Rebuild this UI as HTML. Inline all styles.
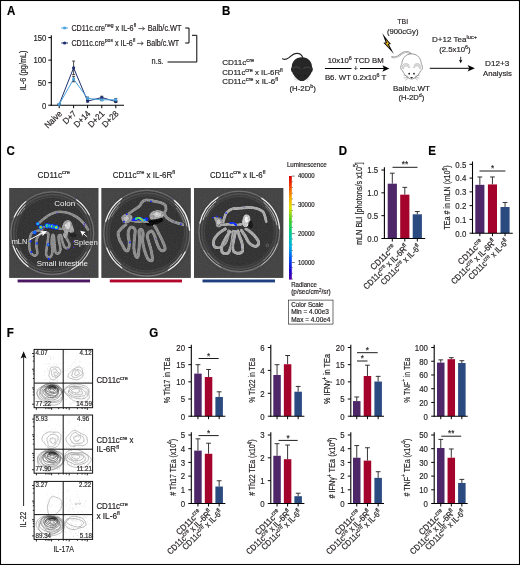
<!DOCTYPE html>
<html><head><meta charset="utf-8"><title>Figure</title>
<style>html,body{margin:0;padding:0;background:#fff}svg{display:block}text{font-family:"Liberation Sans",sans-serif}</style></head><body>
<svg width="520" height="565" viewBox="0 0 520 565">
<defs>
<filter id="b03" x="-20%" y="-20%" width="140%" height="140%"><feGaussianBlur stdDeviation="0.3"/></filter>
<filter id="b05" x="-20%" y="-20%" width="140%" height="140%"><feGaussianBlur stdDeviation="0.5"/></filter>
<filter id="b08" x="-20%" y="-20%" width="140%" height="140%"><feGaussianBlur stdDeviation="0.8"/></filter>
<filter id="b12" x="-30%" y="-30%" width="160%" height="160%"><feGaussianBlur stdDeviation="1.2"/></filter>
<linearGradient id="cbar" x1="0" y1="0" x2="0" y2="1"><stop offset="0" stop-color="#d40000"/><stop offset="0.08" stop-color="#f03000"/><stop offset="0.2" stop-color="#f5a000"/><stop offset="0.3" stop-color="#e0e000"/><stop offset="0.42" stop-color="#50d020"/><stop offset="0.55" stop-color="#00c890"/><stop offset="0.68" stop-color="#00b0e0"/><stop offset="0.8" stop-color="#0050f0"/><stop offset="0.92" stop-color="#2000d0"/><stop offset="1" stop-color="#5000a0"/></linearGradient>
<filter id="grain" x="0" y="0" width="100%" height="100%"><feTurbulence type="fractalNoise" baseFrequency="0.85" numOctaves="2" seed="3" result="n"/><feColorMatrix in="n" type="matrix" values="0.33 0.33 0.33 0 0 0.33 0.33 0.33 0 0 0.33 0.33 0.33 0 0 0 0 0 0 1" result="g"/><feComposite in="SourceGraphic" in2="g" operator="arithmetic" k1="0" k2="1" k3="0.045" k4="-0.0225"/></filter>
<filter id="tex" x="-5%" y="-5%" width="110%" height="110%"><feTurbulence type="fractalNoise" baseFrequency="0.55" numOctaves="2" seed="8" result="n"/><feColorMatrix in="n" type="matrix" values="0.33 0.33 0.33 0 0 0.33 0.33 0.33 0 0 0.33 0.33 0.33 0 0 0 0 0 0 1" result="g"/><feGaussianBlur in="SourceGraphic" stdDeviation="0.3" result="s"/><feComposite in="s" in2="g" operator="arithmetic" k1="1.0" k2="0.5" k3="0" k4="0" result="m"/><feComposite in="m" in2="s" operator="in"/></filter>
<filter id="tex2" x="-10%" y="-10%" width="120%" height="120%"><feTurbulence type="fractalNoise" baseFrequency="0.45" numOctaves="3" seed="21" result="n"/><feColorMatrix in="n" type="matrix" values="0.33 0.33 0.33 0 0 0.33 0.33 0.33 0 0 0.33 0.33 0.33 0 0 0 0 0 0 1" result="g"/><feGaussianBlur in="SourceGraphic" stdDeviation="0.45" result="s"/><feComposite in="s" in2="g" operator="arithmetic" k1="1.7" k2="0.15" k3="0" k4="0" result="m"/><feComposite in="m" in2="s" operator="in"/></filter>
</defs>
<rect x="0" y="0" width="520" height="565" fill="#fff"/>
<g opacity="0.999">
<text x="0" y="0" font-size="12" text-anchor="start" font-weight="bold" fill="#000" stroke="#000" stroke-width="0.18" transform="translate(7.0,15.2) scale(0.96,1)" >A</text>
<text x="0" y="0" font-size="12" text-anchor="start" font-weight="bold" fill="#000" stroke="#000" stroke-width="0.18" transform="translate(222.1,15.1) scale(0.96,1)" >B</text>
<text x="0" y="0" font-size="12" text-anchor="start" font-weight="bold" fill="#000" stroke="#000" stroke-width="0.18" transform="translate(6.6,154.6) scale(0.96,1)" >C</text>
<text x="0" y="0" font-size="12" text-anchor="start" font-weight="bold" fill="#000" stroke="#000" stroke-width="0.18" transform="translate(338.8,154.5) scale(0.96,1)" >D</text>
<text x="0" y="0" font-size="12" text-anchor="start" font-weight="bold" fill="#000" stroke="#000" stroke-width="0.18" transform="translate(428.3,154.5) scale(0.96,1)" >E</text>
<text x="0" y="0" font-size="12" text-anchor="start" font-weight="bold" fill="#000" stroke="#000" stroke-width="0.18" transform="translate(6.7,336.9) scale(0.96,1)" >F</text>
<text x="0" y="0" font-size="12" text-anchor="start" font-weight="bold" fill="#000" stroke="#000" stroke-width="0.18" transform="translate(149.3,337.1) scale(0.96,1)" >G</text>
<line x1="51.3" y1="35.2" x2="51.3" y2="105.7" stroke="#000" stroke-width="1.1" />
<line x1="50.8" y1="105.2" x2="124" y2="105.2" stroke="#000" stroke-width="1.1" />
<line x1="48.3" y1="105.2" x2="51.3" y2="105.2" stroke="#000" stroke-width="1" />
<text x="0" y="0" font-size="9.4" text-anchor="end" font-weight="normal" fill="#231f20" stroke="#231f20" stroke-width="0.18" transform="translate(46.3,108.5) scale(0.82,1)" >0</text>
<line x1="48.3" y1="82.675" x2="51.3" y2="82.675" stroke="#000" stroke-width="1" />
<text x="0" y="0" font-size="9.4" text-anchor="end" font-weight="normal" fill="#231f20" stroke="#231f20" stroke-width="0.18" transform="translate(46.3,85.975) scale(0.82,1)" >50</text>
<line x1="48.3" y1="60.15" x2="51.3" y2="60.15" stroke="#000" stroke-width="1" />
<text x="0" y="0" font-size="9.4" text-anchor="end" font-weight="normal" fill="#231f20" stroke="#231f20" stroke-width="0.18" transform="translate(46.3,63.449999999999996) scale(0.82,1)" >100</text>
<line x1="48.3" y1="37.625" x2="51.3" y2="37.625" stroke="#000" stroke-width="1" />
<text x="0" y="0" font-size="9.4" text-anchor="end" font-weight="normal" fill="#231f20" stroke="#231f20" stroke-width="0.18" transform="translate(46.3,40.925) scale(0.82,1)" >150</text>
<line x1="59.2" y1="105.2" x2="59.2" y2="108.2" stroke="#000" stroke-width="1" />
<line x1="73.6" y1="105.2" x2="73.6" y2="108.2" stroke="#000" stroke-width="1" />
<line x1="87.6" y1="105.2" x2="87.6" y2="108.2" stroke="#000" stroke-width="1" />
<line x1="101.8" y1="105.2" x2="101.8" y2="108.2" stroke="#000" stroke-width="1" />
<line x1="115.8" y1="105.2" x2="115.8" y2="108.2" stroke="#000" stroke-width="1" />
<text x="0" y="0" font-size="8.7" text-anchor="end" font-weight="normal" fill="#231f20" stroke="#231f20" stroke-width="0.18" transform="translate(62.6,114.2) rotate(-45) scale(0.93,1)" >Naive</text>
<text x="0" y="0" font-size="8.7" text-anchor="end" font-weight="normal" fill="#231f20" stroke="#231f20" stroke-width="0.18" transform="translate(77.0,114.2) rotate(-45) scale(0.93,1)" >D+7</text>
<text x="0" y="0" font-size="8.7" text-anchor="end" font-weight="normal" fill="#231f20" stroke="#231f20" stroke-width="0.18" transform="translate(91.0,114.2) rotate(-45) scale(0.93,1)" >D+14</text>
<text x="0" y="0" font-size="8.7" text-anchor="end" font-weight="normal" fill="#231f20" stroke="#231f20" stroke-width="0.18" transform="translate(105.2,114.2) rotate(-45) scale(0.93,1)" >D+21</text>
<text x="0" y="0" font-size="8.7" text-anchor="end" font-weight="normal" fill="#231f20" stroke="#231f20" stroke-width="0.18" transform="translate(119.2,114.2) rotate(-45) scale(0.93,1)" >D+28</text>
<text x="0" y="0" font-size="9.5" text-anchor="middle" font-weight="normal" fill="#231f20" stroke="#231f20" stroke-width="0.18" textLength="39.8" lengthAdjust="spacingAndGlyphs" transform="translate(25.9,70.4) rotate(-90)" >IL-6 (pg/mL)</text>
<polyline points="59.2,104.3 73.6,67.8 87.6,101.1 101.8,97.5 115.8,101.6" fill="none" stroke="#1d2f6f" stroke-width="1"/>
<line x1="59.2" y1="103.8485" x2="59.2" y2="104.74950000000001" stroke="#222" stroke-width="0.8" />
<line x1="57.7" y1="103.8485" x2="60.7" y2="103.8485" stroke="#222" stroke-width="0.8" />
<line x1="57.7" y1="104.74950000000001" x2="60.7" y2="104.74950000000001" stroke="#222" stroke-width="0.8" />
<circle cx="59.2" cy="104.3" r="1.6" fill="#1d2f6f"/>
<line x1="73.6" y1="61.05100000000001" x2="73.6" y2="74.566" stroke="#222" stroke-width="0.8" />
<line x1="72.1" y1="61.05100000000001" x2="75.1" y2="61.05100000000001" stroke="#222" stroke-width="0.8" />
<line x1="72.1" y1="74.566" x2="75.1" y2="74.566" stroke="#222" stroke-width="0.8" />
<circle cx="73.6" cy="67.8" r="1.6" fill="#1d2f6f"/>
<line x1="87.6" y1="100.2445" x2="87.6" y2="102.0465" stroke="#222" stroke-width="0.8" />
<line x1="86.1" y1="100.2445" x2="89.1" y2="100.2445" stroke="#222" stroke-width="0.8" />
<line x1="86.1" y1="102.0465" x2="89.1" y2="102.0465" stroke="#222" stroke-width="0.8" />
<circle cx="87.6" cy="101.1" r="1.6" fill="#1d2f6f"/>
<line x1="101.8" y1="96.19" x2="101.8" y2="98.893" stroke="#222" stroke-width="0.8" />
<line x1="100.3" y1="96.19" x2="103.3" y2="96.19" stroke="#222" stroke-width="0.8" />
<line x1="100.3" y1="98.893" x2="103.3" y2="98.893" stroke="#222" stroke-width="0.8" />
<circle cx="101.8" cy="97.5" r="1.6" fill="#1d2f6f"/>
<line x1="115.8" y1="100.69500000000001" x2="115.8" y2="102.497" stroke="#222" stroke-width="0.8" />
<line x1="114.3" y1="100.69500000000001" x2="117.3" y2="100.69500000000001" stroke="#222" stroke-width="0.8" />
<line x1="114.3" y1="102.497" x2="117.3" y2="102.497" stroke="#222" stroke-width="0.8" />
<circle cx="115.8" cy="101.6" r="1.6" fill="#1d2f6f"/>
<polyline points="59.2,104.3 73.6,79.1 87.6,98.4 101.8,99.8 115.8,99.8" fill="none" stroke="#4aa3df" stroke-width="1"/>
<line x1="59.2" y1="103.8485" x2="59.2" y2="104.74950000000001" stroke="#222" stroke-width="0.8" />
<line x1="57.7" y1="103.8485" x2="60.7" y2="103.8485" stroke="#222" stroke-width="0.8" />
<line x1="57.7" y1="104.74950000000001" x2="60.7" y2="104.74950000000001" stroke="#222" stroke-width="0.8" />
<rect x="57.80" y="102.90" width="2.80" height="2.80" fill="#4aa3df" />
<line x1="73.6" y1="76.368" x2="73.6" y2="81.774" stroke="#222" stroke-width="0.8" />
<line x1="72.1" y1="76.368" x2="75.1" y2="76.368" stroke="#222" stroke-width="0.8" />
<line x1="72.1" y1="81.774" x2="75.1" y2="81.774" stroke="#222" stroke-width="0.8" />
<rect x="72.20" y="77.67" width="2.80" height="2.80" fill="#4aa3df" />
<line x1="87.6" y1="97.091" x2="87.6" y2="99.794" stroke="#222" stroke-width="0.8" />
<line x1="86.1" y1="97.091" x2="89.1" y2="97.091" stroke="#222" stroke-width="0.8" />
<line x1="86.1" y1="99.794" x2="89.1" y2="99.794" stroke="#222" stroke-width="0.8" />
<rect x="86.20" y="97.04" width="2.80" height="2.80" fill="#4aa3df" />
<line x1="101.8" y1="98.893" x2="101.8" y2="100.695" stroke="#222" stroke-width="0.8" />
<line x1="100.3" y1="98.893" x2="103.3" y2="98.893" stroke="#222" stroke-width="0.8" />
<line x1="100.3" y1="100.695" x2="103.3" y2="100.695" stroke="#222" stroke-width="0.8" />
<rect x="100.40" y="98.39" width="2.80" height="2.80" fill="#4aa3df" />
<line x1="115.8" y1="98.4425" x2="115.8" y2="101.1455" stroke="#222" stroke-width="0.8" />
<line x1="114.3" y1="98.4425" x2="117.3" y2="98.4425" stroke="#222" stroke-width="0.8" />
<line x1="114.3" y1="101.1455" x2="117.3" y2="101.1455" stroke="#222" stroke-width="0.8" />
<rect x="114.40" y="98.39" width="2.80" height="2.80" fill="#4aa3df" />
<line x1="61.3" y1="28" x2="68" y2="28" stroke="#4aa3df" stroke-width="1" />
<rect x="63.30" y="26.70" width="2.60" height="2.60" fill="#4aa3df" />
<line x1="61.3" y1="43" x2="68" y2="43" stroke="#1d2f6f" stroke-width="1" />
<circle cx="64.6" cy="43" r="1.6" fill="#1d2f6f"/>
<text x="71.4" y="30.6" font-size="8.2" text-anchor="start" font-weight="normal" fill="#231f20" stroke="#231f20" stroke-width="0.18" textLength="64.8" lengthAdjust="spacingAndGlyphs" >CD11c.cre<tspan dy="-3.12" font-size="5.74">neg</tspan><tspan dy="3.12" font-size="8.2">&#8203;</tspan> x IL-6<tspan dy="-3.12" font-size="5.74">fl</tspan><tspan dy="3.12" font-size="8.2">&#8203;</tspan></text>
<text x="147.7" y="30.6" font-size="8.2" text-anchor="start" font-weight="normal" fill="#231f20" stroke="#231f20" stroke-width="0.18" textLength="33.8" lengthAdjust="spacingAndGlyphs" >Balb/c.WT</text>
<path d="M138.4 28.6 H144.3 M142.3 26.9 L144.6 28.6 L142.3 30.3" fill="none" stroke="#231f20" stroke-width="0.7"/>
<text x="71.4" y="45.6" font-size="8.2" text-anchor="start" font-weight="normal" fill="#231f20" stroke="#231f20" stroke-width="0.18" textLength="64.0" lengthAdjust="spacingAndGlyphs" >CD11c.cre<tspan dy="-3.12" font-size="5.74">pos</tspan><tspan dy="3.12" font-size="8.2">&#8203;</tspan> x IL-6<tspan dy="-3.12" font-size="5.74">fl</tspan><tspan dy="3.12" font-size="8.2">&#8203;</tspan></text>
<text x="146.5" y="45.6" font-size="8.2" text-anchor="start" font-weight="normal" fill="#231f20" stroke="#231f20" stroke-width="0.18" textLength="32.7" lengthAdjust="spacingAndGlyphs" >Balb/c.WT</text>
<path d="M137.1 43.4 H143.0 M141.0 41.7 L143.3 43.4 L141.0 45.1" fill="none" stroke="#231f20" stroke-width="0.7"/>
<path d="M185.2 28 H189 V43 H185.2" fill="none" stroke="#000" stroke-width="1"/>
<path d="M192 35.3 H196.8 V62 H167.5" fill="none" stroke="#000" stroke-width="1"/>
<text x="151.6" y="64.2" font-size="8.2" text-anchor="start" font-weight="normal" fill="#231f20" stroke="#231f20" stroke-width="0.18" textLength="11.8" lengthAdjust="spacingAndGlyphs" >n.s.</text>
<text x="222.2" y="64.9" font-size="8.0" text-anchor="start" font-weight="normal" fill="#231f20" stroke="#231f20" stroke-width="0.18" textLength="32" lengthAdjust="spacingAndGlyphs" >CD11c<tspan dy="-3.04" font-size="5.60">cre</tspan><tspan dy="3.04" font-size="8.0">&#8203;</tspan></text>
<text x="222.2" y="74.6" font-size="8.0" text-anchor="start" font-weight="normal" fill="#231f20" stroke="#231f20" stroke-width="0.18" textLength="60.5" lengthAdjust="spacingAndGlyphs" >CD11c<tspan dy="-3.04" font-size="5.60">cre</tspan><tspan dy="3.04" font-size="8.0">&#8203;</tspan> x IL-6R<tspan dy="-3.04" font-size="5.60">fl</tspan><tspan dy="3.04" font-size="8.0">&#8203;</tspan></text>
<text x="222.2" y="84.0" font-size="8.0" text-anchor="start" font-weight="normal" fill="#231f20" stroke="#231f20" stroke-width="0.18" textLength="55.8" lengthAdjust="spacingAndGlyphs" >CD11c<tspan dy="-3.04" font-size="5.60">cre</tspan><tspan dy="3.04" font-size="8.0">&#8203;</tspan> x IL-6<tspan dy="-3.04" font-size="5.60">fl</tspan><tspan dy="3.04" font-size="8.0">&#8203;</tspan></text>
<g transform="translate(301.9,68.5)">
<path d="M0.9,-10.8 C0.2,-13 -2,-15.2 -4.8,-15.2 C-8.5,-15.2 -10.5,-13.2 -12.6,-11.1 C-14.5,-9.3 -17,-8.6 -19.4,-9.7" fill="none" stroke="#232323" stroke-width="1.15" stroke-linecap="round"/>
<path d="M0,-11.2 C6.6,-11.2 10.1,-6.5 10.1,-1.6 C11.3,-0.6 11.3,2.6 9.6,3.7 C8.5,7.2 4,12.6 0,12.6 C-4,12.6 -8.5,7.2 -9.6,3.7 C-11.3,2.6 -11.3,-0.6 -10.1,-1.6 C-10.1,-6.5 -6.6,-11.2 0,-11.2 Z" fill="#262626"/>
<path d="M-9.3,0.6 C-7.5,-2.2 -3.2,-2.0 -1.3,0.6 M9.3,0.6 C7.5,-2.2 3.2,-2.0 1.3,0.6" fill="none" stroke="#505050" stroke-width="0.8"/>
<path d="M-4.2,6.6 C-3.6,7.6 -2.6,7.8 -1.8,7.2 M4.2,6.6 C3.6,7.6 2.6,7.8 1.8,7.2" fill="none" stroke="#111" stroke-width="0.7"/>
<path d="M-5.0,10.0 L-8.4,9.1 M-5.0,10.6 L-7.9,11.5 M-4.4,11.4 L-6.2,13.3 M5.0,10.0 L8.4,9.1 M5.0,10.6 L7.9,11.5 M4.4,11.4 L6.2,13.3" stroke="#b0b0b0" stroke-width="0.4"/>
</g>
<text x="302.7" y="91.3" font-size="8.0" text-anchor="middle" font-weight="normal" fill="#231f20" stroke="#231f20" stroke-width="0.18" textLength="26.5" lengthAdjust="spacingAndGlyphs" >(H-2D<tspan dy="-3.04" font-size="5.60">b</tspan><tspan dy="3.04" font-size="8.0">&#8203;</tspan>)</text>
<line x1="324.9" y1="68.5" x2="351.5" y2="68.5" stroke="#000" stroke-width="1" />
<line x1="360" y1="68.5" x2="384" y2="68.5" stroke="#000" stroke-width="1" />
<path d="M389.4 68.5 L382.3 65.3 L384 68.5 L382.3 71.7 Z" fill="#000"/>
<text x="355.7" y="70.8" font-size="7" text-anchor="middle" font-weight="normal" fill="#231f20" stroke="#231f20" stroke-width="0.18" >+</text>
<text x="327.7" y="62.8" font-size="8.0" text-anchor="start" font-weight="normal" fill="#231f20" stroke="#231f20" stroke-width="0.18" textLength="56" lengthAdjust="spacingAndGlyphs" >10x10<tspan dy="-3.04" font-size="5.60">6</tspan><tspan dy="3.04" font-size="8.0">&#8203;</tspan> TCD BM</text>
<text x="324.9" y="79.8" font-size="8.0" text-anchor="start" font-weight="normal" fill="#231f20" stroke="#231f20" stroke-width="0.18" textLength="61.5" lengthAdjust="spacingAndGlyphs" >B6. WT 0.2x10<tspan dy="-3.04" font-size="5.60">6</tspan><tspan dy="3.04" font-size="8.0">&#8203;</tspan> T</text>
<path d="M382.3,33.2 L388.7,41.4 L391.0,43.9 L388.9,44.5 L393.9,54.1 L386.5,45.9 L383.3,42.7 L385.7,42.4 Z" fill="#0c0c0c"/>
<path d="M385.9,39.2 L388.3,42.6 L389.4,43.7 L387.6,44.1 L389.6,48.2 L386.9,45.0 L385.2,43.2 L387.0,42.9 Z" fill="#e8b21e"/>
<text x="402.7" y="24.3" font-size="8.0" text-anchor="middle" font-weight="normal" fill="#231f20" stroke="#231f20" stroke-width="0.18" textLength="10.8" lengthAdjust="spacingAndGlyphs" >TBI</text>
<text x="402.7" y="33.8" font-size="8.0" text-anchor="middle" font-weight="normal" fill="#231f20" stroke="#231f20" stroke-width="0.18" textLength="31.5" lengthAdjust="spacingAndGlyphs" >(900cGy)</text>
<g transform="translate(411.6,66.5)">
<path d="M-0.2,-11.4 C-2.5,-15.6 -7.5,-15.6 -11.2,-11.8 C-13.8,-9.2 -16.5,-8.6 -19.4,-9.6" fill="none" stroke="#8c8c8c" stroke-width="1.9" stroke-linecap="round"/>
<path d="M-0.4,-11.6 C-2.6,-15.4 -7.4,-15.4 -11.0,-11.8 C-13.6,-9.2 -16.4,-8.6 -19.0,-9.5" fill="none" stroke="#f4f4f4" stroke-width="0.8" stroke-linecap="round"/>
<path d="M0,-12.6 C6.8,-12.6 9.6,-7 9.7,-2.4 C11.4,-1 11.3,3.6 8.8,4.6 C7.4,8.4 3.2,12.5 0,12.5 C-3.2,12.5 -7.4,8.4 -8.8,4.6 C-11.3,3.6 -11.4,-1 -9.7,-2.4 C-9.6,-7 -6.8,-12.6 0,-12.6 Z" fill="#fff" stroke="#7c7c7c" stroke-width="0.75"/>
<path d="M-9.2,2.4 C-9.2,-2.6 -3.4,-3.0 -1.6,1.2 M9.2,2.4 C9.2,-2.6 3.4,-3.0 1.6,1.2 M-8.2,2.6 C-7.8,-1.4 -3.8,-1.6 -2.4,1.6 M8.2,2.6 C7.8,-1.4 3.8,-1.6 2.4,1.6 M-9.6,0 C-8.4,-3.4 -4.2,-3.8 -2.2,-1.2 M9.6,0 C8.4,-3.4 4.2,-3.8 2.2,-1.2" fill="none" stroke="#8a8a8a" stroke-width="0.5"/>
<circle cx="-2.4" cy="7.2" r="0.85" fill="#111"/><circle cx="2.4" cy="7.2" r="0.85" fill="#111"/>
<path d="M-1.6,10.4 L1.6,10.4 L0,12.2 Z" fill="#333"/>
<path d="M-3.4,9.8 L-8.2,8.6 M-3.4,10.6 L-8,11.6 M-3,11.4 L-6.4,13.8 M3.4,9.8 L8.2,8.6 M3.4,10.6 L8,11.6 M3,11.4 L6.4,13.8" stroke="#666" stroke-width="0.4"/>
</g>
<text x="411.4" y="90.9" font-size="8.0" text-anchor="middle" font-weight="normal" fill="#231f20" stroke="#231f20" stroke-width="0.18" textLength="36.8" lengthAdjust="spacingAndGlyphs" >Balb/c.WT</text>
<text x="411.4" y="100.3" font-size="8.0" text-anchor="middle" font-weight="normal" fill="#231f20" stroke="#231f20" stroke-width="0.18" textLength="26" lengthAdjust="spacingAndGlyphs" >(H-2D<tspan dy="-3.04" font-size="5.60">d</tspan><tspan dy="3.04" font-size="8.0">&#8203;</tspan>)</text>
<line x1="429.8" y1="68.3" x2="469.5" y2="68.3" stroke="#000" stroke-width="1" />
<path d="M474.9 68.3 L467.6 65 L469.3 68.3 L467.6 71.6 Z" fill="#000"/>
<text x="432" y="42.4" font-size="8.0" text-anchor="start" font-weight="normal" fill="#231f20" stroke="#231f20" stroke-width="0.18" textLength="45" lengthAdjust="spacingAndGlyphs" >D+12 Tea<tspan dy="-3.04" font-size="5.60">luc+</tspan><tspan dy="3.04" font-size="8.0">&#8203;</tspan></text>
<text x="439.2" y="52.2" font-size="8.0" text-anchor="start" font-weight="normal" fill="#231f20" stroke="#231f20" stroke-width="0.18" textLength="31.5" lengthAdjust="spacingAndGlyphs" >(2.5x10<tspan dy="-3.04" font-size="5.60">6</tspan><tspan dy="3.04" font-size="8.0">&#8203;</tspan>)</text>
<line x1="460.7" y1="56.8" x2="460.7" y2="61" stroke="#000" stroke-width="0.8" />
<path d="M460.7 63.3 L458.9 59.8 L460.7 60.6 L462.5 59.8 Z" fill="#000"/>
<text x="497.1" y="66.1" font-size="8.0" text-anchor="middle" font-weight="normal" fill="#231f20" stroke="#231f20" stroke-width="0.18" textLength="24.2" lengthAdjust="spacingAndGlyphs" >D12+3</text>
<text x="497.5" y="76" font-size="8.0" text-anchor="middle" font-weight="normal" fill="#231f20" stroke="#231f20" stroke-width="0.18" textLength="28.8" lengthAdjust="spacingAndGlyphs" >Analysis</text>
<line x1="392.3" y1="183.7" x2="392.3" y2="173.19666666666666" stroke="#231f20" stroke-width="0.9" />
<line x1="389.90000000000003" y1="173.19666666666666" x2="394.7" y2="173.19666666666666" stroke="#231f20" stroke-width="0.9" />
<rect x="387.70" y="183.70" width="9.20" height="54.80" fill="#4d2768" />
<line x1="404.8" y1="194.66" x2="404.8" y2="187.35333333333332" stroke="#231f20" stroke-width="0.9" />
<line x1="402.40000000000003" y1="187.35333333333332" x2="407.2" y2="187.35333333333332" stroke="#231f20" stroke-width="0.9" />
<rect x="400.20" y="194.66" width="9.20" height="43.84" fill="#a4042b" />
<line x1="417.3" y1="214.29666666666668" x2="417.3" y2="211.55666666666667" stroke="#231f20" stroke-width="0.9" />
<line x1="414.90000000000003" y1="211.55666666666667" x2="419.7" y2="211.55666666666667" stroke="#231f20" stroke-width="0.9" />
<rect x="412.70" y="214.30" width="9.20" height="24.20" fill="#2b4a7f" />
<line x1="384.4" y1="167.2" x2="384.4" y2="239.0" stroke="#000" stroke-width="1.1" />
<line x1="383.9" y1="238.5" x2="425.2" y2="238.5" stroke="#000" stroke-width="1.1" />
<line x1="381.4" y1="238.5" x2="384.4" y2="238.5" stroke="#000" stroke-width="1" />
<text x="0" y="0" font-size="9.6" text-anchor="end" font-weight="normal" fill="#231f20" stroke="#231f20" stroke-width="0.18" transform="translate(378.2,241.8) scale(0.82,1)" >0.0</text>
<line x1="381.4" y1="215.66666666666666" x2="384.4" y2="215.66666666666666" stroke="#000" stroke-width="1" />
<text x="0" y="0" font-size="9.6" text-anchor="end" font-weight="normal" fill="#231f20" stroke="#231f20" stroke-width="0.18" transform="translate(378.2,218.96666666666667) scale(0.82,1)" >0.5</text>
<line x1="381.4" y1="192.83333333333334" x2="384.4" y2="192.83333333333334" stroke="#000" stroke-width="1" />
<text x="0" y="0" font-size="9.6" text-anchor="end" font-weight="normal" fill="#231f20" stroke="#231f20" stroke-width="0.18" transform="translate(378.2,196.13333333333335) scale(0.82,1)" >1.0</text>
<line x1="381.4" y1="170.0" x2="384.4" y2="170.0" stroke="#000" stroke-width="1" />
<text x="0" y="0" font-size="9.6" text-anchor="end" font-weight="normal" fill="#231f20" stroke="#231f20" stroke-width="0.18" transform="translate(378.2,173.3) scale(0.82,1)" >1.5</text>
<line x1="392.3" y1="238.5" x2="392.3" y2="241.5" stroke="#000" stroke-width="1" />
<line x1="404.8" y1="238.5" x2="404.8" y2="241.5" stroke="#000" stroke-width="1" />
<line x1="417.3" y1="238.5" x2="417.3" y2="241.5" stroke="#000" stroke-width="1" />
<text x="0" y="0" font-size="9.5" text-anchor="middle" font-weight="normal" fill="#231f20" stroke="#231f20" stroke-width="0.18" textLength="83" lengthAdjust="spacingAndGlyphs" transform="translate(362,203.6) rotate(-90)" >mLN BLI [photons/s x10<tspan dy="-3.61" font-size="6.65">5</tspan><tspan dy="3.61" font-size="9.5">&#8203;</tspan>]</text>
<line x1="392.5" y1="167.3" x2="417.5" y2="167.3" stroke="#000" stroke-width="0.9" />
<text x="0" y="0" font-size="9" text-anchor="middle" font-weight="normal" fill="#231f20" stroke="#231f20" stroke-width="0.18" transform="translate(405.0,167.4) scale(0.9,1)" >**</text>
<text x="0" y="0" font-size="8.6" text-anchor="end" font-weight="normal" fill="#231f20" stroke="#231f20" stroke-width="0.18" textLength="31.8" lengthAdjust="spacingAndGlyphs" transform="translate(396.3,248.1) rotate(-45)" >CD11c<tspan dy="-3.27" font-size="6.02">cre</tspan><tspan dy="3.27" font-size="8.6">&#8203;</tspan></text>
<text x="0" y="0" font-size="8.6" text-anchor="end" font-weight="normal" fill="#231f20" stroke="#231f20" stroke-width="0.18" textLength="59.4" lengthAdjust="spacingAndGlyphs" transform="translate(408.8,248.1) rotate(-45)" >CD11c<tspan dy="-3.27" font-size="6.02">cre</tspan><tspan dy="3.27" font-size="8.6">&#8203;</tspan> x IL-6R<tspan dy="-3.27" font-size="6.02">fl</tspan><tspan dy="3.27" font-size="8.6">&#8203;</tspan></text>
<text x="0" y="0" font-size="8.6" text-anchor="end" font-weight="normal" fill="#231f20" stroke="#231f20" stroke-width="0.18" textLength="52.8" lengthAdjust="spacingAndGlyphs" transform="translate(421.3,248.1) rotate(-45)" >CD11c<tspan dy="-3.27" font-size="6.02">cre</tspan><tspan dy="3.27" font-size="8.6">&#8203;</tspan> x IL-6<tspan dy="-3.27" font-size="6.02">fl</tspan><tspan dy="3.27" font-size="8.6">&#8203;</tspan></text>
<line x1="479.85" y1="184.8322" x2="479.85" y2="176.9776" stroke="#231f20" stroke-width="0.9" />
<line x1="477.45000000000005" y1="176.9776" x2="482.25" y2="176.9776" stroke="#231f20" stroke-width="0.9" />
<rect x="475.30" y="184.83" width="9.10" height="48.37" fill="#4d2768" />
<line x1="492.45000000000005" y1="184.4188" x2="492.45000000000005" y2="176.9776" stroke="#231f20" stroke-width="0.9" />
<line x1="490.05000000000007" y1="176.9776" x2="494.85" y2="176.9776" stroke="#231f20" stroke-width="0.9" />
<rect x="487.90" y="184.42" width="9.10" height="48.78" fill="#a4042b" />
<line x1="505.05" y1="207.018" x2="505.05" y2="202.4706" stroke="#231f20" stroke-width="0.9" />
<line x1="502.65000000000003" y1="202.4706" x2="507.45" y2="202.4706" stroke="#231f20" stroke-width="0.9" />
<rect x="500.50" y="207.02" width="9.10" height="26.18" fill="#2b4a7f" />
<line x1="472.5" y1="161.5" x2="472.5" y2="233.7" stroke="#000" stroke-width="1.1" />
<line x1="472.0" y1="233.2" x2="512.8" y2="233.2" stroke="#000" stroke-width="1.1" />
<line x1="469.5" y1="233.2" x2="472.5" y2="233.2" stroke="#000" stroke-width="1" />
<text x="0" y="0" font-size="9.6" text-anchor="end" font-weight="normal" fill="#231f20" stroke="#231f20" stroke-width="0.18" transform="translate(466.3,236.5) scale(0.82,1)" >0.0</text>
<line x1="469.5" y1="219.42" x2="472.5" y2="219.42" stroke="#000" stroke-width="1" />
<text x="0" y="0" font-size="9.6" text-anchor="end" font-weight="normal" fill="#231f20" stroke="#231f20" stroke-width="0.18" transform="translate(466.3,222.72) scale(0.82,1)" >0.1</text>
<line x1="469.5" y1="205.64" x2="472.5" y2="205.64" stroke="#000" stroke-width="1" />
<text x="0" y="0" font-size="9.6" text-anchor="end" font-weight="normal" fill="#231f20" stroke="#231f20" stroke-width="0.18" transform="translate(466.3,208.94) scale(0.82,1)" >0.2</text>
<line x1="469.5" y1="191.86" x2="472.5" y2="191.86" stroke="#000" stroke-width="1" />
<text x="0" y="0" font-size="9.6" text-anchor="end" font-weight="normal" fill="#231f20" stroke="#231f20" stroke-width="0.18" transform="translate(466.3,195.16000000000003) scale(0.82,1)" >0.3</text>
<line x1="469.5" y1="178.08" x2="472.5" y2="178.08" stroke="#000" stroke-width="1" />
<text x="0" y="0" font-size="9.6" text-anchor="end" font-weight="normal" fill="#231f20" stroke="#231f20" stroke-width="0.18" transform="translate(466.3,181.38000000000002) scale(0.82,1)" >0.4</text>
<line x1="469.5" y1="164.3" x2="472.5" y2="164.3" stroke="#000" stroke-width="1" />
<text x="0" y="0" font-size="9.6" text-anchor="end" font-weight="normal" fill="#231f20" stroke="#231f20" stroke-width="0.18" transform="translate(466.3,167.60000000000002) scale(0.82,1)" >0.5</text>
<line x1="479.85" y1="233.2" x2="479.85" y2="236.2" stroke="#000" stroke-width="1" />
<line x1="492.45000000000005" y1="233.2" x2="492.45000000000005" y2="236.2" stroke="#000" stroke-width="1" />
<line x1="505.05" y1="233.2" x2="505.05" y2="236.2" stroke="#000" stroke-width="1" />
<text x="0" y="0" font-size="9.5" text-anchor="middle" font-weight="normal" fill="#231f20" stroke="#231f20" stroke-width="0.18" textLength="64" lengthAdjust="spacingAndGlyphs" transform="translate(450.2,197.5) rotate(-90)" >TEa # in mLN (x10<tspan dy="-3.61" font-size="6.65">6</tspan><tspan dy="3.61" font-size="9.5">&#8203;</tspan>)</text>
<line x1="479.5" y1="171" x2="505.4" y2="171" stroke="#000" stroke-width="0.9" />
<text x="0" y="0" font-size="9" text-anchor="middle" font-weight="normal" fill="#231f20" stroke="#231f20" stroke-width="0.18" transform="translate(492.45,171.1) scale(0.9,1)" >*</text>
<text x="0" y="0" font-size="8.6" text-anchor="end" font-weight="normal" fill="#231f20" stroke="#231f20" stroke-width="0.18" textLength="31.8" lengthAdjust="spacingAndGlyphs" transform="translate(483.85,242.79999999999998) rotate(-45)" >CD11c<tspan dy="-3.27" font-size="6.02">cre</tspan><tspan dy="3.27" font-size="8.6">&#8203;</tspan></text>
<text x="0" y="0" font-size="8.6" text-anchor="end" font-weight="normal" fill="#231f20" stroke="#231f20" stroke-width="0.18" textLength="59.4" lengthAdjust="spacingAndGlyphs" transform="translate(496.45000000000005,242.79999999999998) rotate(-45)" >CD11c<tspan dy="-3.27" font-size="6.02">cre</tspan><tspan dy="3.27" font-size="8.6">&#8203;</tspan> x IL-6R<tspan dy="-3.27" font-size="6.02">fl</tspan><tspan dy="3.27" font-size="8.6">&#8203;</tspan></text>
<text x="0" y="0" font-size="8.6" text-anchor="end" font-weight="normal" fill="#231f20" stroke="#231f20" stroke-width="0.18" textLength="52.8" lengthAdjust="spacingAndGlyphs" transform="translate(509.05,242.79999999999998) rotate(-45)" >CD11c<tspan dy="-3.27" font-size="6.02">cre</tspan><tspan dy="3.27" font-size="8.6">&#8203;</tspan> x IL-6<tspan dy="-3.27" font-size="6.02">fl</tspan><tspan dy="3.27" font-size="8.6">&#8203;</tspan></text>
<line x1="197.95" y1="373.606" x2="197.95" y2="364.675" stroke="#231f20" stroke-width="0.9" />
<line x1="195.54999999999998" y1="364.675" x2="200.35" y2="364.675" stroke="#231f20" stroke-width="0.9" />
<rect x="194.20" y="373.61" width="7.50" height="42.59" fill="#4d2768" />
<line x1="208.54999999999998" y1="377.041" x2="208.54999999999998" y2="369.484" stroke="#231f20" stroke-width="0.9" />
<line x1="206.14999999999998" y1="369.484" x2="210.95" y2="369.484" stroke="#231f20" stroke-width="0.9" />
<rect x="204.80" y="377.04" width="7.50" height="39.16" fill="#a4042b" />
<line x1="219.14999999999998" y1="396.964" x2="219.14999999999998" y2="391.81149999999997" stroke="#231f20" stroke-width="0.9" />
<line x1="216.74999999999997" y1="391.81149999999997" x2="221.54999999999998" y2="391.81149999999997" stroke="#231f20" stroke-width="0.9" />
<rect x="215.40" y="396.96" width="7.50" height="19.24" fill="#2b4a7f" />
<line x1="191.3" y1="344.7" x2="191.3" y2="416.7" stroke="#000" stroke-width="1.1" />
<line x1="190.8" y1="416.2" x2="225.4" y2="416.2" stroke="#000" stroke-width="1.1" />
<line x1="188.3" y1="416.2" x2="191.3" y2="416.2" stroke="#000" stroke-width="1" />
<text x="0" y="0" font-size="9.6" text-anchor="end" font-weight="normal" fill="#231f20" stroke="#231f20" stroke-width="0.18" transform="translate(185.10000000000002,419.5) scale(0.82,1)" >0</text>
<line x1="188.3" y1="399.025" x2="191.3" y2="399.025" stroke="#000" stroke-width="1" />
<text x="0" y="0" font-size="9.6" text-anchor="end" font-weight="normal" fill="#231f20" stroke="#231f20" stroke-width="0.18" transform="translate(185.10000000000002,402.325) scale(0.82,1)" >5</text>
<line x1="188.3" y1="381.85" x2="191.3" y2="381.85" stroke="#000" stroke-width="1" />
<text x="0" y="0" font-size="9.6" text-anchor="end" font-weight="normal" fill="#231f20" stroke="#231f20" stroke-width="0.18" transform="translate(185.10000000000002,385.15000000000003) scale(0.82,1)" >10</text>
<line x1="188.3" y1="364.675" x2="191.3" y2="364.675" stroke="#000" stroke-width="1" />
<text x="0" y="0" font-size="9.6" text-anchor="end" font-weight="normal" fill="#231f20" stroke="#231f20" stroke-width="0.18" transform="translate(185.10000000000002,367.975) scale(0.82,1)" >15</text>
<line x1="188.3" y1="347.5" x2="191.3" y2="347.5" stroke="#000" stroke-width="1" />
<text x="0" y="0" font-size="9.6" text-anchor="end" font-weight="normal" fill="#231f20" stroke="#231f20" stroke-width="0.18" transform="translate(185.10000000000002,350.8) scale(0.82,1)" >20</text>
<line x1="197.95" y1="416.2" x2="197.95" y2="419.2" stroke="#000" stroke-width="1" />
<line x1="208.54999999999998" y1="416.2" x2="208.54999999999998" y2="419.2" stroke="#000" stroke-width="1" />
<line x1="219.14999999999998" y1="416.2" x2="219.14999999999998" y2="419.2" stroke="#000" stroke-width="1" />
<text x="0" y="0" font-size="9.5" text-anchor="middle" font-weight="normal" fill="#231f20" stroke="#231f20" stroke-width="0.18" textLength="45.6" lengthAdjust="spacingAndGlyphs" transform="translate(170.3,380.5) rotate(-90)" >% Th17 in TEa</text>
<line x1="198.5" y1="358.5" x2="218.7" y2="358.5" stroke="#000" stroke-width="0.9" />
<text x="0" y="0" font-size="9" text-anchor="middle" font-weight="normal" fill="#231f20" stroke="#231f20" stroke-width="0.18" transform="translate(208.6,358.6) scale(0.9,1)" >*</text>
<line x1="277.05" y1="374.98" x2="277.05" y2="364.675" stroke="#231f20" stroke-width="0.9" />
<line x1="274.65000000000003" y1="364.675" x2="279.45" y2="364.675" stroke="#231f20" stroke-width="0.9" />
<rect x="273.30" y="374.98" width="7.50" height="41.22" fill="#4d2768" />
<line x1="287.6" y1="364.217" x2="287.6" y2="355.515" stroke="#231f20" stroke-width="0.9" />
<line x1="285.20000000000005" y1="355.515" x2="290.0" y2="355.515" stroke="#231f20" stroke-width="0.9" />
<rect x="283.85" y="364.22" width="7.50" height="51.98" fill="#a4042b" />
<line x1="298.15000000000003" y1="391.697" x2="298.15000000000003" y2="386.43" stroke="#231f20" stroke-width="0.9" />
<line x1="295.75000000000006" y1="386.43" x2="300.55" y2="386.43" stroke="#231f20" stroke-width="0.9" />
<rect x="294.40" y="391.70" width="7.50" height="24.50" fill="#2b4a7f" />
<line x1="270.8" y1="344.7" x2="270.8" y2="416.7" stroke="#000" stroke-width="1.1" />
<line x1="270.3" y1="416.2" x2="304.4" y2="416.2" stroke="#000" stroke-width="1.1" />
<line x1="267.8" y1="416.2" x2="270.8" y2="416.2" stroke="#000" stroke-width="1" />
<text x="0" y="0" font-size="9.6" text-anchor="end" font-weight="normal" fill="#231f20" stroke="#231f20" stroke-width="0.18" transform="translate(264.6,419.5) scale(0.82,1)" >0</text>
<line x1="267.8" y1="393.3" x2="270.8" y2="393.3" stroke="#000" stroke-width="1" />
<text x="0" y="0" font-size="9.6" text-anchor="end" font-weight="normal" fill="#231f20" stroke="#231f20" stroke-width="0.18" transform="translate(264.6,396.6) scale(0.82,1)" >2</text>
<line x1="267.8" y1="370.4" x2="270.8" y2="370.4" stroke="#000" stroke-width="1" />
<text x="0" y="0" font-size="9.6" text-anchor="end" font-weight="normal" fill="#231f20" stroke="#231f20" stroke-width="0.18" transform="translate(264.6,373.7) scale(0.82,1)" >4</text>
<line x1="267.8" y1="347.5" x2="270.8" y2="347.5" stroke="#000" stroke-width="1" />
<text x="0" y="0" font-size="9.6" text-anchor="end" font-weight="normal" fill="#231f20" stroke="#231f20" stroke-width="0.18" transform="translate(264.6,350.8) scale(0.82,1)" >6</text>
<line x1="277.05" y1="416.2" x2="277.05" y2="419.2" stroke="#000" stroke-width="1" />
<line x1="287.6" y1="416.2" x2="287.6" y2="419.2" stroke="#000" stroke-width="1" />
<line x1="298.15000000000003" y1="416.2" x2="298.15000000000003" y2="419.2" stroke="#000" stroke-width="1" />
<text x="0" y="0" font-size="9.5" text-anchor="middle" font-weight="normal" fill="#231f20" stroke="#231f20" stroke-width="0.18" textLength="44.7" lengthAdjust="spacingAndGlyphs" transform="translate(255.1,380.4) rotate(-90)" >% Th22 in TEa</text>
<line x1="356.75" y1="401.086" x2="356.75" y2="396.964" stroke="#231f20" stroke-width="0.9" />
<line x1="354.35" y1="396.964" x2="359.15" y2="396.964" stroke="#231f20" stroke-width="0.9" />
<rect x="353.00" y="401.09" width="7.50" height="15.11" fill="#4d2768" />
<line x1="367.45" y1="376.0105" x2="367.45" y2="365.19025" stroke="#231f20" stroke-width="0.9" />
<line x1="365.05" y1="365.19025" x2="369.84999999999997" y2="365.19025" stroke="#231f20" stroke-width="0.9" />
<rect x="363.70" y="376.01" width="7.50" height="40.19" fill="#a4042b" />
<line x1="378.15" y1="381.5065" x2="378.15" y2="376.354" stroke="#231f20" stroke-width="0.9" />
<line x1="375.75" y1="376.354" x2="380.54999999999995" y2="376.354" stroke="#231f20" stroke-width="0.9" />
<rect x="374.40" y="381.51" width="7.50" height="34.69" fill="#2b4a7f" />
<line x1="350.8" y1="344.7" x2="350.8" y2="416.7" stroke="#000" stroke-width="1.1" />
<line x1="350.3" y1="416.2" x2="384" y2="416.2" stroke="#000" stroke-width="1.1" />
<line x1="347.8" y1="416.2" x2="350.8" y2="416.2" stroke="#000" stroke-width="1" />
<text x="0" y="0" font-size="9.6" text-anchor="end" font-weight="normal" fill="#231f20" stroke="#231f20" stroke-width="0.18" transform="translate(344.6,419.5) scale(0.82,1)" >0</text>
<line x1="347.8" y1="399.025" x2="350.8" y2="399.025" stroke="#000" stroke-width="1" />
<text x="0" y="0" font-size="9.6" text-anchor="end" font-weight="normal" fill="#231f20" stroke="#231f20" stroke-width="0.18" transform="translate(344.6,402.325) scale(0.82,1)" >5</text>
<line x1="347.8" y1="381.85" x2="350.8" y2="381.85" stroke="#000" stroke-width="1" />
<text x="0" y="0" font-size="9.6" text-anchor="end" font-weight="normal" fill="#231f20" stroke="#231f20" stroke-width="0.18" transform="translate(344.6,385.15000000000003) scale(0.82,1)" >10</text>
<line x1="347.8" y1="364.675" x2="350.8" y2="364.675" stroke="#000" stroke-width="1" />
<text x="0" y="0" font-size="9.6" text-anchor="end" font-weight="normal" fill="#231f20" stroke="#231f20" stroke-width="0.18" transform="translate(344.6,367.975) scale(0.82,1)" >15</text>
<line x1="347.8" y1="347.5" x2="350.8" y2="347.5" stroke="#000" stroke-width="1" />
<text x="0" y="0" font-size="9.6" text-anchor="end" font-weight="normal" fill="#231f20" stroke="#231f20" stroke-width="0.18" transform="translate(344.6,350.8) scale(0.82,1)" >20</text>
<line x1="356.75" y1="416.2" x2="356.75" y2="419.2" stroke="#000" stroke-width="1" />
<line x1="367.45" y1="416.2" x2="367.45" y2="419.2" stroke="#000" stroke-width="1" />
<line x1="378.15" y1="416.2" x2="378.15" y2="419.2" stroke="#000" stroke-width="1" />
<text x="0" y="0" font-size="9.5" text-anchor="middle" font-weight="normal" fill="#231f20" stroke="#231f20" stroke-width="0.18" textLength="50" lengthAdjust="spacingAndGlyphs" transform="translate(330.4,379.0) rotate(-90)" >% IFNγ<tspan dy="-3.61" font-size="6.65">+</tspan><tspan dy="3.61" font-size="9.5">&#8203;</tspan> in TEa</text>
<line x1="357" y1="352.7" x2="377.7" y2="352.7" stroke="#000" stroke-width="0.9" />
<text x="0" y="0" font-size="9" text-anchor="middle" font-weight="normal" fill="#231f20" stroke="#231f20" stroke-width="0.18" transform="translate(367.35,352.8) scale(0.9,1)" >*</text>
<line x1="357" y1="361" x2="367.5" y2="361" stroke="#000" stroke-width="0.9" />
<text x="0" y="0" font-size="9" text-anchor="middle" font-weight="normal" fill="#231f20" stroke="#231f20" stroke-width="0.18" transform="translate(362.25,361.1) scale(0.9,1)" >*</text>
<line x1="440.75" y1="362.61400000000003" x2="440.75" y2="359.866" stroke="#231f20" stroke-width="0.9" />
<line x1="438.35" y1="359.866" x2="443.15" y2="359.866" stroke="#231f20" stroke-width="0.9" />
<rect x="437.00" y="362.61" width="7.50" height="53.59" fill="#4d2768" />
<line x1="451.3" y1="359.179" x2="451.3" y2="357.6676" stroke="#231f20" stroke-width="0.9" />
<line x1="448.90000000000003" y1="357.6676" x2="453.7" y2="357.6676" stroke="#231f20" stroke-width="0.9" />
<rect x="447.55" y="359.18" width="7.50" height="57.02" fill="#a4042b" />
<line x1="461.85" y1="363.0262" x2="461.85" y2="360.6904" stroke="#231f20" stroke-width="0.9" />
<line x1="459.45000000000005" y1="360.6904" x2="464.25" y2="360.6904" stroke="#231f20" stroke-width="0.9" />
<rect x="458.10" y="363.03" width="7.50" height="53.17" fill="#2b4a7f" />
<line x1="434.2" y1="344.7" x2="434.2" y2="416.7" stroke="#000" stroke-width="1.1" />
<line x1="433.7" y1="416.2" x2="467.7" y2="416.2" stroke="#000" stroke-width="1.1" />
<line x1="431.2" y1="416.2" x2="434.2" y2="416.2" stroke="#000" stroke-width="1" />
<text x="0" y="0" font-size="9.6" text-anchor="end" font-weight="normal" fill="#231f20" stroke="#231f20" stroke-width="0.18" transform="translate(428.0,419.5) scale(0.82,1)" >0</text>
<line x1="431.2" y1="402.46" x2="434.2" y2="402.46" stroke="#000" stroke-width="1" />
<text x="0" y="0" font-size="9.6" text-anchor="end" font-weight="normal" fill="#231f20" stroke="#231f20" stroke-width="0.18" transform="translate(428.0,405.76) scale(0.82,1)" >20</text>
<line x1="431.2" y1="388.71999999999997" x2="434.2" y2="388.71999999999997" stroke="#000" stroke-width="1" />
<text x="0" y="0" font-size="9.6" text-anchor="end" font-weight="normal" fill="#231f20" stroke="#231f20" stroke-width="0.18" transform="translate(428.0,392.02) scale(0.82,1)" >40</text>
<line x1="431.2" y1="374.98" x2="434.2" y2="374.98" stroke="#000" stroke-width="1" />
<text x="0" y="0" font-size="9.6" text-anchor="end" font-weight="normal" fill="#231f20" stroke="#231f20" stroke-width="0.18" transform="translate(428.0,378.28000000000003) scale(0.82,1)" >60</text>
<line x1="431.2" y1="361.24" x2="434.2" y2="361.24" stroke="#000" stroke-width="1" />
<text x="0" y="0" font-size="9.6" text-anchor="end" font-weight="normal" fill="#231f20" stroke="#231f20" stroke-width="0.18" transform="translate(428.0,364.54) scale(0.82,1)" >80</text>
<line x1="431.2" y1="347.5" x2="434.2" y2="347.5" stroke="#000" stroke-width="1" />
<text x="0" y="0" font-size="9.6" text-anchor="end" font-weight="normal" fill="#231f20" stroke="#231f20" stroke-width="0.18" transform="translate(428.0,350.8) scale(0.82,1)" >100</text>
<line x1="440.75" y1="416.2" x2="440.75" y2="419.2" stroke="#000" stroke-width="1" />
<line x1="451.3" y1="416.2" x2="451.3" y2="419.2" stroke="#000" stroke-width="1" />
<line x1="461.85" y1="416.2" x2="461.85" y2="419.2" stroke="#000" stroke-width="1" />
<text x="0" y="0" font-size="9.5" text-anchor="middle" font-weight="normal" fill="#231f20" stroke="#231f20" stroke-width="0.18" textLength="45" lengthAdjust="spacingAndGlyphs" transform="translate(409.6,380.2) rotate(-90)" >% TNF<tspan dy="-3.61" font-size="6.65">+</tspan><tspan dy="3.61" font-size="9.5">&#8203;</tspan> in TEa</text>
<line x1="197.95" y1="450.618" x2="197.95" y2="438.836" stroke="#231f20" stroke-width="0.9" />
<line x1="195.54999999999998" y1="438.836" x2="200.35" y2="438.836" stroke="#231f20" stroke-width="0.9" />
<rect x="194.20" y="450.62" width="7.50" height="52.88" fill="#4d2768" />
<line x1="208.54999999999998" y1="453.769" x2="208.54999999999998" y2="443.22" stroke="#231f20" stroke-width="0.9" />
<line x1="206.14999999999998" y1="443.22" x2="210.95" y2="443.22" stroke="#231f20" stroke-width="0.9" />
<rect x="204.80" y="453.77" width="7.50" height="49.73" fill="#a4042b" />
<line x1="219.14999999999998" y1="486.512" x2="219.14999999999998" y2="480.758" stroke="#231f20" stroke-width="0.9" />
<line x1="216.74999999999997" y1="480.758" x2="221.54999999999998" y2="480.758" stroke="#231f20" stroke-width="0.9" />
<rect x="215.40" y="486.51" width="7.50" height="16.99" fill="#2b4a7f" />
<line x1="191.3" y1="432.2" x2="191.3" y2="504.0" stroke="#000" stroke-width="1.1" />
<line x1="190.8" y1="503.5" x2="225.4" y2="503.5" stroke="#000" stroke-width="1.1" />
<line x1="188.3" y1="503.5" x2="191.3" y2="503.5" stroke="#000" stroke-width="1" />
<text x="0" y="0" font-size="9.6" text-anchor="end" font-weight="normal" fill="#231f20" stroke="#231f20" stroke-width="0.18" transform="translate(185.10000000000002,506.8) scale(0.82,1)" >0</text>
<line x1="188.3" y1="489.8" x2="191.3" y2="489.8" stroke="#000" stroke-width="1" />
<text x="0" y="0" font-size="9.6" text-anchor="end" font-weight="normal" fill="#231f20" stroke="#231f20" stroke-width="0.18" transform="translate(185.10000000000002,493.1) scale(0.82,1)" >1</text>
<line x1="188.3" y1="476.1" x2="191.3" y2="476.1" stroke="#000" stroke-width="1" />
<text x="0" y="0" font-size="9.6" text-anchor="end" font-weight="normal" fill="#231f20" stroke="#231f20" stroke-width="0.18" transform="translate(185.10000000000002,479.40000000000003) scale(0.82,1)" >2</text>
<line x1="188.3" y1="462.4" x2="191.3" y2="462.4" stroke="#000" stroke-width="1" />
<text x="0" y="0" font-size="9.6" text-anchor="end" font-weight="normal" fill="#231f20" stroke="#231f20" stroke-width="0.18" transform="translate(185.10000000000002,465.7) scale(0.82,1)" >3</text>
<line x1="188.3" y1="448.7" x2="191.3" y2="448.7" stroke="#000" stroke-width="1" />
<text x="0" y="0" font-size="9.6" text-anchor="end" font-weight="normal" fill="#231f20" stroke="#231f20" stroke-width="0.18" transform="translate(185.10000000000002,452.0) scale(0.82,1)" >4</text>
<line x1="188.3" y1="435.0" x2="191.3" y2="435.0" stroke="#000" stroke-width="1" />
<text x="0" y="0" font-size="9.6" text-anchor="end" font-weight="normal" fill="#231f20" stroke="#231f20" stroke-width="0.18" transform="translate(185.10000000000002,438.3) scale(0.82,1)" >5</text>
<line x1="197.95" y1="503.5" x2="197.95" y2="506.5" stroke="#000" stroke-width="1" />
<line x1="208.54999999999998" y1="503.5" x2="208.54999999999998" y2="506.5" stroke="#000" stroke-width="1" />
<line x1="219.14999999999998" y1="503.5" x2="219.14999999999998" y2="506.5" stroke="#000" stroke-width="1" />
<text x="0" y="0" font-size="9.5" text-anchor="middle" font-weight="normal" fill="#231f20" stroke="#231f20" stroke-width="0.18" textLength="57" lengthAdjust="spacingAndGlyphs" transform="translate(175.6,467.3) rotate(-90)" ># Th17 TEa (x10<tspan dy="-3.61" font-size="6.65">4</tspan><tspan dy="3.61" font-size="9.5">&#8203;</tspan>)</text>
<line x1="198.5" y1="435.6" x2="218.7" y2="435.6" stroke="#000" stroke-width="0.9" />
<text x="0" y="0" font-size="9" text-anchor="middle" font-weight="normal" fill="#231f20" stroke="#231f20" stroke-width="0.18" transform="translate(208.6,435.70000000000005) scale(0.9,1)" >*</text>
<text x="0" y="0" font-size="8.6" text-anchor="end" font-weight="normal" fill="#231f20" stroke="#231f20" stroke-width="0.18" textLength="31.8" lengthAdjust="spacingAndGlyphs" transform="translate(201.95,513.1) rotate(-45)" >CD11c<tspan dy="-3.27" font-size="6.02">cre</tspan><tspan dy="3.27" font-size="8.6">&#8203;</tspan></text>
<text x="0" y="0" font-size="8.6" text-anchor="end" font-weight="normal" fill="#231f20" stroke="#231f20" stroke-width="0.18" textLength="59.4" lengthAdjust="spacingAndGlyphs" transform="translate(212.54999999999998,513.1) rotate(-45)" >CD11c<tspan dy="-3.27" font-size="6.02">cre</tspan><tspan dy="3.27" font-size="8.6">&#8203;</tspan> x IL-6R<tspan dy="-3.27" font-size="6.02">fl</tspan><tspan dy="3.27" font-size="8.6">&#8203;</tspan></text>
<text x="0" y="0" font-size="8.6" text-anchor="end" font-weight="normal" fill="#231f20" stroke="#231f20" stroke-width="0.18" textLength="52.8" lengthAdjust="spacingAndGlyphs" transform="translate(223.14999999999998,513.1) rotate(-45)" >CD11c<tspan dy="-3.27" font-size="6.02">cre</tspan><tspan dy="3.27" font-size="8.6">&#8203;</tspan> x IL-6<tspan dy="-3.27" font-size="6.02">fl</tspan><tspan dy="3.27" font-size="8.6">&#8203;</tspan></text>
<line x1="277.05" y1="455.7783333333333" x2="277.05" y2="443.6766666666667" stroke="#231f20" stroke-width="0.9" />
<line x1="274.65000000000003" y1="443.6766666666667" x2="279.45" y2="443.6766666666667" stroke="#231f20" stroke-width="0.9" />
<rect x="273.30" y="455.78" width="7.50" height="47.72" fill="#4d2768" />
<line x1="287.6" y1="459.2033333333333" x2="287.6" y2="445.0466666666667" stroke="#231f20" stroke-width="0.9" />
<line x1="285.20000000000005" y1="445.0466666666667" x2="290.0" y2="445.0466666666667" stroke="#231f20" stroke-width="0.9" />
<rect x="283.85" y="459.20" width="7.50" height="44.30" fill="#a4042b" />
<line x1="298.15000000000003" y1="496.1933333333333" x2="298.15000000000003" y2="493.225" stroke="#231f20" stroke-width="0.9" />
<line x1="295.75000000000006" y1="493.225" x2="300.55" y2="493.225" stroke="#231f20" stroke-width="0.9" />
<rect x="294.40" y="496.19" width="7.50" height="7.31" fill="#2b4a7f" />
<line x1="270.8" y1="432.2" x2="270.8" y2="504.0" stroke="#000" stroke-width="1.1" />
<line x1="270.3" y1="503.5" x2="304.4" y2="503.5" stroke="#000" stroke-width="1.1" />
<line x1="267.8" y1="503.5" x2="270.8" y2="503.5" stroke="#000" stroke-width="1" />
<text x="0" y="0" font-size="9.6" text-anchor="end" font-weight="normal" fill="#231f20" stroke="#231f20" stroke-width="0.18" transform="translate(264.6,506.8) scale(0.82,1)" >0</text>
<line x1="267.8" y1="480.6666666666667" x2="270.8" y2="480.6666666666667" stroke="#000" stroke-width="1" />
<text x="0" y="0" font-size="9.6" text-anchor="end" font-weight="normal" fill="#231f20" stroke="#231f20" stroke-width="0.18" transform="translate(264.6,483.9666666666667) scale(0.82,1)" >1</text>
<line x1="267.8" y1="457.8333333333333" x2="270.8" y2="457.8333333333333" stroke="#000" stroke-width="1" />
<text x="0" y="0" font-size="9.6" text-anchor="end" font-weight="normal" fill="#231f20" stroke="#231f20" stroke-width="0.18" transform="translate(264.6,461.1333333333333) scale(0.82,1)" >2</text>
<line x1="267.8" y1="435.0" x2="270.8" y2="435.0" stroke="#000" stroke-width="1" />
<text x="0" y="0" font-size="9.6" text-anchor="end" font-weight="normal" fill="#231f20" stroke="#231f20" stroke-width="0.18" transform="translate(264.6,438.3) scale(0.82,1)" >3</text>
<line x1="277.05" y1="503.5" x2="277.05" y2="506.5" stroke="#000" stroke-width="1" />
<line x1="287.6" y1="503.5" x2="287.6" y2="506.5" stroke="#000" stroke-width="1" />
<line x1="298.15000000000003" y1="503.5" x2="298.15000000000003" y2="506.5" stroke="#000" stroke-width="1" />
<text x="0" y="0" font-size="9.5" text-anchor="middle" font-weight="normal" fill="#231f20" stroke="#231f20" stroke-width="0.18" textLength="56.4" lengthAdjust="spacingAndGlyphs" transform="translate(255.2,467.6) rotate(-90)" ># Th22 TEa (x10<tspan dy="-3.61" font-size="6.65">4</tspan><tspan dy="3.61" font-size="9.5">&#8203;</tspan>)</text>
<line x1="278.5" y1="440.4" x2="297.7" y2="440.4" stroke="#000" stroke-width="0.9" />
<text x="0" y="0" font-size="9" text-anchor="middle" font-weight="normal" fill="#231f20" stroke="#231f20" stroke-width="0.18" transform="translate(288.1,440.5) scale(0.9,1)" >*</text>
<text x="0" y="0" font-size="8.6" text-anchor="end" font-weight="normal" fill="#231f20" stroke="#231f20" stroke-width="0.18" textLength="31.8" lengthAdjust="spacingAndGlyphs" transform="translate(281.05,513.1) rotate(-45)" >CD11c<tspan dy="-3.27" font-size="6.02">cre</tspan><tspan dy="3.27" font-size="8.6">&#8203;</tspan></text>
<text x="0" y="0" font-size="8.6" text-anchor="end" font-weight="normal" fill="#231f20" stroke="#231f20" stroke-width="0.18" textLength="59.4" lengthAdjust="spacingAndGlyphs" transform="translate(291.6,513.1) rotate(-45)" >CD11c<tspan dy="-3.27" font-size="6.02">cre</tspan><tspan dy="3.27" font-size="8.6">&#8203;</tspan> x IL-6R<tspan dy="-3.27" font-size="6.02">fl</tspan><tspan dy="3.27" font-size="8.6">&#8203;</tspan></text>
<text x="0" y="0" font-size="8.6" text-anchor="end" font-weight="normal" fill="#231f20" stroke="#231f20" stroke-width="0.18" textLength="52.8" lengthAdjust="spacingAndGlyphs" transform="translate(302.15000000000003,513.1) rotate(-45)" >CD11c<tspan dy="-3.27" font-size="6.02">cre</tspan><tspan dy="3.27" font-size="8.6">&#8203;</tspan> x IL-6<tspan dy="-3.27" font-size="6.02">fl</tspan><tspan dy="3.27" font-size="8.6">&#8203;</tspan></text>
<line x1="356.75" y1="457.742" x2="356.75" y2="445.549" stroke="#231f20" stroke-width="0.9" />
<line x1="354.35" y1="445.549" x2="359.15" y2="445.549" stroke="#231f20" stroke-width="0.9" />
<rect x="353.00" y="457.74" width="7.50" height="45.76" fill="#4d2768" />
<line x1="367.45" y1="460.619" x2="367.45" y2="447.741" stroke="#231f20" stroke-width="0.9" />
<line x1="365.05" y1="447.741" x2="369.84999999999997" y2="447.741" stroke="#231f20" stroke-width="0.9" />
<rect x="363.70" y="460.62" width="7.50" height="42.88" fill="#a4042b" />
<line x1="378.15" y1="477.881" x2="378.15" y2="471.716" stroke="#231f20" stroke-width="0.9" />
<line x1="375.75" y1="471.716" x2="380.54999999999995" y2="471.716" stroke="#231f20" stroke-width="0.9" />
<rect x="374.40" y="477.88" width="7.50" height="25.62" fill="#2b4a7f" />
<line x1="350.8" y1="432.2" x2="350.8" y2="504.0" stroke="#000" stroke-width="1.1" />
<line x1="350.3" y1="503.5" x2="384" y2="503.5" stroke="#000" stroke-width="1.1" />
<line x1="347.8" y1="503.5" x2="350.8" y2="503.5" stroke="#000" stroke-width="1" />
<text x="0" y="0" font-size="9.6" text-anchor="end" font-weight="normal" fill="#231f20" stroke="#231f20" stroke-width="0.18" transform="translate(344.6,506.8) scale(0.82,1)" >0</text>
<line x1="347.8" y1="489.8" x2="350.8" y2="489.8" stroke="#000" stroke-width="1" />
<text x="0" y="0" font-size="9.6" text-anchor="end" font-weight="normal" fill="#231f20" stroke="#231f20" stroke-width="0.18" transform="translate(344.6,493.1) scale(0.82,1)" >1</text>
<line x1="347.8" y1="476.1" x2="350.8" y2="476.1" stroke="#000" stroke-width="1" />
<text x="0" y="0" font-size="9.6" text-anchor="end" font-weight="normal" fill="#231f20" stroke="#231f20" stroke-width="0.18" transform="translate(344.6,479.40000000000003) scale(0.82,1)" >2</text>
<line x1="347.8" y1="462.4" x2="350.8" y2="462.4" stroke="#000" stroke-width="1" />
<text x="0" y="0" font-size="9.6" text-anchor="end" font-weight="normal" fill="#231f20" stroke="#231f20" stroke-width="0.18" transform="translate(344.6,465.7) scale(0.82,1)" >3</text>
<line x1="347.8" y1="448.7" x2="350.8" y2="448.7" stroke="#000" stroke-width="1" />
<text x="0" y="0" font-size="9.6" text-anchor="end" font-weight="normal" fill="#231f20" stroke="#231f20" stroke-width="0.18" transform="translate(344.6,452.0) scale(0.82,1)" >4</text>
<line x1="347.8" y1="435.0" x2="350.8" y2="435.0" stroke="#000" stroke-width="1" />
<text x="0" y="0" font-size="9.6" text-anchor="end" font-weight="normal" fill="#231f20" stroke="#231f20" stroke-width="0.18" transform="translate(344.6,438.3) scale(0.82,1)" >5</text>
<line x1="356.75" y1="503.5" x2="356.75" y2="506.5" stroke="#000" stroke-width="1" />
<line x1="367.45" y1="503.5" x2="367.45" y2="506.5" stroke="#000" stroke-width="1" />
<line x1="378.15" y1="503.5" x2="378.15" y2="506.5" stroke="#000" stroke-width="1" />
<text x="0" y="0" font-size="9.5" text-anchor="middle" font-weight="normal" fill="#231f20" stroke="#231f20" stroke-width="0.18" textLength="61" lengthAdjust="spacingAndGlyphs" transform="translate(335.2,468) rotate(-90)" ># IFNγ<tspan dy="-3.61" font-size="6.65">+</tspan><tspan dy="3.61" font-size="9.5">&#8203;</tspan> TEa (x10<tspan dy="-3.61" font-size="6.65">4</tspan><tspan dy="3.61" font-size="9.5">&#8203;</tspan>)</text>
<text x="0" y="0" font-size="8.6" text-anchor="end" font-weight="normal" fill="#231f20" stroke="#231f20" stroke-width="0.18" textLength="31.8" lengthAdjust="spacingAndGlyphs" transform="translate(360.75,513.1) rotate(-45)" >CD11c<tspan dy="-3.27" font-size="6.02">cre</tspan><tspan dy="3.27" font-size="8.6">&#8203;</tspan></text>
<text x="0" y="0" font-size="8.6" text-anchor="end" font-weight="normal" fill="#231f20" stroke="#231f20" stroke-width="0.18" textLength="59.4" lengthAdjust="spacingAndGlyphs" transform="translate(371.45,513.1) rotate(-45)" >CD11c<tspan dy="-3.27" font-size="6.02">cre</tspan><tspan dy="3.27" font-size="8.6">&#8203;</tspan> x IL-6R<tspan dy="-3.27" font-size="6.02">fl</tspan><tspan dy="3.27" font-size="8.6">&#8203;</tspan></text>
<text x="0" y="0" font-size="8.6" text-anchor="end" font-weight="normal" fill="#231f20" stroke="#231f20" stroke-width="0.18" textLength="52.8" lengthAdjust="spacingAndGlyphs" transform="translate(382.15,513.1) rotate(-45)" >CD11c<tspan dy="-3.27" font-size="6.02">cre</tspan><tspan dy="3.27" font-size="8.6">&#8203;</tspan> x IL-6<tspan dy="-3.27" font-size="6.02">fl</tspan><tspan dy="3.27" font-size="8.6">&#8203;</tspan></text>
<line x1="440.75" y1="448.015" x2="440.75" y2="439.384" stroke="#231f20" stroke-width="0.9" />
<line x1="438.35" y1="439.384" x2="443.15" y2="439.384" stroke="#231f20" stroke-width="0.9" />
<rect x="437.00" y="448.01" width="7.50" height="55.49" fill="#4d2768" />
<line x1="451.3" y1="457.742" x2="451.3" y2="448.974" stroke="#231f20" stroke-width="0.9" />
<line x1="448.90000000000003" y1="448.974" x2="453.7" y2="448.974" stroke="#231f20" stroke-width="0.9" />
<rect x="447.55" y="457.74" width="7.50" height="45.76" fill="#a4042b" />
<line x1="461.85" y1="482.95" x2="461.85" y2="479.388" stroke="#231f20" stroke-width="0.9" />
<line x1="459.45000000000005" y1="479.388" x2="464.25" y2="479.388" stroke="#231f20" stroke-width="0.9" />
<rect x="458.10" y="482.95" width="7.50" height="20.55" fill="#2b4a7f" />
<line x1="434.2" y1="432.2" x2="434.2" y2="504.0" stroke="#000" stroke-width="1.1" />
<line x1="433.7" y1="503.5" x2="467.7" y2="503.5" stroke="#000" stroke-width="1.1" />
<line x1="431.2" y1="503.5" x2="434.2" y2="503.5" stroke="#000" stroke-width="1" />
<text x="0" y="0" font-size="9.6" text-anchor="end" font-weight="normal" fill="#231f20" stroke="#231f20" stroke-width="0.18" transform="translate(428.0,506.8) scale(0.82,1)" >0</text>
<line x1="431.2" y1="489.8" x2="434.2" y2="489.8" stroke="#000" stroke-width="1" />
<text x="0" y="0" font-size="9.6" text-anchor="end" font-weight="normal" fill="#231f20" stroke="#231f20" stroke-width="0.18" transform="translate(428.0,493.1) scale(0.82,1)" >10</text>
<line x1="431.2" y1="476.1" x2="434.2" y2="476.1" stroke="#000" stroke-width="1" />
<text x="0" y="0" font-size="9.6" text-anchor="end" font-weight="normal" fill="#231f20" stroke="#231f20" stroke-width="0.18" transform="translate(428.0,479.40000000000003) scale(0.82,1)" >20</text>
<line x1="431.2" y1="462.4" x2="434.2" y2="462.4" stroke="#000" stroke-width="1" />
<text x="0" y="0" font-size="9.6" text-anchor="end" font-weight="normal" fill="#231f20" stroke="#231f20" stroke-width="0.18" transform="translate(428.0,465.7) scale(0.82,1)" >30</text>
<line x1="431.2" y1="448.7" x2="434.2" y2="448.7" stroke="#000" stroke-width="1" />
<text x="0" y="0" font-size="9.6" text-anchor="end" font-weight="normal" fill="#231f20" stroke="#231f20" stroke-width="0.18" transform="translate(428.0,452.0) scale(0.82,1)" >40</text>
<line x1="431.2" y1="435.0" x2="434.2" y2="435.0" stroke="#000" stroke-width="1" />
<text x="0" y="0" font-size="9.6" text-anchor="end" font-weight="normal" fill="#231f20" stroke="#231f20" stroke-width="0.18" transform="translate(428.0,438.3) scale(0.82,1)" >50</text>
<line x1="440.75" y1="503.5" x2="440.75" y2="506.5" stroke="#000" stroke-width="1" />
<line x1="451.3" y1="503.5" x2="451.3" y2="506.5" stroke="#000" stroke-width="1" />
<line x1="461.85" y1="503.5" x2="461.85" y2="506.5" stroke="#000" stroke-width="1" />
<text x="0" y="0" font-size="9.5" text-anchor="middle" font-weight="normal" fill="#231f20" stroke="#231f20" stroke-width="0.18" textLength="57.7" lengthAdjust="spacingAndGlyphs" transform="translate(409.8,467.6) rotate(-90)" ># TNF<tspan dy="-3.61" font-size="6.65">+</tspan><tspan dy="3.61" font-size="9.5">&#8203;</tspan> TEa (x10<tspan dy="-3.61" font-size="6.65">4</tspan><tspan dy="3.61" font-size="9.5">&#8203;</tspan>)</text>
<line x1="441.3" y1="436.2" x2="461.2" y2="436.2" stroke="#000" stroke-width="0.9" />
<text x="0" y="0" font-size="9" text-anchor="middle" font-weight="normal" fill="#231f20" stroke="#231f20" stroke-width="0.18" transform="translate(451.25,436.3) scale(0.9,1)" >**</text>
<text x="0" y="0" font-size="8.6" text-anchor="end" font-weight="normal" fill="#231f20" stroke="#231f20" stroke-width="0.18" textLength="31.8" lengthAdjust="spacingAndGlyphs" transform="translate(444.75,513.1) rotate(-45)" >CD11c<tspan dy="-3.27" font-size="6.02">cre</tspan><tspan dy="3.27" font-size="8.6">&#8203;</tspan></text>
<text x="0" y="0" font-size="8.6" text-anchor="end" font-weight="normal" fill="#231f20" stroke="#231f20" stroke-width="0.18" textLength="59.4" lengthAdjust="spacingAndGlyphs" transform="translate(455.3,513.1) rotate(-45)" >CD11c<tspan dy="-3.27" font-size="6.02">cre</tspan><tspan dy="3.27" font-size="8.6">&#8203;</tspan> x IL-6R<tspan dy="-3.27" font-size="6.02">fl</tspan><tspan dy="3.27" font-size="8.6">&#8203;</tspan></text>
<text x="0" y="0" font-size="8.6" text-anchor="end" font-weight="normal" fill="#231f20" stroke="#231f20" stroke-width="0.18" textLength="52.8" lengthAdjust="spacingAndGlyphs" transform="translate(465.85,513.1) rotate(-45)" >CD11c<tspan dy="-3.27" font-size="6.02">cre</tspan><tspan dy="3.27" font-size="8.6">&#8203;</tspan> x IL-6<tspan dy="-3.27" font-size="6.02">fl</tspan><tspan dy="3.27" font-size="8.6">&#8203;</tspan></text>
<clipPath id="clip9"><rect x="9.1" y="188" width="89.6" height="89.9"/></clipPath>
<g clip-path="url(#clip9)"><g filter="url(#grain)">
<rect x="9.10" y="188.00" width="89.60" height="89.90" fill="#464646" />
<circle cx="52.3" cy="233.2" r="42.1" fill="#3e3e3e" filter="url(#b08)"/>
<circle cx="52.3" cy="233.2" r="40.0" fill="none" stroke="#5c5c5c" stroke-width="2.6" filter="url(#b08)" opacity="0.8"/>
<circle cx="52.3" cy="233.2" r="36.6" fill="#353535" filter="url(#b08)"/>
<circle cx="52.3" cy="233.2" r="41.6" fill="none" stroke="#6a6a6a" stroke-width="0.8" filter="url(#b03)"/>
<circle cx="52.3" cy="233.2" r="40.0" fill="none" stroke="#303030" stroke-width="0.8" filter="url(#b03)"/>
<circle cx="52.3" cy="233.2" r="38.6" fill="none" stroke="#5a5a5a" stroke-width="0.6" filter="url(#b03)"/>
<circle cx="52.3" cy="233.2" r="36.1" fill="none" stroke="#525252" stroke-width="0.6" filter="url(#b03)"/>
<path d="M14.3,217.1 A41.300000000000004,41.300000000000004 0 0 1 25.8,201.6" fill="none" stroke="#ffffff" stroke-width="1.224" opacity="0.92" stroke-linecap="round" filter="url(#b03)"/>
<path d="M17.4,215.4 A39.2,39.2 0 0 1 25.1,205.0" fill="none" stroke="#ffffff" stroke-width="0.864" opacity="0.8280000000000001" stroke-linecap="round" filter="url(#b03)"/>
<path d="M20.4,214.0 A37.2,37.2 0 0 1 24.7,208.3" fill="none" stroke="#e8e8e8" stroke-width="0.576" opacity="0.6900000000000001" stroke-linecap="round" filter="url(#b03)"/>
<path d="M76.6,199.8 A41.300000000000004,41.300000000000004 0 0 1 89.4,215.1" fill="none" stroke="#ffffff" stroke-width="1.08" opacity="0.874" stroke-linecap="round" filter="url(#b03)"/>
<path d="M77.5,203.2 A39.2,39.2 0 0 1 86.2,213.6" fill="none" stroke="#f4f4f4" stroke-width="0.72" opacity="0.7360000000000001" stroke-linecap="round" filter="url(#b03)"/>
<path d="M28.1,266.5 A41.1,41.1 0 0 1 13.2,245.9" fill="none" stroke="#ffffff" stroke-width="1.296" opacity="0.92" stroke-linecap="round" filter="url(#b03)"/>
<path d="M27.2,263.1 A39.0,39.0 0 0 1 16.4,248.4" fill="none" stroke="#ffffff" stroke-width="0.9359999999999999" opacity="0.8280000000000001" stroke-linecap="round" filter="url(#b03)"/>
<path d="M26.6,259.8 A37.0,37.0 0 0 1 19.9,251.1" fill="none" stroke="#e4e4e4" stroke-width="0.576" opacity="0.6900000000000001" stroke-linecap="round" filter="url(#b03)"/>
<path d="M89.8,249.9 A41.1,41.1 0 0 1 71.6,269.5" fill="none" stroke="#fafafa" stroke-width="1.008" opacity="0.8280000000000001" stroke-linecap="round" filter="url(#b03)"/>
<path d="M86.4,252.1 A39.0,39.0 0 0 1 74.1,265.5" fill="none" stroke="#e8e8e8" stroke-width="0.648" opacity="0.644" stroke-linecap="round" filter="url(#b03)"/>
<path d="M71.6,269.5 A41.1,41.1 0 0 1 28.1,266.5" fill="none" stroke="#b0b0b0" stroke-width="0.504" opacity="0.644" stroke-linecap="round" filter="url(#b03)"/>
<path d="M13.0,246.0 A41.300000000000004,41.300000000000004 0 0 1 14.3,217.1" fill="none" stroke="#a0a0a0" stroke-width="0.504" opacity="0.644" stroke-linecap="round" filter="url(#b03)"/>
<path d="M89.4,215.1 A41.300000000000004,41.300000000000004 0 0 1 90.0,250.0" fill="none" stroke="#a0a0a0" stroke-width="0.504" opacity="0.644" stroke-linecap="round" filter="url(#b03)"/>
<path d="M25.8,201.6 A41.300000000000004,41.300000000000004 0 0 1 76.6,199.8" fill="none" stroke="#909090" stroke-width="0.504" opacity="0.644" stroke-linecap="round" filter="url(#b03)"/>
<path d="M39.2,222.8 C40.1,222.0 42.4,219.8 44.2,218.5 C46.0,217.1 48.1,215.5 50.3,214.4 C52.4,213.3 54.5,212.4 57.0,212.0 C59.5,211.6 62.4,211.8 65.1,212.3 C67.8,212.8 70.7,213.7 73.1,215.0 C75.6,216.2 77.9,217.8 79.9,219.5 C81.9,221.2 83.9,223.5 85.3,225.2 C86.6,226.8 87.5,228.8 87.9,229.5" fill="none" stroke="#2a2a2a" stroke-width="3.50" stroke-linecap="round" stroke-linejoin="round" opacity="0.35" filter="url(#b03)"/>
<path d="M39.2,222.8 C40.1,222.0 42.4,219.8 44.2,218.5 C46.0,217.1 48.1,215.5 50.3,214.4 C52.4,213.3 54.5,212.4 57.0,212.0 C59.5,211.6 62.4,211.8 65.1,212.3 C67.8,212.8 70.7,213.7 73.1,215.0 C75.6,216.2 77.9,217.8 79.9,219.5 C81.9,221.2 83.9,223.5 85.3,225.2 C86.6,226.8 87.5,228.8 87.9,229.5" fill="none" stroke="#8e8e8e" stroke-width="3.10" stroke-linecap="round" stroke-linejoin="round" filter="url(#tex)"/>
<path d="M42.2,229.9 C41.2,230.1 37.9,230.6 36.1,231.2 C34.3,231.9 32.5,231.9 31.4,233.5 C30.3,235.2 29.7,238.6 29.4,241.3 C29.1,244.1 29.1,247.7 29.8,250.1 C30.5,252.4 32.6,254.9 33.8,255.5 C35.1,256.0 36.9,255.1 37.3,253.5 C37.7,251.8 36.4,247.8 36.3,245.4 C36.2,242.9 36.2,240.6 36.8,238.6 C37.5,236.7 38.8,234.9 40.2,233.9 C41.5,232.9 44.1,232.8 44.9,232.6" fill="none" stroke="#2a2a2a" stroke-width="3.40" stroke-linecap="round" stroke-linejoin="round" opacity="0.35" filter="url(#b03)"/>
<path d="M42.2,229.9 C41.2,230.1 37.9,230.6 36.1,231.2 C34.3,231.9 32.5,231.9 31.4,233.5 C30.3,235.2 29.7,238.6 29.4,241.3 C29.1,244.1 29.1,247.7 29.8,250.1 C30.5,252.4 32.6,254.9 33.8,255.5 C35.1,256.0 36.9,255.1 37.3,253.5 C37.7,251.8 36.4,247.8 36.3,245.4 C36.2,242.9 36.2,240.6 36.8,238.6 C37.5,236.7 38.8,234.9 40.2,233.9 C41.5,232.9 44.1,232.8 44.9,232.6" fill="none" stroke="#8e8e8e" stroke-width="2.99" stroke-linecap="round" stroke-linejoin="round" filter="url(#tex)"/>
<path d="M44.9,232.6 C45.5,232.8 48.0,231.9 48.4,234.1 C48.7,236.2 47.4,242.0 47.0,245.4 C46.7,248.8 45.8,252.5 46.2,254.5 C46.6,256.5 48.4,257.9 49.5,257.5 C50.5,257.1 52.1,254.6 52.4,252.1 C52.8,249.6 51.6,245.5 51.6,242.7 C51.6,239.9 52.0,236.5 52.4,235.4 C52.8,234.3 53.5,234.6 53.9,236.2 C54.3,237.9 54.3,242.7 54.6,245.4 C54.9,248.0 55.0,250.8 55.6,252.1 C56.3,253.5 57.5,253.9 58.3,253.5 C59.1,253.0 60.4,251.4 60.5,249.4 C60.6,247.4 59.5,243.6 59.1,241.3 C58.8,239.1 58.3,236.9 58.6,236.0 C58.9,235.0 60.4,234.5 61.0,235.4 C61.7,236.3 61.8,239.5 62.4,241.3 C62.9,243.2 63.5,245.6 64.4,246.7 C65.3,247.8 66.9,248.5 67.8,248.1 C68.6,247.6 69.6,245.6 69.4,244.0 C69.2,242.5 67.5,240.4 66.7,238.6 C65.9,236.9 64.9,234.6 64.5,233.8" fill="none" stroke="#2a2a2a" stroke-width="3.40" stroke-linecap="round" stroke-linejoin="round" opacity="0.35" filter="url(#b03)"/>
<path d="M44.9,232.6 C45.5,232.8 48.0,231.9 48.4,234.1 C48.7,236.2 47.4,242.0 47.0,245.4 C46.7,248.8 45.8,252.5 46.2,254.5 C46.6,256.5 48.4,257.9 49.5,257.5 C50.5,257.1 52.1,254.6 52.4,252.1 C52.8,249.6 51.6,245.5 51.6,242.7 C51.6,239.9 52.0,236.5 52.4,235.4 C52.8,234.3 53.5,234.6 53.9,236.2 C54.3,237.9 54.3,242.7 54.6,245.4 C54.9,248.0 55.0,250.8 55.6,252.1 C56.3,253.5 57.5,253.9 58.3,253.5 C59.1,253.0 60.4,251.4 60.5,249.4 C60.6,247.4 59.5,243.6 59.1,241.3 C58.8,239.1 58.3,236.9 58.6,236.0 C58.9,235.0 60.4,234.5 61.0,235.4 C61.7,236.3 61.8,239.5 62.4,241.3 C62.9,243.2 63.5,245.6 64.4,246.7 C65.3,247.8 66.9,248.5 67.8,248.1 C68.6,247.6 69.6,245.6 69.4,244.0 C69.2,242.5 67.5,240.4 66.7,238.6 C65.9,236.9 64.9,234.6 64.5,233.8" fill="none" stroke="#8e8e8e" stroke-width="2.99" stroke-linecap="round" stroke-linejoin="round" filter="url(#tex)"/>
<path d="M40.8,227.9 C42.0,227.7 45.3,226.6 47.6,226.5 C49.8,226.4 52.1,226.8 54.3,227.2 C56.5,227.6 59.9,228.7 61.0,229.0" fill="none" stroke="#2a2a2a" stroke-width="3.20" stroke-linecap="round" stroke-linejoin="round" opacity="0.35" filter="url(#b03)"/>
<path d="M40.8,227.9 C42.0,227.7 45.3,226.6 47.6,226.5 C49.8,226.4 52.1,226.8 54.3,227.2 C56.5,227.6 59.9,228.7 61.0,229.0" fill="none" stroke="#8e8e8e" stroke-width="2.76" stroke-linecap="round" stroke-linejoin="round" filter="url(#tex)"/>
<path d="M62.4,225.2 C62.8,223.9 63.4,222.3 64.4,221.4 C65.4,220.6 67.2,219.9 68.4,220.1 C69.6,220.2 70.7,221.2 71.5,222.2 C72.3,223.3 72.7,225.0 73.1,226.5 C73.6,228.0 74.5,230.1 74.2,231.2 C74.0,232.4 72.5,233.4 71.5,233.5 C70.6,233.6 69.1,231.4 68.4,231.9 C67.8,232.4 68.1,235.5 67.5,236.6 C66.9,237.8 65.5,238.9 64.8,238.6 C64.1,238.4 63.2,236.5 63.0,235.3 C62.9,234.0 64.2,232.3 64.0,231.2 C63.8,230.2 62.1,230.2 61.8,229.2 C61.6,228.2 62.0,226.5 62.4,225.2 Z" fill="#a4a4a4" filter="url(#tex2)" opacity="1"/>
<path d="M65.3,223.8 C65.9,222.8 67.5,221.4 68.4,221.4 C69.3,221.4 70.4,222.8 70.7,223.8 C71.0,224.9 70.7,227.0 70.2,227.9 C69.7,228.8 68.6,229.3 67.8,229.2 C67.0,229.2 65.7,228.5 65.3,227.6 C64.9,226.7 64.8,224.9 65.3,223.8 Z" fill="#d6d6d6" filter="url(#tex2)" opacity="1"/>
<path d="M69.4,233.9 C69.8,233.2 72.0,232.4 73.1,232.6 C74.3,232.7 76.2,234.1 76.5,234.9 C76.8,235.7 75.7,236.9 74.8,237.3 C73.8,237.7 71.6,237.6 70.7,237.0 C69.8,236.5 69.0,234.7 69.4,233.9 Z" fill="#242424" filter="url(#b05)" opacity="0.8"/>
<circle cx="37.7" cy="223.8" r="1.90" fill="#1428f0" filter="url(#b03)"/>
<circle cx="37.7" cy="223.8" r="1.37" fill="#18c0f0" filter="url(#b03)"/>
<circle cx="40.8" cy="227.3" r="2.40" fill="#1428f0" filter="url(#b03)"/>
<circle cx="40.8" cy="227.3" r="1.73" fill="#18c0f0" filter="url(#b03)"/>
<circle cx="40.8" cy="227.3" r="1.20" fill="#40e860" filter="url(#b03)"/>
<circle cx="40.8" cy="227.3" r="0.79" fill="#e0e020" filter="url(#b03)"/>
<circle cx="40.8" cy="227.3" r="0.43" fill="#f06010" filter="url(#b03)"/>
<circle cx="47.3" cy="225.8" r="2.70" fill="#1428f0" filter="url(#b03)"/>
<circle cx="47.3" cy="225.8" r="1.94" fill="#18c0f0" filter="url(#b03)"/>
<circle cx="47.3" cy="225.8" r="1.35" fill="#40e860" filter="url(#b03)"/>
<circle cx="49.8" cy="226.0" r="2.30" fill="#1428f0" filter="url(#b03)"/>
<circle cx="49.8" cy="226.0" r="1.66" fill="#18c0f0" filter="url(#b03)"/>
<circle cx="52.3" cy="226.3" r="2.60" fill="#1428f0" filter="url(#b03)"/>
<circle cx="52.3" cy="226.3" r="1.87" fill="#18c0f0" filter="url(#b03)"/>
<circle cx="52.3" cy="226.3" r="1.30" fill="#40e860" filter="url(#b03)"/>
<circle cx="52.3" cy="226.3" r="0.86" fill="#e0e020" filter="url(#b03)"/>
<circle cx="54.4" cy="226.9" r="2.30" fill="#1428f0" filter="url(#b03)"/>
<circle cx="54.4" cy="226.9" r="1.66" fill="#18c0f0" filter="url(#b03)"/>
<circle cx="54.4" cy="226.9" r="1.15" fill="#40e860" filter="url(#b03)"/>
<circle cx="56.2" cy="227.3" r="2.60" fill="#1428f0" filter="url(#b03)"/>
<circle cx="56.2" cy="227.3" r="1.87" fill="#18c0f0" filter="url(#b03)"/>
<circle cx="56.2" cy="227.3" r="1.30" fill="#40e860" filter="url(#b03)"/>
<circle cx="56.2" cy="227.3" r="0.86" fill="#e0e020" filter="url(#b03)"/>
<circle cx="56.2" cy="227.3" r="0.47" fill="#f06010" filter="url(#b03)"/>
<circle cx="34.6" cy="232.5" r="2.00" fill="#1428f0" filter="url(#b03)"/>
<circle cx="34.6" cy="232.5" r="1.44" fill="#18c0f0" filter="url(#b03)"/>
<circle cx="34.8" cy="232.6" r="1.15" fill="#1030ff" filter="url(#b03)"/>
<circle cx="30.7" cy="241.3" r="1.15" fill="#1030ff" filter="url(#b03)"/>
<circle cx="36.8" cy="243.4" r="1.15" fill="#1030ff" filter="url(#b03)"/>
<circle cx="31.4" cy="252.1" r="1.15" fill="#1030ff" filter="url(#b03)"/>
<circle cx="48.9" cy="258.8" r="1.15" fill="#1030ff" filter="url(#b03)"/>
<circle cx="48.2" cy="244.7" r="1.4" fill="#1030ff" filter="url(#b03)"/>
<circle cx="48.2" cy="244.7" r="0.75" fill="#20c8f0" filter="url(#b03)"/>
<circle cx="34.8" cy="232.6" r="0.5" fill="#20a0ff" filter="url(#b03)"/>
<circle cx="36.8" cy="243.4" r="0.5" fill="#20a0ff" filter="url(#b03)"/>
<circle cx="67.8" cy="248.7" r="0.7" fill="#5a28d8" filter="url(#b03)"/>
<circle cx="73.8" cy="247.4" r="0.7" fill="#5a28d8" filter="url(#b03)"/>
<circle cx="73.8" cy="241.3" r="0.7" fill="#5a28d8" filter="url(#b03)"/>
<circle cx="84.6" cy="223.8" r="0.7" fill="#5a28d8" filter="url(#b03)"/>
<circle cx="84.2" cy="225.5" r="0.7" fill="#5a28d8" filter="url(#b03)"/>
<circle cx="57.0" cy="213.3" r="0.7" fill="#5a28d8" filter="url(#b03)"/>
<circle cx="39.9" cy="271.6" r="0.5" fill="#3a2aa0" filter="url(#b03)"/>
<circle cx="73.2" cy="272.2" r="0.5" fill="#3a2aa0" filter="url(#b03)"/>
<circle cx="93.6" cy="266.4" r="0.5" fill="#3a2aa0" filter="url(#b03)"/>
<circle cx="76.2" cy="197.6" r="0.5" fill="#3a2aa0" filter="url(#b03)"/>
<text x="64.7" y="206.4" font-size="8" text-anchor="middle" font-weight="normal" fill="#f0f0f0" stroke="#f0f0f0" stroke-width="0" textLength="21" lengthAdjust="spacingAndGlyphs" >Colon</text>
<text x="19.5" y="244.0" font-size="8" text-anchor="middle" font-weight="normal" fill="#f0f0f0" stroke="#f0f0f0" stroke-width="0" textLength="15.6" lengthAdjust="spacingAndGlyphs" >mLN</text>
<text x="85.8" y="245.0" font-size="8" text-anchor="middle" font-weight="normal" fill="#f0f0f0" stroke="#f0f0f0" stroke-width="0" textLength="24" lengthAdjust="spacingAndGlyphs" >Spleen</text>
<text x="62.3" y="265.5" font-size="8" text-anchor="middle" font-weight="normal" fill="#f0f0f0" stroke="#f0f0f0" stroke-width="0" textLength="51.3" lengthAdjust="spacingAndGlyphs" >Small intestine</text>
<line x1="29.5" y1="239.8" x2="43" y2="232.6" stroke="#fff" stroke-width="1.0" />
<path d="M46.9,231.0 L40.0,231.2 L42.4,233.0 L42.6,236.2 Z" fill="#fff"/>
<line x1="87.2" y1="236.8" x2="83" y2="233.2" stroke="#fff" stroke-width="0.9" />
<path d="M80.2,230.8 L85.8,232 L83.4,233.4 L82.6,236 Z" fill="#fff"/>
</g></g>
<clipPath id="clip101"><rect x="101.2" y="188" width="89.7" height="89.9"/></clipPath>
<g clip-path="url(#clip101)"><g filter="url(#grain)">
<rect x="101.20" y="188.00" width="89.70" height="89.90" fill="#464646" />
<circle cx="146.8" cy="233.3" r="43.7" fill="#3e3e3e" filter="url(#b08)"/>
<circle cx="146.8" cy="233.3" r="41.6" fill="none" stroke="#5c5c5c" stroke-width="2.6" filter="url(#b08)" opacity="0.8"/>
<circle cx="146.8" cy="233.3" r="38.2" fill="#353535" filter="url(#b08)"/>
<circle cx="146.8" cy="233.3" r="43.2" fill="none" stroke="#6a6a6a" stroke-width="0.8" filter="url(#b03)"/>
<circle cx="146.8" cy="233.3" r="41.6" fill="none" stroke="#303030" stroke-width="0.8" filter="url(#b03)"/>
<circle cx="146.8" cy="233.3" r="40.2" fill="none" stroke="#5a5a5a" stroke-width="0.6" filter="url(#b03)"/>
<circle cx="146.8" cy="233.3" r="37.7" fill="none" stroke="#525252" stroke-width="0.6" filter="url(#b03)"/>
<path d="M105.6,221.5 A42.900000000000006,42.900000000000006 0 0 1 121.6,198.6" fill="none" stroke="#ffffff" stroke-width="1.224" opacity="0.92" stroke-linecap="round" filter="url(#b03)"/>
<path d="M108.4,219.3 A40.900000000000006,40.900000000000006 0 0 1 120.0,202.4" fill="none" stroke="#ffffff" stroke-width="0.864" opacity="0.8280000000000001" stroke-linecap="round" filter="url(#b03)"/>
<path d="M111.5,216.9 A38.900000000000006,38.900000000000006 0 0 1 118.4,206.8" fill="none" stroke="#e8e8e8" stroke-width="0.576" opacity="0.6900000000000001" stroke-linecap="round" filter="url(#b03)"/>
<path d="M174.4,200.4 A42.900000000000006,42.900000000000006 0 0 1 189.6,230.3" fill="none" stroke="#ffffff" stroke-width="1.296" opacity="0.92" stroke-linecap="round" filter="url(#b03)"/>
<path d="M175.2,203.9 A40.900000000000006,40.900000000000006 0 0 1 187.1,226.2" fill="none" stroke="#f8f8f8" stroke-width="0.864" opacity="0.782" stroke-linecap="round" filter="url(#b03)"/>
<path d="M176.6,208.3 A38.900000000000006,38.900000000000006 0 0 1 184.2,222.6" fill="none" stroke="#e0e0e0" stroke-width="0.576" opacity="0.644" stroke-linecap="round" filter="url(#b03)"/>
<path d="M121.7,267.8 A42.7,42.7 0 0 1 106.7,247.9" fill="none" stroke="#ffffff" stroke-width="1.296" opacity="0.92" stroke-linecap="round" filter="url(#b03)"/>
<path d="M120.6,264.5 A40.7,40.7 0 0 1 110.2,251.1" fill="none" stroke="#ffffff" stroke-width="0.864" opacity="0.8280000000000001" stroke-linecap="round" filter="url(#b03)"/>
<path d="M185.2,252.0 A42.7,42.7 0 0 1 168.2,270.3" fill="none" stroke="#ffffff" stroke-width="1.224" opacity="0.92" stroke-linecap="round" filter="url(#b03)"/>
<path d="M181.7,254.3 A40.7,40.7 0 0 1 170.1,266.6" fill="none" stroke="#f0f0f0" stroke-width="0.792" opacity="0.7360000000000001" stroke-linecap="round" filter="url(#b03)"/>
<path d="M168.2,270.3 A42.7,42.7 0 0 1 121.7,267.8" fill="none" stroke="#b4b4b4" stroke-width="0.576" opacity="0.7360000000000001" stroke-linecap="round" filter="url(#b03)"/>
<path d="M106.5,248.0 A42.900000000000006,42.900000000000006 0 0 1 105.6,221.5" fill="none" stroke="#a0a0a0" stroke-width="0.504" opacity="0.644" stroke-linecap="round" filter="url(#b03)"/>
<path d="M189.6,230.3 A42.900000000000006,42.900000000000006 0 0 1 185.4,252.1" fill="none" stroke="#a0a0a0" stroke-width="0.504" opacity="0.644" stroke-linecap="round" filter="url(#b03)"/>
<path d="M121.6,198.6 A42.900000000000006,42.900000000000006 0 0 1 174.4,200.4" fill="none" stroke="#909090" stroke-width="0.504" opacity="0.644" stroke-linecap="round" filter="url(#b03)"/>
<path d="M127.2,215.1 C128.3,214.2 131.7,211.5 133.8,210.0 C135.8,208.5 138.0,207.6 139.4,206.2 C140.8,204.9 141.1,203.0 142.2,201.9 C143.4,200.8 144.5,200.0 146.4,199.8 C148.3,199.7 151.2,200.5 153.5,201.0 C155.8,201.4 158.2,201.8 160.1,202.5 C162.1,203.2 164.3,203.9 165.2,205.1 C166.2,206.3 166.1,208.1 166.0,209.4 C165.9,210.8 164.3,211.9 164.5,213.2 C164.6,214.6 165.4,216.2 166.7,217.5 C168.1,218.9 170.5,220.4 172.4,221.3 C174.3,222.3 176.3,222.7 178.0,223.2 C179.8,223.7 182.0,224.3 182.8,224.5" fill="none" stroke="#2a2a2a" stroke-width="3.70" stroke-linecap="round" stroke-linejoin="round" opacity="0.35" filter="url(#b03)"/>
<path d="M127.2,215.1 C128.3,214.2 131.7,211.5 133.8,210.0 C135.8,208.5 138.0,207.6 139.4,206.2 C140.8,204.9 141.1,203.0 142.2,201.9 C143.4,200.8 144.5,200.0 146.4,199.8 C148.3,199.7 151.2,200.5 153.5,201.0 C155.8,201.4 158.2,201.8 160.1,202.5 C162.1,203.2 164.3,203.9 165.2,205.1 C166.2,206.3 166.1,208.1 166.0,209.4 C165.9,210.8 164.3,211.9 164.5,213.2 C164.6,214.6 165.4,216.2 166.7,217.5 C168.1,218.9 170.5,220.4 172.4,221.3 C174.3,222.3 176.3,222.7 178.0,223.2 C179.8,223.7 182.0,224.3 182.8,224.5" fill="none" stroke="#8e8e8e" stroke-width="3.33" stroke-linecap="round" stroke-linejoin="round" filter="url(#tex)"/>
<path d="M121.1,217.5 C121.3,216.1 123.0,214.8 124.3,214.2 C125.6,213.5 127.7,213.4 129.0,213.8 C130.4,214.2 132.0,215.3 132.4,216.4 C132.9,217.6 132.6,219.6 131.9,220.8 C131.1,221.9 129.5,222.9 128.1,223.2 C126.7,223.5 124.5,223.6 123.4,222.6 C122.2,221.7 121.0,219.0 121.1,217.5 Z" fill="#9a9a9a" filter="url(#tex2)" opacity="1"/>
<path d="M123.4,217.9 C123.8,217.1 125.8,216.0 126.8,216.0 C127.8,216.1 129.4,217.5 129.4,218.3 C129.5,219.1 128.0,220.5 127.2,220.9 C126.3,221.3 125.0,221.3 124.3,220.8 C123.7,220.2 123.0,218.7 123.4,217.9 Z" fill="#bcbcbc" filter="url(#tex2)" opacity="1"/>
<path d="M149.4,215.1 C149.8,213.8 151.1,212.2 152.6,211.3 C154.1,210.5 156.5,209.9 158.3,210.0 C160.0,210.1 162.4,210.9 163.3,211.9 C164.3,212.9 164.4,214.9 163.9,216.0 C163.4,217.2 161.9,218.2 160.1,218.9 C158.4,219.5 155.2,219.8 153.5,219.8 C151.9,219.8 150.8,219.7 150.1,218.9 C149.5,218.1 149.0,216.4 149.4,215.1 Z" fill="#a4a4a4" filter="url(#tex2)" opacity="1"/>
<path d="M152.6,213.8 C152.8,212.8 155.5,212.0 156.9,211.9 C158.3,211.8 160.5,212.5 161.1,213.2 C161.7,213.9 161.6,215.3 160.7,216.0 C159.8,216.8 157.2,217.9 155.8,217.5 C154.5,217.2 152.4,214.7 152.6,213.8 Z" fill="#cccccc" filter="url(#tex2)" opacity="1"/>
<path d="M145.6,222.6 C146.3,221.8 148.8,220.8 150.7,220.2 C152.7,219.6 155.4,219.2 157.3,218.9 C159.2,218.5 161.1,217.6 162.0,217.9 C163.0,218.2 163.6,219.8 163.0,220.8 C162.3,221.7 160.1,222.8 158.3,223.6 C156.4,224.4 153.5,225.1 151.7,225.5 C149.8,225.8 147.9,225.9 146.9,225.5 C145.9,225.0 145.0,223.5 145.6,222.6 Z" fill="#101010" filter="url(#b05)" opacity="1"/>
<path d="M125.8,224.8 C125.5,225.1 124.8,225.3 123.5,226.5 C122.3,227.8 119.1,230.2 118.3,232.3 C117.6,234.4 118.6,237.1 119.3,239.2 C119.9,241.3 121.4,243.2 122.4,245.0 C123.4,246.8 124.3,249.3 125.3,250.2 C126.2,251.0 127.5,251.4 128.1,250.2 C128.8,248.9 129.3,245.3 129.3,242.7 C129.3,240.1 128.1,236.9 128.1,234.6 C128.1,232.3 128.6,230.1 129.3,228.8 C130.0,227.6 131.2,226.9 132.2,227.1 C133.1,227.3 134.7,228.2 135.1,230.0 C135.5,231.8 134.7,235.0 134.5,238.1 C134.3,241.1 133.7,245.5 133.9,248.4 C134.1,251.4 135.0,254.6 135.6,255.9 C136.3,257.3 137.4,258.0 138.0,256.5 C138.5,255.1 138.8,250.4 139.1,247.3 C139.4,244.2 139.7,240.8 139.7,238.1 C139.7,235.4 138.8,232.6 139.1,231.1 C139.4,229.7 140.7,229.0 141.4,229.4 C142.1,229.8 142.9,231.6 143.1,233.5 C143.3,235.3 142.4,237.7 142.6,240.4 C142.8,243.1 143.4,246.5 144.3,249.6 C145.2,252.7 146.7,257.0 147.8,258.8 C148.8,260.7 149.9,260.5 150.6,260.6 C151.4,260.7 152.3,261.0 152.4,259.4 C152.5,257.8 151.8,253.5 151.2,250.8 C150.6,248.0 149.6,245.2 148.9,242.7 C148.2,240.2 147.2,237.5 147.2,235.8 C147.2,234.0 148.1,233.1 148.9,232.3 C149.7,231.5 150.9,230.8 151.8,231.1 C152.7,231.5 153.3,232.9 154.1,234.6 C154.9,236.3 155.5,239.2 156.4,241.5 C157.3,243.8 158.2,246.9 159.3,248.4 C160.3,250.0 161.8,250.8 162.7,250.8 C163.7,250.8 165.1,250.0 165.1,248.4 C165.1,246.9 163.7,243.8 162.7,241.5 C161.8,239.2 160.3,236.7 159.3,234.6 C158.2,232.5 157.2,230.3 156.4,228.8 C155.6,227.4 155.0,226.4 154.7,226.0" fill="none" stroke="#2a2a2a" stroke-width="3.80" stroke-linecap="round" stroke-linejoin="round" opacity="0.35" filter="url(#b03)"/>
<path d="M125.8,224.8 C125.5,225.1 124.8,225.3 123.5,226.5 C122.3,227.8 119.1,230.2 118.3,232.3 C117.6,234.4 118.6,237.1 119.3,239.2 C119.9,241.3 121.4,243.2 122.4,245.0 C123.4,246.8 124.3,249.3 125.3,250.2 C126.2,251.0 127.5,251.4 128.1,250.2 C128.8,248.9 129.3,245.3 129.3,242.7 C129.3,240.1 128.1,236.9 128.1,234.6 C128.1,232.3 128.6,230.1 129.3,228.8 C130.0,227.6 131.2,226.9 132.2,227.1 C133.1,227.3 134.7,228.2 135.1,230.0 C135.5,231.8 134.7,235.0 134.5,238.1 C134.3,241.1 133.7,245.5 133.9,248.4 C134.1,251.4 135.0,254.6 135.6,255.9 C136.3,257.3 137.4,258.0 138.0,256.5 C138.5,255.1 138.8,250.4 139.1,247.3 C139.4,244.2 139.7,240.8 139.7,238.1 C139.7,235.4 138.8,232.6 139.1,231.1 C139.4,229.7 140.7,229.0 141.4,229.4 C142.1,229.8 142.9,231.6 143.1,233.5 C143.3,235.3 142.4,237.7 142.6,240.4 C142.8,243.1 143.4,246.5 144.3,249.6 C145.2,252.7 146.7,257.0 147.8,258.8 C148.8,260.7 149.9,260.5 150.6,260.6 C151.4,260.7 152.3,261.0 152.4,259.4 C152.5,257.8 151.8,253.5 151.2,250.8 C150.6,248.0 149.6,245.2 148.9,242.7 C148.2,240.2 147.2,237.5 147.2,235.8 C147.2,234.0 148.1,233.1 148.9,232.3 C149.7,231.5 150.9,230.8 151.8,231.1 C152.7,231.5 153.3,232.9 154.1,234.6 C154.9,236.3 155.5,239.2 156.4,241.5 C157.3,243.8 158.2,246.9 159.3,248.4 C160.3,250.0 161.8,250.8 162.7,250.8 C163.7,250.8 165.1,250.0 165.1,248.4 C165.1,246.9 163.7,243.8 162.7,241.5 C161.8,239.2 160.3,236.7 159.3,234.6 C158.2,232.5 157.2,230.3 156.4,228.8 C155.6,227.4 155.0,226.4 154.7,226.0" fill="none" stroke="#8e8e8e" stroke-width="3.45" stroke-linecap="round" stroke-linejoin="round" filter="url(#tex)"/>
<path d="M132.4,220.8 C133.3,220.9 135.7,221.6 137.5,221.7 C139.3,221.8 141.5,221.2 143.2,221.3 C144.8,221.5 146.8,222.4 147.5,222.6" fill="none" stroke="#2a2a2a" stroke-width="3.40" stroke-linecap="round" stroke-linejoin="round" opacity="0.35" filter="url(#b03)"/>
<path d="M132.4,220.8 C133.3,220.9 135.7,221.6 137.5,221.7 C139.3,221.8 141.5,221.2 143.2,221.3 C144.8,221.5 146.8,222.4 147.5,222.6" fill="none" stroke="#8e8e8e" stroke-width="2.99" stroke-linecap="round" stroke-linejoin="round" filter="url(#tex)"/>
<path d="M133.5,220.2 C133.9,219.9 135.2,219.2 136.0,218.8 C136.8,218.4 137.7,217.7 138.5,217.7 C139.2,217.7 139.9,218.2 140.6,218.6 C141.3,219.0 141.8,219.9 142.5,220.2 C143.1,220.4 143.9,220.3 144.6,220.2 C145.3,220.0 146.2,219.4 146.5,219.2" fill="none" stroke="#1428f0" stroke-width="3.6" stroke-linecap="round" filter="url(#b03)"/>
<path d="M136.0,218.8 C136.4,218.6 137.7,217.7 138.5,217.7 C139.2,217.7 139.9,218.2 140.6,218.6 C141.3,219.0 141.8,219.9 142.5,220.2 C143.1,220.4 144.3,220.2 144.6,220.2" fill="none" stroke="#18d0e0" stroke-width="2.2" stroke-linecap="round" filter="url(#b03)"/>
<path d="M136.0,218.8 C136.4,218.6 137.7,217.7 138.5,217.7 C139.2,217.7 139.9,218.2 140.6,218.6 C141.3,219.0 142.2,219.9 142.5,220.2" fill="none" stroke="#58e838" stroke-width="1.3" stroke-linecap="round" filter="url(#b03)"/>
<path d="M139.1,218.0 C139.4,218.2 140.4,218.6 140.9,218.9 C141.5,219.3 142.2,219.9 142.5,220.2" fill="none" stroke="#e0e020" stroke-width="1.0" stroke-linecap="round" filter="url(#b03)"/>
<path d="M141.8,219.7 C142.0,219.8 142.6,220.2 142.8,220.3" fill="none" stroke="#f08010" stroke-width="0.8" stroke-linecap="round" filter="url(#b03)"/>
<circle cx="126.8" cy="214.2" r="0.9" fill="#1428f0" filter="url(#b03)"/>
<circle cx="124.0" cy="221.7" r="0.9" fill="#1428f0" filter="url(#b03)"/>
<circle cx="150.9" cy="201.5" r="0.9" fill="#1428f0" filter="url(#b03)"/>
<circle cx="180.9" cy="224.1" r="0.9" fill="#1428f0" filter="url(#b03)"/>
<circle cx="130.0" cy="242.4" r="0.9" fill="#1428f0" filter="url(#b03)"/>
<circle cx="172.0" cy="198.1" r="0.5" fill="#4a2ad0" filter="url(#b03)"/>
<circle cx="174.3" cy="221.7" r="0.5" fill="#4a2ad0" filter="url(#b03)"/>
<circle cx="155.8" cy="239.0" r="0.5" fill="#4a2ad0" filter="url(#b03)"/>
<circle cx="124.9" cy="242.8" r="0.5" fill="#4a2ad0" filter="url(#b03)"/>
</g></g>
<clipPath id="clip194"><rect x="194.0" y="188" width="89.6" height="89.9"/></clipPath>
<g clip-path="url(#clip194)"><g filter="url(#grain)">
<rect x="194.00" y="188.00" width="89.60" height="89.90" fill="#464646" />
<circle cx="239.3" cy="231.6" r="41.1" fill="#3e3e3e" filter="url(#b08)"/>
<circle cx="239.3" cy="231.6" r="39.0" fill="none" stroke="#5c5c5c" stroke-width="2.6" filter="url(#b08)" opacity="0.8"/>
<circle cx="239.3" cy="231.6" r="35.6" fill="#353535" filter="url(#b08)"/>
<circle cx="239.3" cy="231.6" r="40.6" fill="none" stroke="#6a6a6a" stroke-width="0.8" filter="url(#b03)"/>
<circle cx="239.3" cy="231.6" r="39.0" fill="none" stroke="#303030" stroke-width="0.8" filter="url(#b03)"/>
<circle cx="239.3" cy="231.6" r="37.6" fill="none" stroke="#5a5a5a" stroke-width="0.6" filter="url(#b03)"/>
<circle cx="239.3" cy="231.6" r="35.1" fill="none" stroke="#525252" stroke-width="0.6" filter="url(#b03)"/>
<path d="M199.9,223.2 A40.300000000000004,40.300000000000004 0 0 1 217.9,197.4" fill="none" stroke="#ffffff" stroke-width="1.224" opacity="0.92" stroke-linecap="round" filter="url(#b03)"/>
<path d="M202.9,219.8 A38.300000000000004,38.300000000000004 0 0 1 215.7,201.4" fill="none" stroke="#ffffff" stroke-width="0.864" opacity="0.8280000000000001" stroke-linecap="round" filter="url(#b03)"/>
<path d="M205.9,216.7 A36.6,36.6 0 0 1 213.9,205.3" fill="none" stroke="#e8e8e8" stroke-width="0.576" opacity="0.644" stroke-linecap="round" filter="url(#b03)"/>
<path d="M261.8,198.2 A40.300000000000004,40.300000000000004 0 0 1 279.5,228.8" fill="none" stroke="#ffffff" stroke-width="1.224" opacity="0.92" stroke-linecap="round" filter="url(#b03)"/>
<path d="M263.9,202.3 A38.300000000000004,38.300000000000004 0 0 1 277.0,224.9" fill="none" stroke="#f8f8f8" stroke-width="0.864" opacity="0.782" stroke-linecap="round" filter="url(#b03)"/>
<path d="M265.6,206.2 A36.6,36.6 0 0 1 274.1,220.3" fill="none" stroke="#e0e0e0" stroke-width="0.576" opacity="0.644" stroke-linecap="round" filter="url(#b03)"/>
<path d="M220.5,267.0 A40.1,40.1 0 0 1 203.9,250.4" fill="none" stroke="#f0f0f0" stroke-width="0.864" opacity="0.782" stroke-linecap="round" filter="url(#b03)"/>
<path d="M219.1,263.9 A38.1,38.1 0 0 1 207.7,252.9" fill="none" stroke="#e0e0e0" stroke-width="0.576" opacity="0.644" stroke-linecap="round" filter="url(#b03)"/>
<path d="M277.4,244.0 A40.1,40.1 0 0 1 261.7,264.8" fill="none" stroke="#f4f4f4" stroke-width="0.864" opacity="0.782" stroke-linecap="round" filter="url(#b03)"/>
<path d="M274.1,247.1 A38.1,38.1 0 0 1 263.8,260.8" fill="none" stroke="#e0e0e0" stroke-width="0.576" opacity="0.644" stroke-linecap="round" filter="url(#b03)"/>
<path d="M261.7,264.8 A40.1,40.1 0 0 1 220.5,267.0" fill="none" stroke="#b8b8b8" stroke-width="0.576" opacity="0.7360000000000001" stroke-linecap="round" filter="url(#b03)"/>
<path d="M203.7,250.5 A40.300000000000004,40.300000000000004 0 0 1 199.9,223.2" fill="none" stroke="#a4a4a4" stroke-width="0.504" opacity="0.644" stroke-linecap="round" filter="url(#b03)"/>
<path d="M279.5,228.8 A40.300000000000004,40.300000000000004 0 0 1 277.6,244.1" fill="none" stroke="#b0b0b0" stroke-width="0.576" opacity="0.7360000000000001" stroke-linecap="round" filter="url(#b03)"/>
<path d="M217.9,197.4 A40.300000000000004,40.300000000000004 0 0 1 261.8,198.2" fill="none" stroke="#989898" stroke-width="0.504" opacity="0.644" stroke-linecap="round" filter="url(#b03)"/>
<path d="M222.5,224.2 C222.8,223.1 223.8,219.4 224.5,217.5 C225.2,215.6 225.3,214.2 226.5,212.8 C227.8,211.4 229.7,209.6 231.9,208.9 C234.2,208.1 237.1,208.6 240.0,208.3 C242.9,208.1 246.5,207.3 249.4,207.4 C252.3,207.5 255.2,208.1 257.5,208.7 C259.7,209.4 261.6,210.3 262.9,211.6 C264.1,212.8 264.3,214.5 264.9,216.2 C265.5,217.8 266.0,220.6 266.2,221.5" fill="none" stroke="#2a2a2a" stroke-width="3.50" stroke-linecap="round" stroke-linejoin="round" opacity="0.35" filter="url(#b03)"/>
<path d="M222.5,224.2 C222.8,223.1 223.8,219.4 224.5,217.5 C225.2,215.6 225.3,214.2 226.5,212.8 C227.8,211.4 229.7,209.6 231.9,208.9 C234.2,208.1 237.1,208.6 240.0,208.3 C242.9,208.1 246.5,207.3 249.4,207.4 C252.3,207.5 255.2,208.1 257.5,208.7 C259.7,209.4 261.6,210.3 262.9,211.6 C264.1,212.8 264.3,214.5 264.9,216.2 C265.5,217.8 266.0,220.6 266.2,221.5" fill="none" stroke="#aaaaaa" stroke-width="3.10" stroke-linecap="round" stroke-linejoin="round" filter="url(#tex)"/>
<path d="M213.3,217.5 C213.6,216.7 215.9,217.1 217.1,217.2 C218.4,217.3 219.9,217.5 220.9,218.2 C221.8,218.9 222.5,220.3 222.8,221.5 C223.0,222.8 222.8,224.6 222.2,225.6 C221.6,226.6 220.2,227.5 219.1,227.6 C218.1,227.7 216.6,227.1 216.0,226.2 C215.4,225.3 215.9,223.7 215.5,222.2 C215.0,220.7 213.1,218.3 213.3,217.5 Z" fill="#9c9c9c" filter="url(#tex2)" opacity="1"/>
<path d="M216.8,220.2 C217.2,219.4 218.9,219.2 219.5,219.5 C220.2,219.9 220.9,221.3 220.9,222.2 C220.8,223.1 219.8,224.6 219.1,224.9 C218.5,225.2 217.5,224.7 217.1,224.0 C216.7,223.2 216.4,220.9 216.8,220.2 Z" fill="#c4c4c4" filter="url(#tex2)" opacity="1"/>
<path d="M221.2,225.0 C222.5,224.9 226.5,224.2 229.2,224.2 C231.9,224.2 234.9,225.1 237.3,225.0 C239.7,224.9 242.3,223.9 243.4,223.7" fill="none" stroke="#2a2a2a" stroke-width="3.50" stroke-linecap="round" stroke-linejoin="round" opacity="0.35" filter="url(#b03)"/>
<path d="M221.2,225.0 C222.5,224.9 226.5,224.2 229.2,224.2 C231.9,224.2 234.9,225.1 237.3,225.0 C239.7,224.9 242.3,223.9 243.4,223.7" fill="none" stroke="#aaaaaa" stroke-width="3.10" stroke-linecap="round" stroke-linejoin="round" filter="url(#tex)"/>
<path d="M243.0,217.5 C243.5,216.1 244.4,214.9 245.4,214.5 C246.3,214.1 247.9,214.4 248.7,215.1 C249.6,215.8 250.4,217.4 250.5,218.8 C250.6,220.3 250.0,222.2 249.4,223.6 C248.8,224.9 247.9,226.4 247.0,226.9 C246.1,227.5 244.8,227.6 244.0,226.9 C243.2,226.2 242.3,224.5 242.1,222.9 C242.0,221.3 242.4,218.9 243.0,217.5 Z" fill="#c6c6c6" filter="url(#tex2)" opacity="1"/>
<path d="M244.3,218.2 C244.5,217.0 245.7,215.9 246.5,215.9 C247.2,215.9 248.4,217.1 248.6,218.2 C248.8,219.2 248.3,221.4 247.8,222.2 C247.3,223.0 246.0,223.8 245.4,223.1 C244.8,222.5 244.1,219.4 244.3,218.2 Z" fill="#f4f4f4" filter="url(#tex2)" opacity="1"/>
<path d="M249.1,221.5 C249.7,220.9 250.9,220.5 251.6,221.0 C252.2,221.4 252.9,223.1 252.9,224.2 C253.0,225.4 252.4,227.4 251.8,228.0 C251.3,228.6 250.0,228.2 249.4,227.7 C248.8,227.2 248.4,225.9 248.3,224.9 C248.3,223.9 248.6,222.2 249.1,221.5 Z" fill="#181818" filter="url(#b05)" opacity="0.85"/>
<path d="M225.2,228.9 C224.1,229.7 220.4,231.7 218.5,233.6 C216.6,235.6 214.4,238.2 213.7,240.4 C213.1,242.5 213.4,245.2 214.4,246.4 C215.4,247.7 218.0,248.3 219.8,247.8 C221.6,247.2 223.8,245.0 225.2,243.1 C226.5,241.2 227.3,238.4 227.9,236.3 C228.5,234.3 228.6,231.9 228.7,231.0" fill="none" stroke="#2a2a2a" stroke-width="3.80" stroke-linecap="round" stroke-linejoin="round" opacity="0.35" filter="url(#b03)"/>
<path d="M225.2,228.9 C224.1,229.7 220.4,231.7 218.5,233.6 C216.6,235.6 214.4,238.2 213.7,240.4 C213.1,242.5 213.4,245.2 214.4,246.4 C215.4,247.7 218.0,248.3 219.8,247.8 C221.6,247.2 223.8,245.0 225.2,243.1 C226.5,241.2 227.3,238.4 227.9,236.3 C228.5,234.3 228.6,231.9 228.7,231.0" fill="none" stroke="#a8a8a8" stroke-width="3.45" stroke-linecap="round" stroke-linejoin="round" filter="url(#tex)"/>
<path d="M230.0,231.6 C229.2,232.9 226.6,236.6 225.2,239.0 C223.8,241.5 222.3,244.2 221.8,246.4 C221.4,248.7 221.5,251.4 222.5,252.5 C223.5,253.6 226.4,254.3 227.9,253.2 C229.3,252.0 230.5,248.3 231.2,245.8 C232.0,243.2 232.3,240.0 232.6,237.7 C232.9,235.3 233.2,232.6 233.3,231.6" fill="none" stroke="#2a2a2a" stroke-width="3.80" stroke-linecap="round" stroke-linejoin="round" opacity="0.35" filter="url(#b03)"/>
<path d="M230.0,231.6 C229.2,232.9 226.6,236.6 225.2,239.0 C223.8,241.5 222.3,244.2 221.8,246.4 C221.4,248.7 221.5,251.4 222.5,252.5 C223.5,253.6 226.4,254.3 227.9,253.2 C229.3,252.0 230.5,248.3 231.2,245.8 C232.0,243.2 232.3,240.0 232.6,237.7 C232.9,235.3 233.2,232.6 233.3,231.6" fill="none" stroke="#a8a8a8" stroke-width="3.45" stroke-linecap="round" stroke-linejoin="round" filter="url(#tex)"/>
<path d="M235.4,231.6 C235.2,232.9 234.4,236.6 233.9,239.0 C233.5,241.5 232.6,244.3 232.6,246.4 C232.6,248.6 232.8,250.7 233.9,251.8 C235.1,252.9 237.9,253.4 239.3,253.2 C240.8,252.9 242.2,252.2 242.7,250.5 C243.1,248.8 242.6,245.5 242.0,243.1 C241.5,240.6 240.0,237.7 239.3,235.7 C238.6,233.6 238.2,231.7 238.0,231.0" fill="none" stroke="#2a2a2a" stroke-width="3.80" stroke-linecap="round" stroke-linejoin="round" opacity="0.35" filter="url(#b03)"/>
<path d="M235.4,231.6 C235.2,232.9 234.4,236.6 233.9,239.0 C233.5,241.5 232.6,244.3 232.6,246.4 C232.6,248.6 232.8,250.7 233.9,251.8 C235.1,252.9 237.9,253.4 239.3,253.2 C240.8,252.9 242.2,252.2 242.7,250.5 C243.1,248.8 242.6,245.5 242.0,243.1 C241.5,240.6 240.0,237.7 239.3,235.7 C238.6,233.6 238.2,231.7 238.0,231.0" fill="none" stroke="#a8a8a8" stroke-width="3.45" stroke-linecap="round" stroke-linejoin="round" filter="url(#tex)"/>
<path d="M241.3,230.3 C242.0,231.3 244.0,234.2 245.4,236.3 C246.7,238.5 247.7,241.4 249.4,243.1 C251.1,244.8 253.9,246.4 255.5,246.4 C257.0,246.4 258.7,244.5 258.8,243.1 C258.9,241.6 257.5,239.5 256.1,237.7 C254.8,235.9 252.4,233.8 250.8,232.3 C249.1,230.8 246.8,229.5 246.0,228.9" fill="none" stroke="#2a2a2a" stroke-width="3.80" stroke-linecap="round" stroke-linejoin="round" opacity="0.35" filter="url(#b03)"/>
<path d="M241.3,230.3 C242.0,231.3 244.0,234.2 245.4,236.3 C246.7,238.5 247.7,241.4 249.4,243.1 C251.1,244.8 253.9,246.4 255.5,246.4 C257.0,246.4 258.7,244.5 258.8,243.1 C258.9,241.6 257.5,239.5 256.1,237.7 C254.8,235.9 252.4,233.8 250.8,232.3 C249.1,230.8 246.8,229.5 246.0,228.9" fill="none" stroke="#a8a8a8" stroke-width="3.45" stroke-linecap="round" stroke-linejoin="round" filter="url(#tex)"/>
<path d="M230.3,223.1 C230.8,223.1 232.3,222.6 233.3,222.9 C234.3,223.2 235.7,224.7 236.2,225.0" fill="none" stroke="#1030ff" stroke-width="2.0" stroke-linecap="round" filter="url(#b03)"/>
<path d="M231.2,222.9 C231.6,222.9 233.2,222.9 233.5,222.9" fill="none" stroke="#18b8f0" stroke-width="1.0" stroke-linecap="round" filter="url(#b03)"/>
<circle cx="226.1" cy="213.1" r="0.85" fill="#1428f0" filter="url(#b03)"/>
<circle cx="220.9" cy="217.5" r="0.85" fill="#1428f0" filter="url(#b03)"/>
<circle cx="216.8" cy="216.4" r="0.85" fill="#1428f0" filter="url(#b03)"/>
<circle cx="213.1" cy="217.5" r="0.85" fill="#1428f0" filter="url(#b03)"/>
<circle cx="236.9" cy="214.1" r="0.45" fill="#3a30d0" filter="url(#b03)"/>
<circle cx="244.7" cy="207.4" r="0.45" fill="#3a30d0" filter="url(#b03)"/>
<circle cx="209.0" cy="235.3" r="0.45" fill="#3a30d0" filter="url(#b03)"/>
<circle cx="209.7" cy="247.1" r="0.45" fill="#3a30d0" filter="url(#b03)"/>
<circle cx="236.2" cy="239.0" r="0.45" fill="#3a30d0" filter="url(#b03)"/>
<circle cx="240.3" cy="246.4" r="0.45" fill="#3a30d0" filter="url(#b03)"/>
<circle cx="267.3" cy="245.3" r="1.3" fill="none" stroke="#8a8a8a" stroke-width="0.5"/>
</g></g>
<text x="53.8" y="177.6" font-size="8.2" text-anchor="middle" font-weight="normal" fill="#231f20" stroke="#231f20" stroke-width="0.18" textLength="32.5" lengthAdjust="spacingAndGlyphs" >CD11c<tspan dy="-3.12" font-size="5.74">cre</tspan><tspan dy="3.12" font-size="8.2">&#8203;</tspan></text>
<text x="143.9" y="177.6" font-size="8.2" text-anchor="middle" font-weight="normal" fill="#231f20" stroke="#231f20" stroke-width="0.18" textLength="62.5" lengthAdjust="spacingAndGlyphs" >CD11c<tspan dy="-3.12" font-size="5.74">cre</tspan><tspan dy="3.12" font-size="8.2">&#8203;</tspan> x IL-6R<tspan dy="-3.12" font-size="5.74">fl</tspan><tspan dy="3.12" font-size="8.2">&#8203;</tspan></text>
<text x="237.7" y="177.6" font-size="8.2" text-anchor="middle" font-weight="normal" fill="#231f20" stroke="#231f20" stroke-width="0.18" textLength="55.5" lengthAdjust="spacingAndGlyphs" >CD11c<tspan dy="-3.12" font-size="5.74">cre</tspan><tspan dy="3.12" font-size="8.2">&#8203;</tspan> x IL-6<tspan dy="-3.12" font-size="5.74">fl</tspan><tspan dy="3.12" font-size="8.2">&#8203;</tspan></text>
<rect x="17.60" y="279.50" width="72.40" height="2.90" fill="#4b1763" />
<rect x="109.80" y="279.50" width="72.20" height="2.90" fill="#b2062c" />
<rect x="202.50" y="279.50" width="72.50" height="2.90" fill="#1f3f7f" />
<text x="286.9" y="166.9" font-size="6.3" text-anchor="start" font-weight="normal" fill="#231f20" stroke="#231f20" stroke-width="0.18" textLength="39.8" lengthAdjust="spacingAndGlyphs" >Luminescence</text>
<rect x="289.00" y="176.00" width="2.80" height="103.60" fill="url(#cbar)" />
<line x1="291.8" y1="176.1" x2="294.8" y2="176.1" stroke="#333" stroke-width="0.6" />
<text x="297.9" y="178.4" font-size="6.3" text-anchor="start" font-weight="normal" fill="#231f20" stroke="#231f20" stroke-width="0.18" textLength="16.7" lengthAdjust="spacingAndGlyphs" >40000</text>
<line x1="291.8" y1="204.7" x2="294.8" y2="204.7" stroke="#333" stroke-width="0.6" />
<text x="297.9" y="207.0" font-size="6.3" text-anchor="start" font-weight="normal" fill="#231f20" stroke="#231f20" stroke-width="0.18" textLength="16.7" lengthAdjust="spacingAndGlyphs" >30000</text>
<line x1="291.8" y1="233.6" x2="294.8" y2="233.6" stroke="#333" stroke-width="0.6" />
<text x="297.9" y="235.9" font-size="6.3" text-anchor="start" font-weight="normal" fill="#231f20" stroke="#231f20" stroke-width="0.18" textLength="16.7" lengthAdjust="spacingAndGlyphs" >20000</text>
<line x1="291.8" y1="262.5" x2="294.8" y2="262.5" stroke="#333" stroke-width="0.6" />
<text x="297.9" y="264.8" font-size="6.3" text-anchor="start" font-weight="normal" fill="#231f20" stroke="#231f20" stroke-width="0.18" textLength="16.7" lengthAdjust="spacingAndGlyphs" >10000</text>
<line x1="291.8" y1="181.82" x2="293.0" y2="181.82" stroke="#333" stroke-width="0.5" />
<line x1="291.8" y1="187.54" x2="293.0" y2="187.54" stroke="#333" stroke-width="0.5" />
<line x1="291.8" y1="193.26" x2="293.0" y2="193.26" stroke="#333" stroke-width="0.5" />
<line x1="291.8" y1="198.98" x2="293.0" y2="198.98" stroke="#333" stroke-width="0.5" />
<line x1="291.8" y1="210.42" x2="293.0" y2="210.42" stroke="#333" stroke-width="0.5" />
<line x1="291.8" y1="216.14" x2="293.0" y2="216.14" stroke="#333" stroke-width="0.5" />
<line x1="291.8" y1="221.85999999999999" x2="293.0" y2="221.85999999999999" stroke="#333" stroke-width="0.5" />
<line x1="291.8" y1="227.57999999999998" x2="293.0" y2="227.57999999999998" stroke="#333" stroke-width="0.5" />
<line x1="291.8" y1="239.01999999999998" x2="293.0" y2="239.01999999999998" stroke="#333" stroke-width="0.5" />
<line x1="291.8" y1="244.73999999999998" x2="293.0" y2="244.73999999999998" stroke="#333" stroke-width="0.5" />
<line x1="291.8" y1="250.45999999999998" x2="293.0" y2="250.45999999999998" stroke="#333" stroke-width="0.5" />
<line x1="291.8" y1="256.17999999999995" x2="293.0" y2="256.17999999999995" stroke="#333" stroke-width="0.5" />
<line x1="291.8" y1="267.62" x2="293.0" y2="267.62" stroke="#333" stroke-width="0.5" />
<line x1="291.8" y1="273.34" x2="293.0" y2="273.34" stroke="#333" stroke-width="0.5" />
<line x1="291.8" y1="279.06" x2="293.0" y2="279.06" stroke="#333" stroke-width="0.5" />
<text x="291.2" y="286.5" font-size="6.3" text-anchor="start" font-weight="normal" fill="#231f20" stroke="#231f20" stroke-width="0.18" textLength="25.7" lengthAdjust="spacingAndGlyphs" >Radiance</text>
<text x="291.2" y="294.0" font-size="6.3" text-anchor="start" font-weight="normal" fill="#231f20" stroke="#231f20" stroke-width="0.18" textLength="39.5" lengthAdjust="spacingAndGlyphs" >(p/sec/cm<tspan dy="-2.39" font-size="4.41">2</tspan><tspan dy="2.39" font-size="6.3">&#8203;</tspan>/sr)</text>
<rect x="288.4" y="300.1" width="44.6" height="24" fill="#fff" stroke="#333" stroke-width="0.7"/>
<text x="291.2" y="306.9" font-size="6.3" text-anchor="start" font-weight="normal" fill="#231f20" stroke="#231f20" stroke-width="0.18" textLength="32.4" lengthAdjust="spacingAndGlyphs" >Color Scale</text>
<text x="291.2" y="314.4" font-size="6.3" text-anchor="start" font-weight="normal" fill="#231f20" stroke="#231f20" stroke-width="0.18" textLength="37.8" lengthAdjust="spacingAndGlyphs" >Min = 4.00e3</text>
<text x="291.2" y="321.7" font-size="6.3" text-anchor="start" font-weight="normal" fill="#231f20" stroke="#231f20" stroke-width="0.18" textLength="39.2" lengthAdjust="spacingAndGlyphs" >Max = 4.00e4</text>
<clipPath id="fclip0"><rect x="34.1" y="349.4" width="58.49999999999999" height="58.30000000000001"/></clipPath>
<g clip-path="url(#fclip0)">
<path d="M41.2,396.4h0.5M59.0,391.0h0.5M40.4,393.7h0.5M54.8,400.7h0.5M41.3,386.3h0.5M56.6,396.9h0.5M63.3,400.0h0.5M50.2,392.5h0.5M71.6,392.4h0.5M44.7,387.3h0.5M51.8,395.0h0.5M48.2,393.7h0.5M53.2,398.3h0.5M59.8,395.4h0.5M36.7,398.3h0.5M39.6,393.1h0.5M39.2,394.1h0.5M44.8,395.4h0.5M77.4,393.8h0.5M57.7,386.2h0.5M48.7,398.1h0.5M50.3,396.3h0.5M51.8,388.1h0.5M55.5,389.2h0.5M66.0,391.1h0.5M56.5,394.1h0.5M58.6,390.5h0.5M59.0,393.4h0.5M61.1,397.8h0.5M52.1,389.4h0.5M57.1,396.9h0.5M64.1,391.8h0.5M55.4,397.1h0.5M53.3,395.4h0.5M52.5,390.5h0.5M42.9,391.7h0.5M55.7,403.2h0.5M58.8,400.4h0.5M57.2,398.3h0.5M52.5,398.7h0.5M65.2,392.1h0.5M45.4,405.9h0.5M53.0,399.9h0.5M58.0,387.3h0.5M70.5,404.8h0.5M52.4,398.6h0.5M52.0,388.8h0.5M50.1,396.3h0.5M59.9,398.4h0.5M51.5,402.2h0.5M44.9,398.9h0.5M59.9,392.3h0.5M36.7,388.7h0.5M52.9,397.3h0.5M63.4,388.1h0.5M51.0,398.0h0.5M49.7,379.9h0.5M59.0,388.6h0.5M47.7,395.4h0.5M70.9,397.8h0.5M51.9,403.4h0.5M50.3,405.3h0.5M45.5,391.3h0.5M56.8,402.6h0.5M56.2,395.9h0.5M36.4,389.8h0.5M46.1,390.9h0.5M55.7,392.1h0.5M57.3,394.6h0.5M48.3,394.8h0.5M54.4,399.2h0.5M47.2,392.7h0.5M40.1,403.7h0.5M62.6,393.0h0.5M47.2,386.7h0.5M52.4,395.3h0.5M68.5,395.6h0.5M44.8,379.4h0.5M62.3,395.2h0.5M38.1,395.2h0.5M60.0,397.5h0.5M49.6,381.3h0.5M50.0,384.8h0.5M55.8,381.3h0.5M43.7,401.4h0.5M64.2,387.0h0.5M38.7,399.4h0.5M57.8,388.2h0.5M45.4,389.9h0.5M41.5,390.0h0.5M61.0,398.2h0.5M67.5,393.6h0.5M49.9,388.2h0.5M50.0,386.2h0.5M36.8,398.3h0.5M62.5,399.1h0.5M61.7,395.6h0.5M45.3,394.6h0.5M48.0,387.4h0.5M37.5,385.2h0.5M51.0,395.0h0.5M47.2,402.7h0.5M52.4,397.6h0.5M60.7,389.2h0.5M35.2,398.6h0.5M45.5,402.0h0.5M53.7,400.1h0.5M57.1,381.6h0.5" stroke="#777" stroke-width="0.5" fill="none" opacity="0.7"/>
<path d="M82.8,389.1h0.5M71.0,390.5h0.5M83.1,398.4h0.5M85.1,383.1h0.5M72.3,378.8h0.5M76.2,396.7h0.5M70.9,394.6h0.5M78.9,399.1h0.5M70.4,388.1h0.5M70.9,403.6h0.5M85.7,392.4h0.5M78.8,393.8h0.5M78.6,391.8h0.5M74.3,385.6h0.5M71.9,403.0h0.5M81.3,393.5h0.5M75.3,393.5h0.5M79.8,389.2h0.5M78.6,394.5h0.5M71.0,388.4h0.5M69.0,386.7h0.5M84.1,378.9h0.5M74.9,389.4h0.5M72.0,393.7h0.5M86.0,393.6h0.5M75.9,389.4h0.5M76.0,398.6h0.5M73.8,386.2h0.5M66.9,386.5h0.5M65.9,399.7h0.5M79.8,391.7h0.5M88.7,389.2h0.5M83.0,397.9h0.5M64.6,383.8h0.5M69.6,398.5h0.5M87.4,385.7h0.5M85.4,390.8h0.5M73.9,389.8h0.5M74.4,382.2h0.5M69.0,385.7h0.5M80.9,405.6h0.5M63.2,390.7h0.5M69.5,405.0h0.5M81.6,388.7h0.5M84.5,396.3h0.5M64.0,389.9h0.5M75.1,393.2h0.5M78.1,391.1h0.5M78.5,389.6h0.5M69.8,402.2h0.5M79.9,395.7h0.5M64.2,392.1h0.5M83.6,385.4h0.5M85.8,390.8h0.5M80.2,392.3h0.5M78.7,400.3h0.5M73.8,402.5h0.5M70.7,387.5h0.5M82.7,386.7h0.5M74.0,398.5h0.5M86.7,382.5h0.5M81.0,404.4h0.5M86.6,391.7h0.5M72.2,391.3h0.5M67.8,391.5h0.5M75.5,392.2h0.5M86.5,391.7h0.5M65.3,399.4h0.5M68.4,390.4h0.5M75.9,391.0h0.5M69.0,391.6h0.5M75.9,399.8h0.5M83.0,397.7h0.5M83.9,381.3h0.5M70.1,393.9h0.5M81.0,400.9h0.5M80.8,391.7h0.5M77.3,391.8h0.5M79.0,397.1h0.5M74.3,388.2h0.5M70.2,399.7h0.5M87.2,399.1h0.5M83.9,398.1h0.5M77.0,397.1h0.5M68.6,391.9h0.5M71.1,397.5h0.5M72.4,392.5h0.5M80.2,401.2h0.5" stroke="#888" stroke-width="0.5" fill="none" opacity="0.7"/>
<path d="M49.2,364.6h0.5M58.9,363.2h0.5M56.7,367.5h0.5M53.4,357.5h0.5M58.3,368.1h0.5M48.6,388.7h0.5M58.3,400.2h0.5M56.4,369.3h0.5M54.6,385.0h0.5M53.8,375.7h0.5M57.1,364.8h0.5M54.8,368.1h0.5M46.5,379.1h0.5M58.0,372.7h0.5M48.6,356.1h0.5M56.9,371.3h0.5M43.9,371.6h0.5M44.9,371.9h0.5M54.9,374.9h0.5M55.3,373.5h0.5M47.2,369.0h0.5M50.9,370.2h0.5M55.6,377.1h0.5M63.8,351.6h0.5M56.4,370.5h0.5M67.7,379.6h0.5M44.1,375.3h0.5M50.9,380.0h0.5M47.7,371.3h0.5M53.2,371.3h0.5M50.5,357.4h0.5M56.8,380.1h0.5M53.6,364.0h0.5M55.2,376.6h0.5M52.9,372.0h0.5M62.5,363.2h0.5M50.7,356.9h0.5M49.8,366.2h0.5M48.2,366.5h0.5M64.8,370.5h0.5M53.3,389.7h0.5M53.6,358.2h0.5M56.4,364.6h0.5M63.8,362.1h0.5M50.5,359.3h0.5M54.6,364.0h0.5M53.6,369.1h0.5M50.3,379.6h0.5M59.6,372.6h0.5M48.6,363.5h0.5M55.6,391.2h0.5M51.3,365.8h0.5M49.8,363.3h0.5M48.2,370.5h0.5M62.6,372.1h0.5M50.9,359.2h0.5M55.3,371.9h0.5M46.6,363.4h0.5M53.7,380.2h0.5M57.8,373.7h0.5M52.1,374.7h0.5M53.9,389.5h0.5M47.2,369.2h0.5M61.6,370.0h0.5M62.5,371.7h0.5M54.9,369.1h0.5M45.7,364.3h0.5M67.3,377.3h0.5M57.6,379.7h0.5M57.4,380.3h0.5" stroke="#999" stroke-width="0.5" fill="none" opacity="0.7"/>
<path d="M75.1,370.3h0.5M83.9,369.3h0.5M67.7,370.3h0.5M73.2,377.0h0.5M72.0,363.6h0.5M74.7,384.5h0.5M76.7,373.4h0.5M77.1,374.5h0.5M83.5,383.3h0.5M65.5,383.0h0.5M77.0,369.5h0.5M90.6,379.8h0.5M69.8,376.0h0.5M82.2,371.1h0.5M60.7,369.3h0.5M75.7,363.2h0.5M89.8,370.1h0.5M74.2,369.7h0.5M71.5,365.9h0.5M77.7,374.6h0.5M73.4,371.4h0.5M67.3,376.3h0.5M71.8,373.8h0.5M70.7,368.0h0.5M78.5,362.4h0.5M76.5,366.2h0.5M88.2,383.2h0.5M79.1,361.2h0.5M73.5,377.0h0.5M73.4,362.6h0.5M68.7,365.9h0.5M77.1,366.9h0.5M77.1,394.4h0.5M89.4,363.8h0.5M79.4,372.8h0.5M76.0,380.4h0.5M74.7,369.5h0.5M74.4,371.3h0.5M86.0,378.3h0.5M67.6,368.6h0.5M71.4,378.6h0.5M78.6,379.2h0.5M76.6,356.8h0.5M80.2,373.9h0.5M80.6,361.7h0.5M77.6,366.6h0.5M72.2,374.9h0.5M79.5,365.0h0.5M65.0,352.3h0.5M73.0,381.1h0.5M76.6,354.1h0.5M71.0,375.5h0.5M88.7,381.4h0.5M79.6,373.7h0.5M69.6,368.5h0.5M74.7,365.9h0.5M77.4,369.0h0.5M79.4,383.6h0.5M82.2,375.4h0.5M75.3,359.9h0.5M76.2,376.4h0.5M69.9,382.1h0.5M74.7,375.1h0.5M74.7,362.1h0.5M91.5,362.8h0.5M83.4,367.7h0.5M79.0,365.7h0.5M74.1,379.5h0.5" stroke="#999" stroke-width="0.5" fill="none" opacity="0.7"/>
<path d="M63.0,394.1 C63.1,395.5 62.8,396.9 62.3,398.4 C61.8,399.9 61.4,402.0 60.0,403.1 C58.6,404.3 56.0,405.0 53.9,405.2 C51.8,405.3 49.6,404.5 47.7,404.0 C45.7,403.4 43.9,402.9 42.4,401.9 C41.0,401.0 39.9,399.7 39.0,398.4 C38.2,397.1 37.4,395.6 37.2,394.1 C37.0,392.6 37.1,390.8 37.9,389.4 C38.8,388.1 40.7,387.1 42.3,386.2 C43.9,385.2 45.6,384.2 47.5,383.7 C49.4,383.2 52.0,382.7 53.9,383.1 C55.8,383.5 57.7,384.9 59.0,386.0 C60.4,387.2 61.5,388.5 62.1,389.9 C62.8,391.2 63.0,392.7 63.0,394.1 Z" fill="none" stroke="#6a6a6a" stroke-width="0.45" opacity="1"/>
<path d="M62.9,393.5 C63.2,395.0 63.8,396.7 63.1,398.1 C62.5,399.4 60.8,400.9 59.2,401.6 C57.6,402.3 55.2,402.3 53.4,402.4 C51.6,402.5 49.8,402.4 48.2,402.1 C46.6,401.8 45.1,401.1 43.6,400.4 C42.1,399.6 40.4,398.9 39.3,397.7 C38.2,396.6 36.8,394.9 36.8,393.5 C36.8,392.1 38.2,390.5 39.3,389.3 C40.3,388.1 41.7,387.1 43.2,386.3 C44.6,385.4 46.3,384.6 48.0,384.3 C49.7,384.0 51.7,384.3 53.4,384.6 C55.2,384.9 57.0,385.4 58.4,386.2 C59.8,387.0 61.0,388.3 61.8,389.5 C62.5,390.7 62.7,392.1 62.9,393.5 Z" fill="none" stroke="#6a6a6a" stroke-width="0.45" opacity="1"/>
<path d="M62.1,393.0 C62.5,394.2 62.7,395.9 62.1,397.1 C61.5,398.3 59.9,399.4 58.5,400.2 C57.1,400.9 55.2,401.5 53.5,401.7 C51.9,401.8 50.1,401.3 48.5,400.9 C47.0,400.5 45.7,399.9 44.3,399.2 C43.0,398.5 41.2,397.8 40.4,396.8 C39.6,395.8 39.6,394.2 39.6,393.0 C39.7,391.7 40.3,390.5 40.9,389.3 C41.5,388.1 42.2,386.7 43.4,385.9 C44.7,385.0 46.6,384.5 48.3,384.2 C50.0,383.9 52.0,383.9 53.5,384.3 C55.1,384.7 56.7,385.6 57.8,386.5 C58.8,387.4 59.1,388.7 59.8,389.7 C60.5,390.8 61.7,391.8 62.1,393.0 Z" fill="none" stroke="#6a6a6a" stroke-width="0.45" opacity="1"/>
<path d="M62.1,392.4 C61.9,393.6 60.8,394.6 60.0,395.6 C59.2,396.6 58.6,397.7 57.5,398.4 C56.4,399.2 54.8,399.8 53.4,400.0 C52.0,400.2 50.3,399.8 48.9,399.5 C47.5,399.3 46.0,398.9 44.8,398.3 C43.7,397.7 42.7,396.7 41.9,395.7 C41.2,394.8 40.5,393.6 40.2,392.4 C40.0,391.2 39.9,389.7 40.7,388.7 C41.4,387.7 43.4,387.0 44.8,386.5 C46.1,386.0 47.6,385.9 49.0,385.7 C50.5,385.5 51.8,385.2 53.2,385.3 C54.6,385.4 56.1,385.9 57.4,386.4 C58.8,387.0 60.3,387.8 61.1,388.8 C61.9,389.8 62.3,391.3 62.1,392.4 Z" fill="none" stroke="#4c4c4c" stroke-width="0.45" opacity="1"/>
<path d="M61.4,391.9 C61.5,392.9 60.7,394.1 60.0,395.0 C59.3,395.9 58.1,396.7 57.0,397.2 C55.8,397.7 54.4,397.8 53.1,397.9 C51.8,398.0 50.7,398.0 49.4,397.9 C48.1,397.8 46.4,398.0 45.2,397.5 C44.0,397.0 43.0,395.9 42.5,395.0 C41.9,394.1 41.9,392.9 41.9,391.9 C42.0,390.8 42.1,389.7 42.7,388.8 C43.3,387.9 44.5,387.2 45.6,386.6 C46.7,386.0 47.9,385.5 49.2,385.2 C50.5,385.0 52.0,385.0 53.3,385.3 C54.5,385.6 55.4,386.4 56.5,387.0 C57.5,387.6 58.8,388.1 59.6,388.9 C60.4,389.7 61.4,390.8 61.4,391.9 Z" fill="none" stroke="#4c4c4c" stroke-width="0.45" opacity="1"/>
<path d="M58.5,391.3 C58.5,392.1 58.7,393.0 58.3,393.8 C58.0,394.5 57.3,395.4 56.5,396.0 C55.7,396.6 54.4,397.0 53.3,397.3 C52.1,397.5 50.6,397.7 49.5,397.4 C48.4,397.2 47.3,396.5 46.4,395.9 C45.5,395.3 44.6,394.7 44.1,393.9 C43.5,393.1 42.9,392.1 43.0,391.3 C43.1,390.5 44.0,389.6 44.6,388.9 C45.2,388.2 45.9,387.6 46.7,387.0 C47.6,386.4 48.5,385.8 49.6,385.5 C50.7,385.1 52.1,385.1 53.3,385.2 C54.5,385.3 56.1,385.5 57.0,386.1 C57.9,386.7 58.5,387.8 58.8,388.7 C59.0,389.6 58.6,390.5 58.5,391.3 Z" fill="none" stroke="#4c4c4c" stroke-width="0.6" opacity="1"/>
<path d="M57.9,390.7 C57.9,391.4 57.9,392.1 57.6,392.9 C57.4,393.6 57.1,394.6 56.4,395.1 C55.7,395.6 54.3,395.9 53.2,396.0 C52.1,396.0 51.0,395.8 50.0,395.6 C49.0,395.4 48.0,395.1 47.2,394.7 C46.5,394.2 45.9,393.5 45.5,392.9 C45.1,392.2 44.7,391.5 44.7,390.7 C44.6,390.0 44.9,389.2 45.3,388.6 C45.8,387.9 46.6,387.5 47.4,387.0 C48.2,386.5 48.9,385.8 49.9,385.5 C50.9,385.2 52.3,385.1 53.3,385.3 C54.3,385.5 55.2,386.2 55.9,386.8 C56.6,387.4 57.2,388.0 57.5,388.7 C57.8,389.3 57.8,390.0 57.9,390.7 Z" fill="none" stroke="#2c2c2c" stroke-width="0.6" opacity="1"/>
<path d="M58.0,390.2 C58.0,390.8 57.8,391.6 57.3,392.1 C56.8,392.6 56.0,393.0 55.3,393.3 C54.5,393.6 53.7,393.5 52.9,393.7 C52.0,393.8 51.3,394.2 50.4,394.2 C49.6,394.2 48.5,394.0 47.8,393.7 C47.1,393.3 46.5,392.7 46.2,392.1 C45.8,391.5 45.5,390.8 45.6,390.2 C45.7,389.6 46.1,388.9 46.5,388.4 C47.0,387.9 47.5,387.4 48.2,387.0 C48.8,386.6 49.6,386.2 50.4,386.0 C51.2,385.9 52.2,386.2 53.0,386.3 C53.8,386.5 54.5,386.8 55.2,387.1 C56.0,387.4 56.9,387.7 57.4,388.3 C57.8,388.8 58.0,389.5 58.0,390.2 Z" fill="none" stroke="#2c2c2c" stroke-width="0.6" opacity="1"/>
<path d="M57.0,389.6 C57.1,390.1 57.0,390.7 56.6,391.2 C56.2,391.6 55.5,391.9 54.9,392.2 C54.3,392.4 53.6,392.6 52.9,392.7 C52.2,392.7 51.6,392.5 50.9,392.5 C50.3,392.4 49.6,392.3 49.0,392.1 C48.3,391.9 47.4,391.6 47.1,391.2 C46.7,390.8 46.8,390.1 46.8,389.6 C46.9,389.1 47.2,388.6 47.6,388.2 C47.9,387.8 48.4,387.4 48.9,387.1 C49.5,386.8 50.2,386.7 50.9,386.6 C51.5,386.5 52.3,386.3 52.9,386.4 C53.6,386.5 54.3,386.8 54.8,387.1 C55.3,387.4 55.6,387.8 56.0,388.3 C56.4,388.7 56.9,389.1 57.0,389.6 Z" fill="none" stroke="#2c2c2c" stroke-width="0.6" opacity="1"/>
<path d="M56.0,389.1 C55.9,389.4 55.5,389.8 55.2,390.0 C54.8,390.3 54.4,390.5 54.0,390.7 C53.7,390.9 53.3,391.2 52.9,391.4 C52.4,391.5 51.7,391.6 51.2,391.5 C50.6,391.4 50.0,391.3 49.6,391.0 C49.2,390.8 48.7,390.5 48.6,390.1 C48.4,389.8 48.5,389.4 48.5,389.1 C48.5,388.7 48.5,388.4 48.7,388.0 C48.9,387.7 49.3,387.4 49.7,387.2 C50.1,387.0 50.8,387.0 51.3,386.9 C51.8,386.8 52.3,386.8 52.8,386.8 C53.4,386.8 54.0,386.9 54.5,387.1 C54.9,387.3 55.3,387.6 55.6,388.0 C55.9,388.3 56.1,388.7 56.0,389.1 Z" fill="none" stroke="#2c2c2c" stroke-width="0.6" opacity="1"/>
<path d="M54.8,388.5 C54.7,388.7 54.5,388.9 54.3,389.1 C54.1,389.3 54.0,389.5 53.7,389.6 C53.5,389.8 53.1,389.9 52.8,390.0 C52.4,390.0 52.0,390.1 51.6,390.1 C51.2,390.1 50.7,389.9 50.4,389.8 C50.2,389.6 50.1,389.3 50.0,389.1 C49.9,388.9 49.7,388.7 49.7,388.5 C49.7,388.3 49.7,388.0 49.9,387.9 C50.0,387.7 50.3,387.5 50.6,387.4 C50.9,387.2 51.3,387.1 51.6,387.0 C52.0,387.0 52.4,387.0 52.8,387.0 C53.2,387.1 53.5,387.2 53.9,387.3 C54.2,387.4 54.6,387.6 54.8,387.8 C54.9,388.0 54.8,388.3 54.8,388.5 Z" fill="none" stroke="#2c2c2c" stroke-width="0.6" opacity="1"/>
<ellipse cx="52.3" cy="387.70000000000005" rx="3.9" ry="1.7" fill="#1c1c1c" opacity="0.55" filter="url(#b03)"/>
<ellipse cx="52.2" cy="390.5" rx="1.3" ry="0.9" fill="#fff" opacity="0.85"/>
<path d="M88.7,393.8 C88.7,395.0 89.7,396.4 89.2,397.6 C88.8,398.8 87.7,400.3 86.1,401.0 C84.6,401.7 82.0,402.0 79.9,402.0 C77.9,401.9 75.4,401.5 73.7,400.8 C72.1,400.1 71.1,398.6 70.0,397.6 C68.9,396.6 67.9,395.9 66.9,394.8 C65.8,393.8 63.9,392.5 63.7,391.3 C63.5,390.1 64.7,388.7 65.7,387.7 C66.7,386.7 68.2,385.8 69.9,385.1 C71.5,384.5 73.5,383.9 75.4,383.9 C77.3,383.8 79.4,384.4 81.3,384.9 C83.2,385.4 85.4,385.9 86.7,386.8 C88.0,387.7 88.9,389.2 89.2,390.4 C89.5,391.5 88.7,392.6 88.7,393.8 Z" fill="none" stroke="#707070" stroke-width="0.45" opacity="1"/>
<path d="M87.8,393.3 C87.7,394.3 87.7,395.3 87.1,396.2 C86.5,397.1 85.5,398.2 84.1,398.6 C82.8,399.1 80.5,398.8 78.9,398.7 C77.3,398.5 75.7,398.2 74.3,397.8 C73.0,397.4 71.8,396.8 70.6,396.2 C69.4,395.5 68.5,394.9 67.4,394.0 C66.4,393.1 64.5,391.9 64.4,390.9 C64.2,389.9 65.3,388.6 66.4,387.9 C67.6,387.2 69.7,387.0 71.2,386.7 C72.7,386.4 74.0,386.0 75.5,386.0 C76.9,386.0 78.5,386.2 80.0,386.5 C81.5,386.8 83.1,387.2 84.4,387.8 C85.8,388.4 87.4,389.3 87.9,390.2 C88.5,391.1 88.0,392.3 87.8,393.3 Z" fill="none" stroke="#707070" stroke-width="0.45" opacity="1"/>
<path d="M85.8,392.6 C86.1,393.4 86.1,394.4 85.4,395.0 C84.7,395.6 83.0,395.9 81.8,396.2 C80.6,396.5 79.4,396.8 78.2,396.8 C76.9,396.8 75.5,396.7 74.3,396.3 C73.1,396.0 72.0,395.4 71.1,394.9 C70.2,394.3 69.1,393.7 68.7,393.1 C68.3,392.4 68.6,391.6 68.7,390.9 C68.8,390.2 68.9,389.6 69.3,388.9 C69.7,388.1 69.9,387.0 70.8,386.6 C71.8,386.1 73.7,386.1 75.1,386.2 C76.5,386.2 77.9,386.7 79.1,387.2 C80.2,387.6 81.2,388.1 81.9,388.7 C82.7,389.3 83.0,389.9 83.6,390.5 C84.3,391.2 85.5,391.9 85.8,392.6 Z" fill="none" stroke="#707070" stroke-width="0.45" opacity="1"/>
<path d="M82.2,391.8 C82.5,392.3 83.1,393.1 82.8,393.6 C82.5,394.1 81.4,394.5 80.5,394.7 C79.6,394.9 78.4,394.9 77.4,394.8 C76.4,394.8 75.3,394.6 74.5,394.4 C73.6,394.1 73.0,393.7 72.3,393.3 C71.6,392.9 70.6,392.6 70.2,392.1 C69.8,391.7 69.5,391.0 69.6,390.5 C69.7,390.1 70.4,389.7 70.9,389.2 C71.3,388.8 71.5,388.2 72.2,387.9 C72.9,387.6 74.0,387.3 75.0,387.3 C76.0,387.2 77.2,387.6 78.1,387.9 C79.0,388.1 79.9,388.5 80.5,389.0 C81.0,389.4 81.0,390.0 81.3,390.4 C81.6,390.9 82.0,391.3 82.2,391.8 Z" fill="none" stroke="#707070" stroke-width="0.45" opacity="1"/>
<path d="M79.7,391.1 C79.7,391.4 79.7,391.6 79.5,391.9 C79.2,392.1 78.9,392.4 78.5,392.6 C78.0,392.8 77.3,393.0 76.7,393.0 C76.0,393.0 75.3,392.7 74.6,392.5 C74.0,392.4 73.5,392.2 72.9,392.0 C72.4,391.7 71.8,391.5 71.6,391.2 C71.4,390.9 71.6,390.6 71.7,390.3 C71.8,390.0 72.0,389.8 72.2,389.5 C72.5,389.3 72.9,389.1 73.3,389.0 C73.8,388.8 74.4,388.7 75.0,388.6 C75.6,388.6 76.5,388.4 77.2,388.5 C77.8,388.6 78.6,389.0 78.9,389.3 C79.3,389.6 79.2,390.0 79.3,390.3 C79.5,390.6 79.7,390.8 79.7,391.1 Z" fill="none" stroke="#707070" stroke-width="0.45" opacity="1"/>
<path d="M60.9,372.9 C60.8,373.8 60.2,374.8 59.6,375.4 C59.0,376.0 58.0,376.0 57.4,376.6 C56.8,377.2 56.6,378.2 55.9,378.8 C55.2,379.3 54.0,379.9 53.1,379.9 C52.2,379.8 51.1,379.0 50.5,378.4 C49.8,377.7 49.1,376.7 48.9,375.8 C48.7,374.9 49.2,373.8 49.4,372.9 C49.6,372.0 49.8,371.4 50.0,370.6 C50.2,369.7 50.2,368.4 50.8,367.8 C51.3,367.2 52.5,367.1 53.3,367.0 C54.2,366.8 55.0,366.8 55.9,367.0 C56.8,367.1 57.9,367.1 58.6,367.6 C59.3,368.1 59.8,369.2 60.2,370.1 C60.6,370.9 61.0,372.0 60.9,372.9 Z" fill="none" stroke="#7a7a7a" stroke-width="0.45" opacity="1"/>
<path d="M59.3,373.4 C59.4,374.0 59.2,374.8 58.9,375.4 C58.7,376.0 58.3,376.7 57.8,377.0 C57.2,377.3 56.5,377.2 55.9,377.2 C55.3,377.2 54.9,376.9 54.4,376.9 C53.8,376.8 53.1,377.0 52.7,376.7 C52.3,376.4 52.0,375.6 51.8,375.1 C51.7,374.6 51.7,374.0 51.7,373.4 C51.6,372.8 51.3,372.1 51.5,371.5 C51.6,370.9 52.1,370.3 52.5,369.9 C53.0,369.4 53.6,369.0 54.2,368.9 C54.7,368.8 55.5,369.0 56.0,369.4 C56.4,369.7 56.5,370.6 56.8,371.0 C57.2,371.5 57.6,371.5 58.0,371.9 C58.5,372.3 59.1,372.8 59.3,373.4 Z" fill="none" stroke="#7a7a7a" stroke-width="0.45" opacity="1"/>
<path d="M57.6,373.9 C57.6,374.2 57.4,374.6 57.3,374.9 C57.1,375.1 56.9,375.3 56.7,375.5 C56.4,375.6 56.2,375.7 56.0,375.8 C55.7,375.8 55.5,375.7 55.3,375.6 C55.0,375.6 54.7,375.6 54.6,375.5 C54.4,375.3 54.2,375.0 54.2,374.7 C54.1,374.5 54.1,374.2 54.1,373.9 C54.1,373.6 53.9,373.2 53.9,372.9 C54.0,372.6 54.2,372.3 54.4,372.1 C54.6,371.9 55.0,371.9 55.2,371.9 C55.5,371.9 55.7,372.0 55.9,372.1 C56.1,372.3 56.2,372.6 56.4,372.7 C56.6,372.9 56.8,372.9 57.0,373.1 C57.2,373.3 57.6,373.6 57.6,373.9 Z" fill="none" stroke="#7a7a7a" stroke-width="0.45" opacity="1"/>
<path d="M83.2,373.8 C83.3,374.7 83.3,375.8 82.8,376.6 C82.4,377.3 81.2,377.8 80.4,378.3 C79.6,378.8 78.8,379.4 77.9,379.6 C77.0,379.8 75.9,379.7 74.9,379.6 C74.0,379.4 73.0,379.2 71.9,378.8 C70.9,378.4 69.1,378.1 68.5,377.2 C68.0,376.4 68.3,374.7 68.8,373.8 C69.2,372.9 70.5,372.2 71.1,371.5 C71.8,370.8 72.1,370.2 72.7,369.6 C73.4,369.1 74.1,368.7 75.0,368.3 C75.9,367.8 77.0,367.1 78.1,367.0 C79.2,366.9 80.9,367.2 81.6,367.9 C82.3,368.6 82.3,370.2 82.5,371.1 C82.8,372.1 83.2,372.9 83.2,373.8 Z" fill="none" stroke="#7a7a7a" stroke-width="0.45" opacity="1"/>
<path d="M82.5,373.5 C82.4,374.1 81.5,374.9 81.0,375.3 C80.4,375.8 79.5,375.8 79.0,376.0 C78.4,376.3 78.2,376.9 77.6,377.1 C77.1,377.4 76.4,377.5 75.7,377.5 C75.0,377.6 74.0,377.6 73.4,377.3 C72.7,377.0 71.9,376.3 71.8,375.6 C71.6,375.0 72.2,374.1 72.3,373.5 C72.5,372.9 72.4,372.3 72.7,371.7 C72.9,371.2 73.2,370.5 73.7,370.1 C74.2,369.8 75.1,369.9 75.8,369.8 C76.4,369.7 77.0,369.5 77.7,369.6 C78.3,369.7 79.0,369.9 79.6,370.2 C80.2,370.6 80.8,371.0 81.2,371.5 C81.7,372.1 82.5,372.9 82.5,373.5 Z" fill="none" stroke="#7a7a7a" stroke-width="0.45" opacity="1"/>
<path d="M79.3,373.2 C79.4,373.5 79.2,373.8 79.0,374.1 C78.9,374.3 78.7,374.6 78.4,374.8 C78.2,375.0 77.9,375.2 77.5,375.3 C77.2,375.4 76.9,375.3 76.5,375.3 C76.1,375.2 75.6,375.3 75.3,375.2 C74.9,375.0 74.6,374.6 74.6,374.2 C74.5,373.9 74.9,373.5 75.0,373.2 C75.1,372.9 75.1,372.7 75.2,372.4 C75.3,372.2 75.4,371.9 75.6,371.7 C75.8,371.4 76.1,371.1 76.4,370.9 C76.8,370.8 77.3,370.5 77.7,370.6 C78.0,370.7 78.3,371.2 78.5,371.5 C78.7,371.8 78.7,372.1 78.9,372.4 C79.0,372.7 79.3,372.9 79.3,373.2 Z" fill="none" stroke="#7a7a7a" stroke-width="0.45" opacity="1"/>
</g>
<rect x="34.1" y="349.4" width="58.49999999999999" height="58.30000000000001" fill="none" stroke="#111" stroke-width="1"/>
<line x1="63.2" y1="349.4" x2="63.2" y2="407.7" stroke="#111" stroke-width="1.0" />
<line x1="34.1" y1="383.1" x2="92.6" y2="383.1" stroke="#111" stroke-width="1.0" />
<path d="M32.1,404.2H34.1M32.800000000000004,394.9H34.1M32.800000000000004,392.0H34.1M32.800000000000004,389.6H34.1M32.1,387.9H34.1M32.800000000000004,378.5H34.1M32.800000000000004,373.9H34.1M32.800000000000004,371.0H34.1M32.1,369.2H34.1M32.800000000000004,361.1H34.1M32.800000000000004,356.4H34.1M32.1,353.5H34.1M36.4,407.7V409.8M45.8,407.7V409.09999999999997M48.1,407.7V409.09999999999997M49.9,407.7V409.09999999999997M51.6,407.7V409.8M58.7,407.7V409.09999999999997M63.3,407.7V409.09999999999997M66.3,407.7V409.09999999999997M69.2,407.7V409.8M77.4,407.7V409.09999999999997M82.1,407.7V409.09999999999997M85.0,407.7V409.09999999999997M87.3,407.7V409.8" stroke="#111" stroke-width="0.9" fill="none"/>
<text x="0" y="0" font-size="7.4" text-anchor="start" font-weight="normal" fill="#231f20" stroke="#231f20" stroke-width="0.18" transform="translate(35.5,355.29999999999995) scale(0.84,1)" >4.07</text>
<text x="0" y="0" font-size="7.4" text-anchor="end" font-weight="normal" fill="#231f20" stroke="#231f20" stroke-width="0.18" transform="translate(91.7,355.29999999999995) scale(0.84,1)" >4.12</text>
<text x="0" y="0" font-size="7.4" text-anchor="start" font-weight="normal" fill="#231f20" stroke="#231f20" stroke-width="0.18" transform="translate(35.5,405.8) scale(0.84,1)" >77.22</text>
<text x="0" y="0" font-size="7.4" text-anchor="end" font-weight="normal" fill="#231f20" stroke="#231f20" stroke-width="0.18" transform="translate(91.9,405.8) scale(0.84,1)" >14.59</text>
<clipPath id="fclip1"><rect x="34.1" y="415.0" width="58.49999999999999" height="58.19999999999999"/></clipPath>
<g clip-path="url(#fclip1)">
<path d="M66.6,455.1h0.5M51.1,465.9h0.5M46.0,464.5h0.5M44.7,463.8h0.5M54.5,467.5h0.5M53.9,453.0h0.5M56.3,453.6h0.5M57.0,469.3h0.5M55.8,456.9h0.5M60.5,461.2h0.5M41.0,458.1h0.5M62.4,458.4h0.5M52.0,458.1h0.5M37.5,457.1h0.5M53.9,461.4h0.5M49.6,447.4h0.5M60.8,464.5h0.5M59.2,468.0h0.5M47.4,456.6h0.5M53.5,470.2h0.5M37.5,458.8h0.5M45.3,463.6h0.5M62.7,458.4h0.5M41.1,460.5h0.5M48.7,450.9h0.5M58.1,457.1h0.5M56.5,452.3h0.5M59.8,451.6h0.5M59.4,449.3h0.5M62.0,458.0h0.5M38.6,458.8h0.5M53.7,454.3h0.5M47.1,461.8h0.5M49.6,441.8h0.5M47.6,462.8h0.5M53.4,466.3h0.5M57.4,462.1h0.5M59.7,465.9h0.5M51.8,456.5h0.5M59.2,462.7h0.5M35.9,453.6h0.5M54.7,460.9h0.5M53.2,464.1h0.5M52.2,469.7h0.5M46.3,457.8h0.5M53.6,464.7h0.5M57.3,469.1h0.5M47.2,467.2h0.5M54.7,453.9h0.5M49.9,472.7h0.5M57.3,457.4h0.5M45.4,460.7h0.5M69.5,464.7h0.5M53.5,454.6h0.5M41.5,459.0h0.5M47.8,456.5h0.5M60.0,460.7h0.5M41.1,467.9h0.5M48.5,452.2h0.5M53.6,463.1h0.5M48.3,464.4h0.5M57.6,454.9h0.5M34.5,445.8h0.5M50.0,467.6h0.5M59.0,468.6h0.5M65.8,460.3h0.5M59.4,451.0h0.5M56.5,462.6h0.5M50.2,457.5h0.5M42.1,461.0h0.5M61.2,458.0h0.5M55.2,456.2h0.5M53.0,454.2h0.5M54.0,458.9h0.5M53.5,456.6h0.5M41.6,458.2h0.5M59.3,469.7h0.5M48.4,465.0h0.5M57.1,462.6h0.5M38.6,462.1h0.5M43.2,467.3h0.5M57.3,463.9h0.5M56.6,452.5h0.5M58.8,460.7h0.5M49.5,455.9h0.5M42.9,457.6h0.5M75.7,461.4h0.5M52.7,456.3h0.5M46.1,456.9h0.5M43.9,465.5h0.5M48.8,465.4h0.5M41.8,465.8h0.5M50.8,464.2h0.5M50.2,454.9h0.5M60.7,457.6h0.5M49.8,454.9h0.5M52.6,457.9h0.5M53.3,462.3h0.5M45.5,451.7h0.5M54.5,465.7h0.5M56.6,453.3h0.5M55.8,462.5h0.5M53.3,462.8h0.5M48.4,461.5h0.5M58.4,457.2h0.5M39.5,459.6h0.5" stroke="#777" stroke-width="0.5" fill="none" opacity="0.7"/>
<path d="M78.6,448.1h0.5M71.6,462.7h0.5M75.8,459.8h0.5M66.9,464.6h0.5M91.0,458.0h0.5M71.1,452.3h0.5M84.1,459.8h0.5M70.6,466.5h0.5M83.1,462.8h0.5M62.9,458.6h0.5M82.0,451.9h0.5M84.4,467.8h0.5M85.3,454.9h0.5M71.3,464.9h0.5M85.0,466.6h0.5M86.6,458.6h0.5M73.7,448.1h0.5M83.3,472.9h0.5M73.3,456.3h0.5M82.2,461.4h0.5M66.0,454.9h0.5M68.2,471.3h0.5M71.3,464.3h0.5M92.3,470.6h0.5M88.4,469.0h0.5M67.1,457.1h0.5M71.2,457.5h0.5M81.5,451.8h0.5M87.7,467.0h0.5M72.9,471.6h0.5M77.6,467.0h0.5M79.5,455.8h0.5M74.0,458.5h0.5M81.9,460.0h0.5M73.3,454.9h0.5M70.8,450.6h0.5M69.1,464.6h0.5M77.5,458.2h0.5M79.8,465.6h0.5M81.9,463.8h0.5M72.5,457.6h0.5M70.8,458.6h0.5M70.5,457.0h0.5M75.6,457.9h0.5M74.9,456.2h0.5M87.5,457.1h0.5M68.9,460.4h0.5M68.3,452.8h0.5M77.7,449.2h0.5M51.2,460.9h0.5M85.3,449.2h0.5M69.8,462.7h0.5M61.1,454.0h0.5M67.4,458.0h0.5M61.2,464.6h0.5M75.8,461.0h0.5M74.4,446.5h0.5M75.8,451.2h0.5M77.1,454.1h0.5M74.5,457.9h0.5M83.2,463.8h0.5M69.0,459.1h0.5M88.7,462.2h0.5M71.2,458.5h0.5M74.2,464.8h0.5M77.3,461.5h0.5M68.9,448.8h0.5M64.3,464.3h0.5M79.3,469.0h0.5M61.2,453.9h0.5M88.6,465.4h0.5M84.1,464.4h0.5M77.3,459.1h0.5M77.3,464.3h0.5M75.7,461.1h0.5M88.6,452.4h0.5M71.0,462.6h0.5M74.9,458.3h0.5M73.7,465.8h0.5M71.6,459.9h0.5M71.9,472.2h0.5M81.2,456.8h0.5M80.9,454.4h0.5M72.2,459.8h0.5" stroke="#888" stroke-width="0.5" fill="none" opacity="0.7"/>
<path d="M56.5,449.0h0.5M58.4,453.6h0.5M56.7,439.4h0.5M53.2,431.3h0.5M63.8,428.7h0.5M53.3,434.0h0.5M49.3,420.4h0.5M51.7,439.3h0.5M54.9,445.0h0.5M53.0,433.1h0.5M55.8,443.5h0.5M48.6,426.0h0.5M47.8,446.7h0.5M60.0,431.1h0.5M54.7,444.9h0.5M62.0,432.9h0.5M52.6,449.5h0.5M68.5,450.4h0.5M47.2,441.8h0.5M52.2,437.7h0.5M50.0,434.4h0.5M53.9,452.6h0.5M58.2,441.6h0.5M54.2,432.2h0.5M52.6,448.1h0.5M59.0,453.9h0.5M55.6,438.0h0.5M44.3,441.4h0.5M43.7,450.4h0.5M50.2,438.2h0.5M45.9,434.2h0.5M48.4,447.3h0.5M55.5,428.8h0.5M42.4,437.7h0.5M51.1,429.3h0.5M57.5,436.7h0.5M54.7,433.5h0.5M50.6,434.5h0.5M44.4,443.2h0.5M56.4,424.4h0.5M54.6,447.4h0.5M55.4,448.6h0.5M52.4,438.2h0.5M46.2,431.0h0.5M43.1,431.0h0.5M55.5,442.4h0.5M61.0,439.2h0.5M48.1,441.6h0.5M53.1,452.5h0.5M65.8,445.9h0.5M47.2,434.0h0.5M55.1,432.5h0.5M57.1,443.7h0.5M59.0,440.0h0.5M48.7,431.5h0.5M53.3,448.8h0.5M63.4,446.0h0.5M56.2,443.6h0.5M58.9,448.5h0.5M59.1,425.9h0.5M59.7,441.3h0.5M51.2,442.4h0.5M55.7,437.8h0.5M43.9,439.1h0.5M57.3,437.8h0.5M44.5,441.9h0.5M58.3,439.6h0.5M56.6,435.4h0.5M50.1,442.4h0.5M51.9,439.7h0.5" stroke="#999" stroke-width="0.5" fill="none" opacity="0.7"/>
<path d="M77.9,425.2h0.5M77.7,444.3h0.5M72.1,436.3h0.5M61.2,442.6h0.5M72.8,443.7h0.5M86.6,436.9h0.5M83.9,440.2h0.5M75.6,436.0h0.5M71.0,448.5h0.5M83.2,430.2h0.5M82.9,432.4h0.5M66.5,447.8h0.5M68.0,447.7h0.5M78.4,445.4h0.5M80.6,447.4h0.5M79.4,442.8h0.5M78.7,447.0h0.5M74.3,446.3h0.5M87.5,437.7h0.5M80.1,434.1h0.5M75.0,440.3h0.5M74.6,431.1h0.5M76.8,439.7h0.5M79.3,443.9h0.5M64.6,449.5h0.5M75.8,432.0h0.5M74.4,441.7h0.5M83.1,435.3h0.5M78.1,425.4h0.5M78.2,437.3h0.5M74.0,445.3h0.5M89.6,446.5h0.5M71.5,450.4h0.5M74.7,437.9h0.5M72.9,441.8h0.5M80.9,439.4h0.5M75.5,437.1h0.5M74.2,446.0h0.5M73.4,437.0h0.5M75.5,432.2h0.5M75.4,426.5h0.5M79.9,442.5h0.5M74.9,450.6h0.5M71.3,442.6h0.5M80.3,433.9h0.5M75.3,445.3h0.5M77.4,440.5h0.5M86.8,439.9h0.5M65.3,432.3h0.5M82.8,437.2h0.5M69.5,422.5h0.5M79.3,450.2h0.5M68.3,420.9h0.5M80.5,433.9h0.5M75.0,435.6h0.5M70.7,441.7h0.5M83.4,441.1h0.5M73.1,446.5h0.5M76.2,442.8h0.5M70.5,443.4h0.5M82.2,448.5h0.5M77.2,441.7h0.5M73.0,445.2h0.5M82.4,446.8h0.5M74.3,428.5h0.5M76.5,436.6h0.5M71.8,443.0h0.5M83.6,441.3h0.5M84.7,441.3h0.5" stroke="#999" stroke-width="0.5" fill="none" opacity="0.7"/>
<path d="M64.6,460.2 C64.3,461.7 63.4,463.3 62.3,464.5 C61.3,465.8 59.9,466.8 58.4,467.7 C56.9,468.5 55.2,468.9 53.4,469.5 C51.5,470.1 49.4,471.1 47.4,471.1 C45.3,471.0 42.7,470.3 41.1,469.3 C39.6,468.2 39.0,466.2 38.3,464.7 C37.7,463.2 37.2,461.7 37.4,460.2 C37.5,458.7 38.1,457.2 39.0,455.9 C39.8,454.6 41.0,453.4 42.4,452.4 C43.8,451.3 45.6,450.1 47.5,449.8 C49.3,449.4 51.6,449.9 53.6,450.3 C55.5,450.7 57.4,451.2 59.1,452.1 C60.8,452.9 63.1,453.9 64.0,455.3 C64.9,456.6 64.9,458.7 64.6,460.2 Z" fill="none" stroke="#6a6a6a" stroke-width="0.45" opacity="1"/>
<path d="M64.3,459.6 C64.2,461.0 62.9,462.5 61.9,463.7 C60.8,464.9 59.5,465.8 58.1,466.7 C56.8,467.6 55.3,468.7 53.6,469.1 C51.9,469.4 49.8,469.0 48.1,468.6 C46.4,468.2 44.8,467.5 43.3,466.7 C41.9,465.9 40.2,465.0 39.3,463.8 C38.4,462.6 38.0,461.1 37.8,459.6 C37.7,458.2 37.6,456.4 38.5,455.1 C39.3,453.9 41.1,452.6 42.7,452.0 C44.4,451.4 46.6,451.6 48.3,451.5 C50.1,451.4 51.6,451.0 53.3,451.1 C55.1,451.2 57.1,451.4 58.7,452.1 C60.2,452.8 61.7,454.0 62.7,455.3 C63.6,456.5 64.4,458.2 64.3,459.6 Z" fill="none" stroke="#6a6a6a" stroke-width="0.45" opacity="1"/>
<path d="M62.1,459.1 C62.4,460.3 62.9,462.0 62.3,463.2 C61.7,464.4 60.1,465.7 58.6,466.3 C57.1,467.0 55.0,467.0 53.3,467.1 C51.7,467.3 50.0,467.6 48.4,467.3 C46.9,467.1 45.2,466.4 44.0,465.7 C42.7,464.9 41.7,463.8 41.0,462.7 C40.2,461.6 39.5,460.3 39.5,459.1 C39.5,457.9 40.2,456.6 40.9,455.4 C41.6,454.3 42.3,453.0 43.5,452.0 C44.7,451.1 46.5,450.0 48.1,449.8 C49.8,449.6 51.9,450.3 53.4,450.8 C55.0,451.3 56.2,452.1 57.4,452.9 C58.6,453.7 59.7,454.6 60.5,455.6 C61.2,456.6 61.8,457.8 62.1,459.1 Z" fill="none" stroke="#6a6a6a" stroke-width="0.45" opacity="1"/>
<path d="M60.7,458.5 C60.7,459.6 60.3,460.6 59.8,461.7 C59.3,462.7 58.8,464.1 57.7,464.8 C56.7,465.5 54.9,465.9 53.4,466.1 C51.9,466.3 50.3,466.1 48.8,465.9 C47.3,465.8 45.4,465.6 44.2,465.0 C43.0,464.3 42.0,463.1 41.5,462.0 C40.9,460.9 40.8,459.6 40.9,458.5 C41.1,457.4 41.6,456.3 42.4,455.4 C43.1,454.5 44.3,453.9 45.3,453.1 C46.4,452.3 47.3,451.3 48.7,450.7 C50.1,450.2 52.2,449.8 53.7,450.0 C55.2,450.3 56.6,451.4 57.7,452.3 C58.8,453.1 59.7,454.2 60.2,455.2 C60.7,456.3 60.8,457.4 60.7,458.5 Z" fill="none" stroke="#4c4c4c" stroke-width="0.45" opacity="1"/>
<path d="M60.4,458.0 C60.5,458.9 60.4,460.1 59.9,461.1 C59.4,462.0 58.5,463.1 57.4,463.7 C56.2,464.2 54.6,464.3 53.2,464.5 C51.9,464.7 50.5,464.8 49.2,464.6 C47.9,464.5 46.3,464.1 45.3,463.5 C44.4,462.8 43.9,461.7 43.5,460.7 C43.0,459.8 42.7,458.9 42.6,458.0 C42.5,457.0 42.5,455.9 43.0,455.0 C43.4,454.1 44.2,453.1 45.2,452.4 C46.2,451.6 47.6,450.7 48.9,450.5 C50.3,450.3 52.1,450.8 53.3,451.2 C54.5,451.7 55.3,452.6 56.3,453.2 C57.3,453.9 58.4,454.4 59.1,455.2 C59.8,455.9 60.3,457.0 60.4,458.0 Z" fill="none" stroke="#4c4c4c" stroke-width="0.45" opacity="1"/>
<path d="M59.8,457.4 C60.1,458.3 60.0,459.4 59.4,460.2 C58.9,461.1 57.8,461.8 56.7,462.3 C55.7,462.8 54.3,463.1 53.2,463.2 C52.0,463.2 50.9,462.8 49.8,462.6 C48.7,462.3 47.7,462.2 46.7,461.8 C45.6,461.4 44.3,460.9 43.7,460.1 C43.1,459.4 43.1,458.3 43.1,457.4 C43.2,456.5 43.5,455.6 44.0,454.8 C44.5,454.0 45.3,453.1 46.2,452.6 C47.1,452.1 48.4,451.8 49.6,451.7 C50.8,451.5 52.1,451.3 53.2,451.5 C54.3,451.8 55.4,452.4 56.2,453.0 C57.0,453.6 57.4,454.3 58.0,455.1 C58.6,455.8 59.6,456.5 59.8,457.4 Z" fill="none" stroke="#4c4c4c" stroke-width="0.6" opacity="1"/>
<path d="M58.4,456.8 C58.3,457.6 58.0,458.2 57.6,459.0 C57.3,459.7 57.0,460.6 56.3,461.1 C55.6,461.7 54.3,462.0 53.2,462.2 C52.2,462.3 51.0,462.0 50.0,461.7 C49.0,461.5 48.1,461.0 47.5,460.6 C46.8,460.1 46.5,459.4 46.0,458.8 C45.5,458.2 44.8,457.6 44.6,456.8 C44.3,456.1 44.1,455.1 44.5,454.4 C45.0,453.7 46.1,453.2 47.0,452.7 C47.9,452.3 49.0,452.0 50.0,451.9 C51.0,451.8 52.1,451.8 53.1,452.0 C54.0,452.2 54.9,452.6 55.7,453.1 C56.5,453.5 57.5,454.0 57.9,454.6 C58.4,455.3 58.4,456.1 58.4,456.8 Z" fill="none" stroke="#2c2c2c" stroke-width="0.6" opacity="1"/>
<path d="M57.6,456.3 C57.6,456.9 57.5,457.6 57.2,458.1 C56.8,458.7 56.2,459.2 55.5,459.6 C54.8,460.1 54.0,460.5 53.1,460.7 C52.3,460.8 51.2,460.5 50.4,460.3 C49.7,460.0 49.2,459.5 48.5,459.1 C47.9,458.7 47.1,458.5 46.6,458.0 C46.2,457.5 45.7,456.9 45.6,456.3 C45.5,455.7 45.6,454.9 46.0,454.3 C46.3,453.7 47.0,453.1 47.8,452.8 C48.5,452.5 49.6,452.5 50.5,452.4 C51.3,452.4 52.1,452.4 52.9,452.5 C53.8,452.6 54.8,452.6 55.4,453.0 C56.1,453.3 56.5,454.0 56.9,454.5 C57.3,455.1 57.5,455.7 57.6,456.3 Z" fill="none" stroke="#2c2c2c" stroke-width="0.6" opacity="1"/>
<path d="M56.7,455.7 C56.6,456.2 56.4,456.7 56.1,457.1 C55.7,457.5 55.2,457.9 54.7,458.1 C54.2,458.4 53.5,458.5 52.9,458.7 C52.2,458.9 51.5,459.2 50.7,459.2 C50.0,459.2 49.1,458.9 48.5,458.6 C48.0,458.3 47.8,457.6 47.6,457.1 C47.4,456.7 47.3,456.2 47.3,455.7 C47.4,455.3 47.6,454.8 47.9,454.4 C48.2,454.0 48.5,453.6 49.0,453.2 C49.4,452.9 50.1,452.4 50.7,452.3 C51.4,452.2 52.3,452.3 53.0,452.5 C53.7,452.6 54.3,452.9 54.9,453.2 C55.4,453.5 56.1,453.8 56.4,454.2 C56.7,454.7 56.7,455.2 56.7,455.7 Z" fill="none" stroke="#2c2c2c" stroke-width="0.6" opacity="1"/>
<path d="M55.8,455.2 C55.9,455.5 56.0,456.0 55.7,456.3 C55.5,456.6 54.9,456.9 54.4,457.0 C53.9,457.2 53.3,457.3 52.8,457.3 C52.3,457.4 51.8,457.4 51.3,457.3 C50.8,457.2 50.3,457.1 49.9,456.9 C49.4,456.8 48.7,456.6 48.4,456.3 C48.1,456.0 47.9,455.5 48.0,455.2 C48.1,454.8 48.5,454.5 48.8,454.1 C49.1,453.8 49.4,453.5 49.8,453.3 C50.2,453.1 50.7,453.0 51.2,452.9 C51.8,452.8 52.3,452.8 52.8,452.9 C53.4,453.0 54.0,453.1 54.4,453.3 C54.8,453.5 55.0,453.8 55.3,454.2 C55.5,454.5 55.8,454.8 55.8,455.2 Z" fill="none" stroke="#2c2c2c" stroke-width="0.6" opacity="1"/>
<path d="M55.0,454.6 C54.9,454.8 54.6,455.0 54.4,455.2 C54.2,455.4 54.0,455.6 53.8,455.7 C53.5,455.9 53.1,456.0 52.8,456.1 C52.4,456.1 52.0,456.0 51.7,456.0 C51.3,455.9 50.9,455.9 50.6,455.7 C50.3,455.6 50.0,455.5 49.8,455.3 C49.6,455.1 49.5,454.8 49.5,454.6 C49.4,454.4 49.5,454.1 49.7,453.9 C49.8,453.7 50.3,453.6 50.6,453.5 C51.0,453.4 51.3,453.4 51.7,453.3 C52.1,453.3 52.4,453.2 52.8,453.2 C53.1,453.2 53.6,453.3 53.9,453.4 C54.2,453.5 54.5,453.7 54.7,453.9 C54.9,454.1 55.0,454.4 55.0,454.6 Z" fill="none" stroke="#2c2c2c" stroke-width="0.6" opacity="1"/>
<ellipse cx="52.3" cy="453.8" rx="3.9" ry="1.7" fill="#1c1c1c" opacity="0.55" filter="url(#b03)"/>
<ellipse cx="52.2" cy="456.59999999999997" rx="1.3" ry="0.9" fill="#fff" opacity="0.85"/>
<path d="M91.2,460.2 C91.1,461.3 89.8,462.5 88.9,463.5 C88.0,464.6 87.0,465.8 85.5,466.5 C84.0,467.2 81.7,467.5 79.8,467.5 C77.8,467.6 75.6,467.4 73.7,467.0 C71.8,466.5 69.5,465.7 68.4,464.7 C67.3,463.7 67.5,462.1 67.1,460.9 C66.7,459.7 66.4,458.9 66.1,457.6 C65.8,456.4 64.8,454.8 65.3,453.7 C65.9,452.5 67.6,451.3 69.2,450.6 C70.9,449.9 73.3,449.4 75.3,449.5 C77.3,449.5 79.6,450.3 81.3,451.1 C82.9,451.8 83.7,453.1 85.1,454.0 C86.5,454.8 88.5,455.4 89.5,456.4 C90.5,457.5 91.3,459.0 91.2,460.2 Z" fill="none" stroke="#707070" stroke-width="0.45" opacity="1"/>
<path d="M88.4,459.4 C88.2,460.4 87.5,461.4 86.6,462.1 C85.7,462.8 84.3,463.2 83.0,463.7 C81.7,464.2 80.4,464.9 79.0,465.0 C77.5,465.1 75.6,464.7 74.1,464.3 C72.7,463.9 71.8,463.0 70.4,462.4 C69.1,461.7 67.2,461.2 66.3,460.3 C65.4,459.4 64.7,458.1 64.9,457.1 C65.0,456.1 66.1,455.0 67.1,454.3 C68.2,453.5 69.6,452.9 71.0,452.7 C72.5,452.4 74.2,452.8 75.7,452.8 C77.2,452.8 78.4,452.5 80.0,452.6 C81.6,452.7 84.1,452.7 85.4,453.3 C86.8,453.9 87.6,455.3 88.1,456.3 C88.6,457.3 88.7,458.5 88.4,459.4 Z" fill="none" stroke="#707070" stroke-width="0.45" opacity="1"/>
<path d="M85.4,458.7 C85.4,459.4 85.3,460.3 84.8,460.9 C84.2,461.5 83.0,462.0 81.9,462.4 C80.9,462.8 79.6,463.3 78.3,463.3 C77.0,463.3 75.4,462.8 74.3,462.3 C73.3,461.9 72.8,461.1 71.9,460.5 C71.0,460.0 69.8,459.7 69.0,459.1 C68.2,458.5 67.4,457.6 67.2,456.9 C67.1,456.1 67.5,455.2 68.2,454.5 C68.8,453.9 69.9,453.2 71.1,452.9 C72.3,452.7 74.1,453.1 75.4,453.2 C76.7,453.3 77.7,453.4 78.9,453.6 C80.1,453.8 81.7,453.9 82.7,454.4 C83.6,454.9 84.2,455.7 84.7,456.5 C85.1,457.2 85.4,457.9 85.4,458.7 Z" fill="none" stroke="#707070" stroke-width="0.45" opacity="1"/>
<path d="M83.2,458.0 C83.0,458.5 82.3,458.9 81.7,459.3 C81.2,459.7 80.7,460.1 80.0,460.4 C79.3,460.6 78.2,460.6 77.3,460.6 C76.4,460.7 75.4,460.7 74.5,460.5 C73.6,460.3 72.6,460.0 71.9,459.6 C71.2,459.2 70.9,458.7 70.5,458.2 C70.0,457.7 69.1,457.1 69.0,456.6 C68.9,456.0 69.2,455.3 69.7,454.9 C70.3,454.5 71.7,454.4 72.6,454.3 C73.5,454.2 74.4,454.1 75.2,454.1 C76.1,454.2 76.9,454.3 77.8,454.4 C78.7,454.6 79.7,454.7 80.6,455.0 C81.5,455.3 82.9,455.7 83.4,456.2 C83.8,456.7 83.5,457.5 83.2,458.0 Z" fill="none" stroke="#707070" stroke-width="0.45" opacity="1"/>
<path d="M80.0,457.2 C80.0,457.5 79.7,457.7 79.4,458.0 C79.2,458.2 78.8,458.4 78.4,458.6 C77.9,458.8 77.4,459.2 76.7,459.2 C76.1,459.2 75.1,459.0 74.5,458.8 C74.0,458.6 73.6,458.2 73.2,458.0 C72.8,457.7 72.4,457.5 72.2,457.2 C72.0,457.0 71.9,456.7 71.8,456.4 C71.7,456.1 71.5,455.7 71.7,455.5 C71.9,455.2 72.3,454.8 72.9,454.7 C73.5,454.6 74.4,454.8 75.0,454.8 C75.7,454.8 76.3,454.8 77.0,455.0 C77.6,455.1 78.3,455.3 78.8,455.5 C79.2,455.7 79.4,456.1 79.6,456.4 C79.8,456.6 80.0,456.9 80.0,457.2 Z" fill="none" stroke="#707070" stroke-width="0.45" opacity="1"/>
<path d="M60.5,439.6 C60.2,441.1 59.9,442.4 59.3,443.5 C58.7,444.7 57.8,445.9 56.9,446.6 C55.9,447.3 54.7,447.6 53.5,447.9 C52.4,448.2 51.0,448.9 49.9,448.6 C48.8,448.3 47.8,447.2 46.9,446.3 C46.0,445.5 45.4,444.5 44.6,443.4 C43.7,442.3 42.1,441.0 41.9,439.6 C41.7,438.2 42.5,436.3 43.3,435.1 C44.1,434.0 45.7,433.3 46.8,432.7 C48.0,432.2 49.1,431.9 50.2,431.8 C51.3,431.7 52.1,432.2 53.3,432.3 C54.5,432.3 56.0,431.7 57.3,432.1 C58.5,432.5 60.4,433.6 60.9,434.8 C61.4,436.1 60.7,438.1 60.5,439.6 Z" fill="none" stroke="#7a7a7a" stroke-width="0.45" opacity="1"/>
<path d="M57.7,440.1 C57.3,441.0 56.5,441.5 56.1,442.2 C55.7,442.9 55.7,443.7 55.2,444.3 C54.8,444.9 54.2,445.4 53.5,445.8 C52.7,446.2 51.8,446.9 50.9,446.9 C50.1,446.8 49.0,446.3 48.4,445.6 C47.9,444.9 48.0,443.5 47.8,442.6 C47.5,441.6 47.1,441.0 47.0,440.1 C46.9,439.2 47.0,438.1 47.4,437.4 C47.7,436.7 48.7,436.3 49.3,435.9 C49.9,435.4 50.5,434.8 51.2,434.5 C51.9,434.3 52.7,434.3 53.5,434.4 C54.3,434.4 55.1,434.6 55.9,435.0 C56.7,435.4 58.1,436.0 58.3,436.8 C58.6,437.7 58.1,439.2 57.7,440.1 Z" fill="none" stroke="#7a7a7a" stroke-width="0.45" opacity="1"/>
<path d="M55.4,440.6 C55.3,441.1 55.0,441.4 54.9,441.8 C54.7,442.3 54.6,442.8 54.4,443.0 C54.1,443.3 53.7,443.4 53.3,443.5 C53.0,443.5 52.6,443.4 52.3,443.3 C52.0,443.2 51.7,443.0 51.4,442.7 C51.2,442.5 51.2,442.0 51.0,441.7 C50.8,441.3 50.4,441.0 50.2,440.6 C50.1,440.2 50.0,439.4 50.1,439.0 C50.3,438.6 50.9,438.4 51.3,438.2 C51.6,438.0 52.0,438.0 52.3,438.0 C52.7,438.0 52.9,438.1 53.2,438.2 C53.5,438.3 53.8,438.4 54.1,438.6 C54.4,438.7 55.0,438.8 55.2,439.1 C55.4,439.5 55.4,440.1 55.4,440.6 Z" fill="none" stroke="#7a7a7a" stroke-width="0.45" opacity="1"/>
<path d="M87.2,439.0 C87.5,440.3 87.6,442.2 86.9,443.3 C86.1,444.4 84.2,445.4 82.7,445.7 C81.3,446.0 79.5,445.0 78.1,445.1 C76.8,445.2 75.9,446.0 74.6,446.1 C73.3,446.3 71.4,446.3 70.2,445.8 C69.0,445.2 68.1,443.9 67.4,442.8 C66.6,441.7 65.8,440.2 65.8,439.0 C65.9,437.8 67.1,436.5 67.9,435.4 C68.7,434.3 69.6,433.5 70.6,432.7 C71.7,431.8 72.9,430.5 74.2,430.3 C75.5,430.2 77.2,431.3 78.4,431.9 C79.6,432.4 80.3,433.0 81.5,433.6 C82.7,434.2 84.5,434.4 85.4,435.3 C86.4,436.2 87.0,437.7 87.2,439.0 Z" fill="none" stroke="#7a7a7a" stroke-width="0.45" opacity="1"/>
<path d="M83.8,438.7 C84.0,439.6 84.2,440.8 83.7,441.6 C83.3,442.4 82.0,443.1 81.1,443.3 C80.1,443.6 78.9,443.2 78.0,443.2 C77.1,443.3 76.3,443.9 75.4,443.9 C74.6,443.9 73.5,443.5 72.8,443.0 C72.1,442.5 71.9,441.7 71.4,440.9 C71.0,440.2 70.3,439.5 70.2,438.7 C70.1,437.9 70.4,437.0 70.8,436.2 C71.1,435.4 71.6,434.5 72.3,433.9 C73.1,433.3 74.2,432.5 75.2,432.5 C76.1,432.5 77.2,433.7 78.0,434.1 C78.8,434.6 79.2,435.0 79.9,435.3 C80.7,435.7 81.8,435.8 82.5,436.3 C83.2,436.9 83.6,437.8 83.8,438.7 Z" fill="none" stroke="#7a7a7a" stroke-width="0.45" opacity="1"/>
<path d="M80.4,438.4 C80.1,438.8 79.7,439.1 79.5,439.4 C79.3,439.8 79.3,440.2 79.0,440.5 C78.7,440.7 78.2,440.9 77.8,441.0 C77.3,441.2 76.8,441.3 76.3,441.3 C75.9,441.2 75.3,441.0 74.9,440.7 C74.6,440.5 74.5,440.0 74.2,439.6 C74.0,439.2 73.5,438.8 73.5,438.4 C73.4,438.0 73.6,437.4 73.9,437.1 C74.2,436.8 75.0,436.7 75.4,436.6 C75.8,436.4 76.1,436.2 76.5,436.1 C76.9,435.9 77.3,435.8 77.8,435.8 C78.3,435.8 78.9,435.8 79.4,435.9 C79.9,436.1 80.6,436.5 80.8,436.9 C81.0,437.3 80.6,438.0 80.4,438.4 Z" fill="none" stroke="#7a7a7a" stroke-width="0.45" opacity="1"/>
</g>
<rect x="34.1" y="415.0" width="58.49999999999999" height="58.19999999999999" fill="none" stroke="#111" stroke-width="1"/>
<line x1="63.2" y1="415.0" x2="63.2" y2="473.2" stroke="#111" stroke-width="1.0" />
<line x1="34.1" y1="449.2" x2="92.6" y2="449.2" stroke="#111" stroke-width="1.0" />
<path d="M32.1,469.7H34.1M32.800000000000004,460.4H34.1M32.800000000000004,457.5H34.1M32.800000000000004,455.2H34.1M32.1,453.4H34.1M32.800000000000004,444.1H34.1M32.800000000000004,439.4H34.1M32.800000000000004,436.5H34.1M32.1,434.8H34.1M32.800000000000004,426.6H34.1M32.800000000000004,422.0H34.1M32.1,419.1H34.1M36.4,473.2V475.3M45.8,473.2V474.59999999999997M48.1,473.2V474.59999999999997M49.9,473.2V474.59999999999997M51.6,473.2V475.3M58.7,473.2V474.59999999999997M63.3,473.2V474.59999999999997M66.3,473.2V474.59999999999997M69.2,473.2V475.3M77.4,473.2V474.59999999999997M82.1,473.2V474.59999999999997M85.0,473.2V474.59999999999997M87.3,473.2V475.3" stroke="#111" stroke-width="0.9" fill="none"/>
<text x="0" y="0" font-size="7.4" text-anchor="start" font-weight="normal" fill="#231f20" stroke="#231f20" stroke-width="0.18" transform="translate(35.5,420.9) scale(0.84,1)" >5.93</text>
<text x="0" y="0" font-size="7.4" text-anchor="end" font-weight="normal" fill="#231f20" stroke="#231f20" stroke-width="0.18" transform="translate(89.2,420.9) scale(0.84,1)" >4.96</text>
<text x="0" y="0" font-size="7.4" text-anchor="start" font-weight="normal" fill="#231f20" stroke="#231f20" stroke-width="0.18" transform="translate(35.5,471.3) scale(0.84,1)" >77.90</text>
<text x="0" y="0" font-size="7.4" text-anchor="end" font-weight="normal" fill="#231f20" stroke="#231f20" stroke-width="0.18" transform="translate(91.9,471.3) scale(0.84,1)" >11.21</text>
<clipPath id="fclip2"><rect x="34.1" y="481.4" width="58.49999999999999" height="58.0"/></clipPath>
<g clip-path="url(#fclip2)">
<path d="M43.3,522.1h0.5M48.2,529.7h0.5M58.3,526.4h0.5M59.0,520.7h0.5M50.1,534.5h0.5M54.5,531.8h0.5M36.1,515.7h0.5M44.2,531.6h0.5M63.9,521.9h0.5M43.2,519.6h0.5M44.0,528.9h0.5M48.5,536.7h0.5M56.7,521.6h0.5M52.9,524.7h0.5M57.3,531.0h0.5M48.3,530.9h0.5M55.5,525.1h0.5M53.0,529.6h0.5M48.5,521.6h0.5M61.0,525.6h0.5M46.3,528.3h0.5M39.4,525.9h0.5M40.3,523.1h0.5M37.0,521.4h0.5M58.1,524.5h0.5M41.5,535.9h0.5M46.1,534.4h0.5M46.9,517.0h0.5M65.5,523.1h0.5M57.0,532.6h0.5M40.7,526.1h0.5M46.5,529.2h0.5M50.9,518.2h0.5M51.5,530.1h0.5M48.7,528.9h0.5M46.9,525.3h0.5M53.8,526.5h0.5M61.0,531.2h0.5M57.7,529.9h0.5M52.3,518.8h0.5M59.4,535.9h0.5M52.8,524.1h0.5M50.8,532.7h0.5M53.3,519.9h0.5M49.7,521.1h0.5M49.5,520.4h0.5M44.2,534.4h0.5M59.3,516.2h0.5M43.4,523.0h0.5M48.0,517.5h0.5M58.0,516.2h0.5M56.5,529.7h0.5M48.2,521.8h0.5M51.5,526.5h0.5M34.6,518.3h0.5M55.2,525.0h0.5M47.8,519.8h0.5M45.5,521.2h0.5M72.9,518.3h0.5M63.1,528.5h0.5M52.7,526.8h0.5M48.1,535.1h0.5M55.0,525.5h0.5M50.1,526.8h0.5M42.1,523.8h0.5M46.2,529.3h0.5M55.8,514.7h0.5M49.3,531.4h0.5M40.9,518.7h0.5M58.9,524.9h0.5M47.5,518.5h0.5M52.4,522.4h0.5M52.7,528.1h0.5M56.6,523.7h0.5M47.0,525.8h0.5M50.3,526.7h0.5M46.9,524.3h0.5M46.5,522.2h0.5M52.3,532.4h0.5M46.9,529.1h0.5M53.8,526.3h0.5M56.4,522.4h0.5M55.5,527.4h0.5M55.8,537.1h0.5M42.8,526.2h0.5M53.8,520.0h0.5M60.5,528.3h0.5M44.8,518.6h0.5M68.0,511.1h0.5M36.8,529.6h0.5M50.2,521.9h0.5M55.8,526.2h0.5M53.3,527.2h0.5M42.5,533.4h0.5M47.5,532.3h0.5M56.5,525.9h0.5M52.2,525.4h0.5M36.6,523.7h0.5M54.4,516.2h0.5M39.4,532.0h0.5M57.4,516.5h0.5M54.7,525.4h0.5M58.7,523.7h0.5M49.3,521.2h0.5M52.5,524.9h0.5M45.9,523.6h0.5M45.1,529.3h0.5M42.9,516.5h0.5" stroke="#777" stroke-width="0.5" fill="none" opacity="0.7"/>
<path d="M69.5,531.0h0.5M73.1,528.5h0.5M82.8,521.6h0.5M83.0,527.6h0.5M76.7,520.5h0.5M76.6,517.1h0.5M74.9,521.2h0.5M80.5,526.7h0.5M72.0,529.7h0.5M86.4,525.0h0.5M71.2,527.6h0.5M57.8,521.2h0.5M81.6,536.5h0.5M71.2,533.7h0.5M58.4,531.1h0.5M78.6,530.6h0.5M75.6,521.0h0.5M75.2,533.5h0.5M83.7,522.9h0.5M80.1,529.8h0.5M81.5,524.4h0.5M71.8,520.2h0.5M73.6,521.3h0.5M64.5,516.2h0.5M84.0,518.0h0.5M66.6,524.4h0.5M88.5,532.1h0.5M73.8,518.5h0.5M72.8,519.2h0.5M72.7,527.5h0.5M68.6,520.0h0.5M75.0,524.5h0.5M70.9,519.9h0.5M68.0,520.1h0.5M81.2,523.2h0.5M52.3,528.3h0.5M76.5,519.4h0.5M75.0,506.6h0.5M63.9,531.6h0.5M71.2,524.8h0.5M83.2,517.3h0.5M90.9,520.3h0.5M79.8,517.7h0.5M79.9,524.5h0.5M85.6,517.7h0.5M76.9,535.5h0.5M67.5,526.7h0.5M80.5,521.6h0.5M74.9,533.1h0.5M86.1,528.0h0.5M79.1,517.8h0.5M77.7,535.3h0.5M85.4,516.5h0.5M60.4,520.6h0.5M78.3,521.3h0.5M74.6,526.7h0.5M84.2,525.9h0.5M87.0,516.1h0.5M80.7,527.2h0.5M65.1,532.1h0.5M64.2,515.9h0.5M80.0,532.7h0.5M86.2,517.8h0.5M80.9,533.0h0.5M75.7,525.0h0.5M73.3,529.0h0.5M72.6,521.1h0.5M67.2,519.0h0.5M78.8,527.4h0.5M73.9,518.3h0.5M79.7,526.8h0.5M87.2,521.6h0.5M73.7,527.7h0.5M89.3,524.3h0.5M76.3,518.9h0.5M74.0,530.3h0.5M83.9,531.3h0.5M63.8,529.7h0.5M69.6,528.2h0.5M57.9,524.0h0.5M69.9,532.3h0.5M78.0,532.5h0.5M73.5,536.5h0.5M73.4,536.1h0.5M73.1,518.7h0.5M84.2,522.2h0.5M76.5,516.5h0.5" stroke="#888" stroke-width="0.5" fill="none" opacity="0.7"/>
<path d="M51.9,504.5h0.5M49.7,506.8h0.5M40.1,510.8h0.5M51.5,515.5h0.5M51.9,498.3h0.5M51.3,505.8h0.5M57.6,499.9h0.5M49.2,507.1h0.5M59.0,489.5h0.5M47.7,498.2h0.5M64.4,513.6h0.5M58.8,507.6h0.5M47.2,512.7h0.5M51.3,497.2h0.5M65.8,491.9h0.5M62.4,505.2h0.5M48.4,505.1h0.5M48.9,505.1h0.5M50.1,494.0h0.5M70.1,499.6h0.5M60.0,503.2h0.5M58.1,493.4h0.5M60.1,507.2h0.5M46.9,510.4h0.5M57.6,527.3h0.5M55.5,511.0h0.5M57.7,509.9h0.5M53.9,500.3h0.5M58.3,513.6h0.5M46.9,494.4h0.5M53.8,518.2h0.5M52.8,489.9h0.5M58.9,509.7h0.5M65.8,505.2h0.5M66.0,497.8h0.5M59.5,504.7h0.5M46.8,501.4h0.5M62.1,512.7h0.5M51.7,512.6h0.5M59.5,510.9h0.5M55.8,506.1h0.5" stroke="#999" stroke-width="0.5" fill="none" opacity="0.7"/>
<path d="M71.2,503.1h0.5M77.9,497.7h0.5M75.0,505.0h0.5M78.5,512.2h0.5M69.7,500.4h0.5M78.9,500.6h0.5M79.4,499.8h0.5M85.4,501.8h0.5M69.0,509.7h0.5M88.8,488.0h0.5M76.1,504.2h0.5M84.4,515.8h0.5M75.9,491.0h0.5M81.8,511.8h0.5M80.3,504.3h0.5M71.3,523.4h0.5M68.5,491.5h0.5M84.0,506.0h0.5M81.8,506.5h0.5M89.0,515.2h0.5M73.1,511.8h0.5M68.7,489.8h0.5M85.6,500.2h0.5M61.9,503.5h0.5M72.3,507.8h0.5M76.6,497.4h0.5M72.0,509.9h0.5M70.5,504.7h0.5M70.1,507.3h0.5M89.7,508.3h0.5M84.9,507.3h0.5M70.2,501.2h0.5M77.5,507.2h0.5M72.8,508.6h0.5M72.0,504.2h0.5M77.0,494.4h0.5M84.1,504.1h0.5M77.8,503.4h0.5M62.2,492.3h0.5M70.7,511.7h0.5M73.0,508.6h0.5M69.8,496.8h0.5" stroke="#999" stroke-width="0.5" fill="none" opacity="0.7"/>
<path d="M64.6,525.6 C64.6,527.2 64.2,528.9 63.3,530.3 C62.4,531.6 60.7,532.8 59.0,533.7 C57.4,534.6 55.5,535.1 53.6,535.5 C51.6,535.9 49.3,536.3 47.5,535.9 C45.7,535.5 44.1,534.2 42.7,533.2 C41.3,532.2 40.2,531.1 39.1,529.8 C38.0,528.6 36.4,527.1 36.1,525.6 C35.8,524.1 36.4,522.2 37.4,520.7 C38.3,519.3 39.9,517.8 41.6,517.0 C43.4,516.2 45.7,515.8 47.7,515.8 C49.6,515.7 51.4,516.5 53.2,516.8 C55.1,517.1 57.1,517.0 58.8,517.7 C60.6,518.4 62.7,519.5 63.7,520.8 C64.6,522.1 64.7,524.0 64.6,525.6 Z" fill="none" stroke="#6a6a6a" stroke-width="0.45" opacity="1"/>
<path d="M63.4,525.0 C63.4,526.4 62.9,528.0 62.0,529.1 C61.0,530.3 59.1,530.9 57.7,531.7 C56.3,532.5 55.1,533.4 53.5,534.0 C51.8,534.6 49.6,535.2 47.7,535.1 C45.9,534.9 43.8,534.0 42.4,533.1 C40.9,532.1 39.5,530.7 39.0,529.4 C38.4,528.0 38.8,526.4 39.1,525.0 C39.4,523.7 40.2,522.6 40.8,521.4 C41.4,520.1 41.6,518.5 42.8,517.5 C44.0,516.5 46.1,515.7 47.9,515.4 C49.7,515.1 51.8,515.3 53.6,515.6 C55.4,516.0 57.4,516.4 58.8,517.3 C60.3,518.2 61.2,519.6 62.0,520.9 C62.8,522.2 63.4,523.7 63.4,525.0 Z" fill="none" stroke="#6a6a6a" stroke-width="0.45" opacity="1"/>
<path d="M62.8,524.5 C62.8,525.7 62.1,527.1 61.3,528.3 C60.5,529.4 59.4,530.5 58.2,531.3 C56.9,532.2 55.2,533.2 53.6,533.3 C52.0,533.5 50.1,532.8 48.6,532.3 C47.0,531.9 45.8,531.2 44.5,530.5 C43.2,529.9 41.6,529.2 40.6,528.2 C39.7,527.2 39.1,525.8 38.9,524.5 C38.7,523.2 38.8,521.5 39.6,520.3 C40.3,519.2 42.1,518.1 43.6,517.5 C45.1,517.0 47.0,517.2 48.7,517.0 C50.3,516.8 51.8,516.4 53.3,516.5 C54.9,516.6 56.8,517.0 58.1,517.7 C59.4,518.4 60.4,519.6 61.2,520.7 C62.0,521.9 62.8,523.2 62.8,524.5 Z" fill="none" stroke="#6a6a6a" stroke-width="0.45" opacity="1"/>
<path d="M61.1,523.9 C61.1,525.1 61.0,526.3 60.5,527.3 C59.9,528.4 58.9,529.5 57.8,530.2 C56.6,530.9 55.0,531.4 53.4,531.7 C51.9,532.0 50.1,532.2 48.7,531.8 C47.3,531.5 46.0,530.4 45.1,529.6 C44.1,528.7 43.7,527.8 43.0,526.9 C42.2,525.9 41.0,525.0 40.7,523.9 C40.4,522.8 40.6,521.4 41.1,520.3 C41.7,519.2 42.9,518.1 44.1,517.4 C45.4,516.7 47.2,516.2 48.7,516.1 C50.2,516.1 51.8,516.7 53.2,517.1 C54.6,517.4 56.0,517.6 57.2,518.2 C58.4,518.7 59.9,519.5 60.6,520.5 C61.2,521.5 61.1,522.8 61.1,523.9 Z" fill="none" stroke="#4c4c4c" stroke-width="0.45" opacity="1"/>
<path d="M59.7,523.4 C59.9,524.4 60.5,525.6 60.2,526.6 C59.8,527.6 58.8,528.8 57.7,529.3 C56.5,529.9 54.7,530.0 53.3,530.1 C51.9,530.1 50.5,530.1 49.3,529.8 C48.0,529.5 46.9,528.9 45.9,528.3 C44.9,527.7 44.0,527.1 43.2,526.2 C42.5,525.4 41.6,524.3 41.6,523.4 C41.5,522.4 42.3,521.3 43.0,520.4 C43.6,519.5 44.5,518.7 45.5,518.0 C46.5,517.3 47.7,516.4 49.0,516.2 C50.3,516.0 52.0,516.3 53.3,516.6 C54.6,516.9 55.9,517.5 56.8,518.2 C57.7,518.9 58.4,519.8 58.9,520.6 C59.4,521.5 59.5,522.4 59.7,523.4 Z" fill="none" stroke="#4c4c4c" stroke-width="0.45" opacity="1"/>
<path d="M59.3,522.8 C59.3,523.7 59.3,524.6 58.8,525.4 C58.3,526.2 57.4,526.9 56.5,527.5 C55.5,528.0 54.4,528.5 53.3,528.8 C52.1,529.1 50.6,529.4 49.4,529.2 C48.3,528.9 47.2,528.0 46.5,527.3 C45.7,526.7 45.4,525.9 44.9,525.1 C44.4,524.3 43.9,523.6 43.7,522.8 C43.6,522.0 43.7,521.1 44.1,520.2 C44.4,519.4 44.9,518.3 45.8,517.7 C46.7,517.1 48.2,516.6 49.5,516.5 C50.7,516.5 52.0,517.0 53.1,517.3 C54.2,517.6 55.3,517.9 56.2,518.3 C57.2,518.8 58.1,519.5 58.6,520.2 C59.1,521.0 59.2,521.9 59.3,522.8 Z" fill="none" stroke="#4c4c4c" stroke-width="0.6" opacity="1"/>
<path d="M58.0,522.2 C58.1,522.9 58.2,523.8 57.9,524.4 C57.6,525.1 56.8,525.8 56.0,526.2 C55.2,526.7 54.2,527.2 53.2,527.4 C52.2,527.6 51.0,527.5 50.0,527.3 C49.0,527.1 48.1,526.6 47.2,526.2 C46.4,525.7 45.4,525.2 45.0,524.5 C44.5,523.9 44.6,523.0 44.8,522.2 C44.9,521.5 45.5,520.9 45.9,520.3 C46.3,519.6 46.6,518.9 47.3,518.3 C47.9,517.8 48.9,517.3 49.9,517.1 C50.9,516.8 52.2,516.7 53.3,516.8 C54.3,517.0 55.5,517.5 56.2,518.0 C56.9,518.6 57.0,519.6 57.3,520.3 C57.6,521.0 57.9,521.5 58.0,522.2 Z" fill="none" stroke="#2c2c2c" stroke-width="0.6" opacity="1"/>
<path d="M57.8,521.7 C57.8,522.3 57.5,523.0 57.1,523.5 C56.7,524.0 55.9,524.4 55.3,524.8 C54.6,525.2 53.8,525.6 53.0,525.8 C52.2,525.9 51.2,525.9 50.4,525.7 C49.7,525.5 49.0,525.0 48.4,524.7 C47.7,524.3 46.8,524.0 46.3,523.5 C45.8,523.0 45.3,522.3 45.3,521.7 C45.3,521.1 45.6,520.3 46.1,519.8 C46.5,519.2 47.3,518.7 48.0,518.4 C48.7,518.1 49.7,518.1 50.6,518.1 C51.4,518.0 52.1,518.0 52.9,518.0 C53.8,518.0 54.9,517.9 55.6,518.2 C56.3,518.5 57.0,519.2 57.3,519.8 C57.7,520.3 57.8,521.1 57.8,521.7 Z" fill="none" stroke="#2c2c2c" stroke-width="0.6" opacity="1"/>
<path d="M56.6,521.1 C56.7,521.6 56.9,522.2 56.6,522.7 C56.4,523.1 55.7,523.6 55.1,523.8 C54.4,524.1 53.6,524.2 52.9,524.3 C52.2,524.3 51.5,524.2 50.9,524.1 C50.3,523.9 49.8,523.7 49.2,523.4 C48.6,523.2 47.9,523.0 47.4,522.6 C47.0,522.2 46.5,521.6 46.6,521.1 C46.6,520.6 47.1,520.1 47.5,519.7 C47.9,519.2 48.3,518.8 48.9,518.6 C49.5,518.3 50.2,518.1 50.8,518.0 C51.5,517.9 52.2,518.0 52.9,518.1 C53.6,518.1 54.4,518.2 54.9,518.5 C55.4,518.8 55.8,519.3 56.0,519.8 C56.3,520.2 56.5,520.6 56.6,521.1 Z" fill="none" stroke="#2c2c2c" stroke-width="0.6" opacity="1"/>
<path d="M56.0,520.6 C55.9,520.9 55.5,521.3 55.3,521.6 C55.0,521.9 54.7,522.2 54.3,522.4 C53.9,522.6 53.3,522.7 52.8,522.8 C52.3,522.9 51.7,522.9 51.2,522.9 C50.7,522.8 50.1,522.7 49.7,522.5 C49.3,522.2 49.1,521.9 48.8,521.6 C48.6,521.2 48.2,520.9 48.1,520.6 C48.1,520.2 48.1,519.7 48.4,519.4 C48.7,519.1 49.3,518.9 49.8,518.7 C50.3,518.6 50.8,518.4 51.3,518.4 C51.8,518.3 52.3,518.4 52.8,518.4 C53.3,518.5 53.8,518.6 54.3,518.7 C54.8,518.9 55.5,519.1 55.8,519.4 C56.1,519.7 56.1,520.2 56.0,520.6 Z" fill="none" stroke="#2c2c2c" stroke-width="0.6" opacity="1"/>
<path d="M54.8,520.0 C54.8,520.2 54.8,520.5 54.6,520.7 C54.4,520.9 54.1,521.0 53.8,521.2 C53.5,521.3 53.2,521.4 52.8,521.5 C52.4,521.6 51.9,521.6 51.6,521.6 C51.2,521.5 50.9,521.3 50.7,521.1 C50.4,520.9 50.3,520.8 50.1,520.6 C49.9,520.4 49.7,520.2 49.7,520.0 C49.6,519.8 49.7,519.5 49.8,519.3 C49.9,519.1 50.1,518.8 50.4,518.7 C50.7,518.6 51.2,518.5 51.6,518.5 C52.0,518.5 52.4,518.6 52.7,518.7 C53.1,518.7 53.5,518.8 53.8,518.9 C54.1,519.0 54.4,519.2 54.5,519.4 C54.7,519.5 54.7,519.8 54.8,520.0 Z" fill="none" stroke="#2c2c2c" stroke-width="0.6" opacity="1"/>
<ellipse cx="52.3" cy="519.2" rx="3.9" ry="1.7" fill="#1c1c1c" opacity="0.55" filter="url(#b03)"/>
<ellipse cx="52.2" cy="522.0" rx="1.3" ry="0.9" fill="#fff" opacity="0.85"/>
<path d="M86.0,524.1 C85.8,525.0 85.3,526.1 84.3,526.7 C83.4,527.4 81.5,527.4 80.3,527.7 C79.0,528.1 78.2,528.6 76.9,529.0 C75.6,529.3 73.8,529.8 72.3,529.6 C70.7,529.4 69.0,528.6 67.8,527.9 C66.6,527.1 65.4,526.0 65.1,525.1 C64.8,524.1 65.4,522.9 65.9,522.0 C66.4,521.2 67.3,520.6 67.9,519.8 C68.5,519.1 68.6,517.9 69.6,517.3 C70.6,516.7 72.3,516.4 73.7,516.3 C75.2,516.3 76.8,516.6 78.3,517.0 C79.7,517.3 81.5,517.7 82.6,518.4 C83.7,519.0 84.5,520.1 85.0,521.1 C85.6,522.0 86.1,523.1 86.0,524.1 Z" fill="none" stroke="#707070" stroke-width="0.45" opacity="1"/>
<path d="M83.7,523.4 C83.5,524.0 82.7,524.4 82.2,525.0 C81.6,525.5 81.3,526.2 80.3,526.5 C79.4,526.9 77.8,527.0 76.5,526.9 C75.3,526.8 74.0,526.3 72.9,525.9 C71.8,525.6 70.8,525.3 69.9,524.9 C69.1,524.5 68.5,523.9 67.9,523.4 C67.2,522.9 66.4,522.3 66.1,521.6 C65.8,521.0 65.5,520.0 66.1,519.5 C66.7,519.0 68.6,518.8 69.9,518.7 C71.1,518.6 72.4,518.7 73.6,518.7 C74.8,518.8 76.0,518.7 77.1,519.0 C78.2,519.2 79.2,519.6 80.2,520.0 C81.2,520.4 82.4,520.9 83.0,521.5 C83.6,522.0 83.8,522.8 83.7,523.4 Z" fill="none" stroke="#707070" stroke-width="0.45" opacity="1"/>
<path d="M61.7,506.0 C61.4,507.4 61.0,508.8 60.4,509.9 C59.8,510.9 58.8,511.4 58.0,512.1 C57.2,512.8 56.6,513.2 55.7,514.0 C54.8,514.7 53.5,516.6 52.4,516.7 C51.3,516.8 49.8,515.7 49.0,514.6 C48.3,513.5 48.0,511.5 47.8,510.1 C47.5,508.7 47.3,507.3 47.4,506.0 C47.6,504.7 48.2,503.6 48.7,502.5 C49.1,501.3 49.3,499.9 49.9,498.9 C50.6,497.8 51.6,496.5 52.6,496.3 C53.6,496.0 54.8,497.0 55.8,497.3 C56.9,497.7 58.0,497.7 59.0,498.3 C60.0,499.0 61.3,500.1 61.7,501.3 C62.2,502.6 61.9,504.6 61.7,506.0 Z" fill="none" stroke="#7a7a7a" stroke-width="0.45" opacity="1"/>
<path d="M77.0,503.8 C77.1,503.9 77.1,504.1 77.0,504.2 C77.0,504.3 76.9,504.4 76.7,504.5 C76.6,504.6 76.4,504.6 76.3,504.6 C76.1,504.7 75.9,504.6 75.8,504.6 C75.6,504.5 75.5,504.4 75.4,504.4 C75.2,504.3 75.1,504.2 75.0,504.1 C74.9,504.1 74.9,503.9 74.9,503.8 C74.9,503.7 75.0,503.6 75.0,503.5 C75.1,503.4 75.2,503.2 75.3,503.2 C75.4,503.1 75.6,503.0 75.7,503.0 C75.9,503.0 76.1,503.0 76.3,503.0 C76.4,503.0 76.6,503.1 76.7,503.2 C76.8,503.3 76.8,503.4 76.9,503.5 C76.9,503.6 77.0,503.7 77.0,503.8 Z" fill="none" stroke="#888" stroke-width="0.4" opacity="1"/>
<path d="M80.6,503.6 C80.6,503.7 80.5,503.8 80.5,503.9 C80.4,504.0 80.3,504.1 80.1,504.2 C80.0,504.2 80.0,504.3 79.8,504.4 C79.7,504.4 79.5,504.5 79.4,504.4 C79.2,504.4 79.1,504.3 79.0,504.2 C78.9,504.2 78.7,504.1 78.7,504.0 C78.6,503.8 78.6,503.7 78.6,503.6 C78.6,503.5 78.6,503.4 78.7,503.3 C78.8,503.2 78.9,503.0 79.0,503.0 C79.1,502.9 79.3,502.9 79.4,502.9 C79.5,502.9 79.7,502.9 79.8,502.9 C80.0,502.9 80.1,502.9 80.3,502.9 C80.4,503.0 80.5,503.1 80.6,503.2 C80.6,503.3 80.6,503.5 80.6,503.6 Z" fill="none" stroke="#888" stroke-width="0.4" opacity="1"/>
</g>
<rect x="34.1" y="481.4" width="58.49999999999999" height="58.0" fill="none" stroke="#111" stroke-width="1"/>
<line x1="63.2" y1="481.4" x2="63.2" y2="539.4" stroke="#111" stroke-width="1.0" />
<line x1="34.1" y1="514.6" x2="92.6" y2="514.6" stroke="#111" stroke-width="1.0" />
<path d="M32.1,535.9H34.1M32.800000000000004,526.6H34.1M32.800000000000004,523.7H34.1M32.800000000000004,521.4H34.1M32.1,519.7H34.1M32.800000000000004,510.4H34.1M32.800000000000004,505.8H34.1M32.800000000000004,502.9H34.1M32.1,501.1H34.1M32.800000000000004,493.0H34.1M32.800000000000004,488.4H34.1M32.1,485.5H34.1M36.4,539.4V541.5M45.8,539.4V540.8M48.1,539.4V540.8M49.9,539.4V540.8M51.6,539.4V541.5M58.7,539.4V540.8M63.3,539.4V540.8M66.3,539.4V540.8M69.2,539.4V541.5M77.4,539.4V540.8M82.1,539.4V540.8M85.0,539.4V540.8M87.3,539.4V541.5" stroke="#111" stroke-width="0.9" fill="none"/>
<text x="0" y="0" font-size="7.4" text-anchor="start" font-weight="normal" fill="#231f20" stroke="#231f20" stroke-width="0.18" transform="translate(35.5,487.29999999999995) scale(0.84,1)" >3.27</text>
<text x="0" y="0" font-size="7.4" text-anchor="end" font-weight="normal" fill="#231f20" stroke="#231f20" stroke-width="0.18" transform="translate(91.2,487.29999999999995) scale(0.84,1)" >2.22</text>
<text x="0" y="0" font-size="7.4" text-anchor="start" font-weight="normal" fill="#231f20" stroke="#231f20" stroke-width="0.18" transform="translate(35.5,537.5) scale(0.84,1)" >89.34</text>
<text x="0" y="0" font-size="7.4" text-anchor="end" font-weight="normal" fill="#231f20" stroke="#231f20" stroke-width="0.18" transform="translate(91.9,537.5) scale(0.84,1)" >5.18</text>
<line x1="23.6" y1="356" x2="23.6" y2="506" stroke="#111" stroke-width="0.9" />
<path d="M23.6,351.3 L20.6,358.6 L23.6,357.1 L26.6,358.6 Z" fill="#111"/>
<text x="0" y="0" font-size="9.5" text-anchor="middle" font-weight="normal" fill="#231f20" stroke="#231f20" stroke-width="0.18" textLength="15.8" lengthAdjust="spacingAndGlyphs" transform="translate(26.2,519.5) rotate(-90)" >IL-22</text>
<text x="63.7" y="552.3" font-size="9.5" text-anchor="middle" font-weight="normal" fill="#231f20" stroke="#231f20" stroke-width="0.18" textLength="20.6" lengthAdjust="spacingAndGlyphs" >IL-17A</text>
<text x="96.4" y="383.0" font-size="8.3" text-anchor="start" font-weight="normal" fill="#231f20" stroke="#231f20" stroke-width="0.18" textLength="31.4" lengthAdjust="spacingAndGlyphs" >CD11c<tspan dy="-3.15" font-size="5.81">cre</tspan><tspan dy="3.15" font-size="8.3">&#8203;</tspan></text>
<text x="96.4" y="442.7" font-size="8.3" text-anchor="start" font-weight="normal" fill="#231f20" stroke="#231f20" stroke-width="0.18" textLength="37.0" lengthAdjust="spacingAndGlyphs" >CD11c<tspan dy="-3.15" font-size="5.81">cre</tspan><tspan dy="3.15" font-size="8.3">&#8203;</tspan> x</text>
<text x="96.4" y="452.4" font-size="8.3" text-anchor="start" font-weight="normal" fill="#231f20" stroke="#231f20" stroke-width="0.18" textLength="22.6" lengthAdjust="spacingAndGlyphs" >IL-6R<tspan dy="-3.15" font-size="5.81">fl</tspan><tspan dy="3.15" font-size="8.3">&#8203;</tspan></text>
<text x="96.4" y="509.0" font-size="8.3" text-anchor="start" font-weight="normal" fill="#231f20" stroke="#231f20" stroke-width="0.18" textLength="31.4" lengthAdjust="spacingAndGlyphs" >CD11c<tspan dy="-3.15" font-size="5.81">cre</tspan><tspan dy="3.15" font-size="8.3">&#8203;</tspan></text>
<text x="96.4" y="518.6" font-size="8.3" text-anchor="start" font-weight="normal" fill="#231f20" stroke="#231f20" stroke-width="0.18" textLength="23.5" lengthAdjust="spacingAndGlyphs" >x IL-6<tspan dy="-3.15" font-size="5.81">fl</tspan><tspan dy="3.15" font-size="8.3">&#8203;</tspan></text>
<rect x="0.5" y="0.5" width="519" height="564" fill="none" stroke="#000" stroke-width="1.1"/>
</g></svg></body></html>
